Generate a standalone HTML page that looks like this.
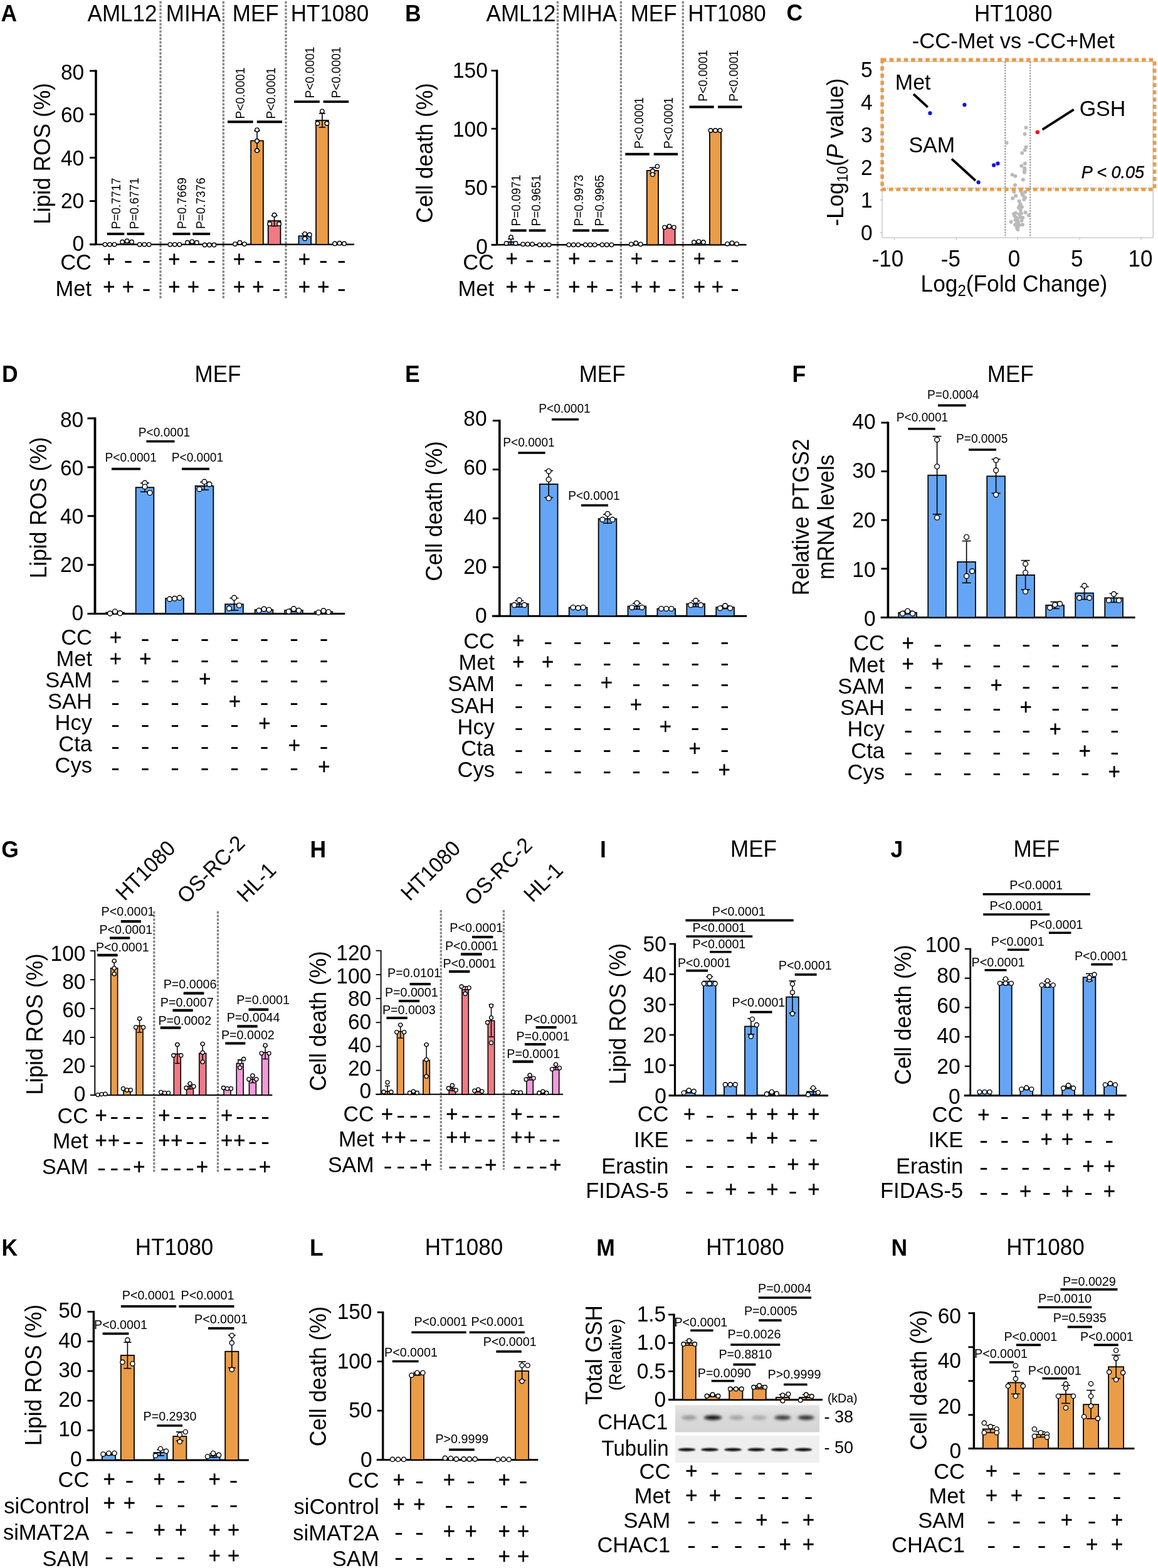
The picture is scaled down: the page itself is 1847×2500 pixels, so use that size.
<!DOCTYPE html>
<html><head><meta charset="utf-8"><title>Figure</title>
<style>html,body{margin:0;padding:0;background:#fff;}svg{display:block;}</style></head>
<body>
<svg width="1847" height="2500" viewBox="0 0 1847 2500" font-family="'Liberation Sans', Arial, Helvetica, sans-serif">
<defs><filter id="b1" x="-20%" y="-100%" width="140%" height="300%"><feGaussianBlur stdDeviation="1.1"/></filter><filter id="b2" x="-30%" y="-150%" width="160%" height="400%"><feGaussianBlur stdDeviation="2.2"/></filter><linearGradient id="gb1" x1="0" y1="0" x2="0" y2="1"><stop offset="0" stop-color="#e4e4e4"/><stop offset="0.4" stop-color="#dadada"/><stop offset="1" stop-color="#d4d4d4"/></linearGradient></defs>
<rect width="1847" height="2500" fill="#fff"/>
<text transform="translate(1.5,34) scale(1,1.04)" font-size="35.5" font-weight="bold">A</text>
<text transform="translate(195,34) scale(1,1.04)" font-size="35" text-anchor="middle">AML12</text>
<text transform="translate(308.5,34) scale(1,1.04)" font-size="35" text-anchor="middle">MIHA</text>
<text transform="translate(407.8,34) scale(1,1.04)" font-size="35" text-anchor="middle">MEF</text>
<text transform="translate(526,34) scale(1,1.04)" font-size="35" text-anchor="middle">HT1080</text>
<line x1="256" y1="2" x2="256" y2="476" stroke="#858585" stroke-width="3.3" stroke-dasharray="3.7 2.1"/>
<line x1="356.3" y1="2" x2="356.3" y2="476" stroke="#858585" stroke-width="3.3" stroke-dasharray="3.7 2.1"/>
<line x1="456" y1="2" x2="456" y2="476" stroke="#858585" stroke-width="3.3" stroke-dasharray="3.7 2.1"/>
<line x1="153" y1="111.56" x2="153" y2="389.8" stroke="#000" stroke-width="3.6"/>
<line x1="143" y1="389.8" x2="153" y2="389.8" stroke="#000" stroke-width="2.88"/>
<line x1="143" y1="320.6" x2="153" y2="320.6" stroke="#000" stroke-width="2.88"/>
<line x1="143" y1="251.4" x2="153" y2="251.4" stroke="#000" stroke-width="2.88"/>
<line x1="143" y1="182.2" x2="153" y2="182.2" stroke="#000" stroke-width="2.88"/>
<line x1="143" y1="113" x2="153" y2="113" stroke="#000" stroke-width="2.88"/>
<text transform="translate(134.2,399.75) scale(1,1.04)" font-size="33.5" text-anchor="end">0</text>
<text transform="translate(134.2,331.65) scale(1,1.04)" font-size="33.5" text-anchor="end">20</text>
<text transform="translate(134.2,263.56) scale(1,1.04)" font-size="33.5" text-anchor="end">40</text>
<text transform="translate(134.2,195.47) scale(1,1.04)" font-size="33.5" text-anchor="end">60</text>
<text transform="translate(134.2,127.37) scale(1,1.04)" font-size="33.5" text-anchor="end">80</text>
<line x1="143" y1="389.8" x2="565" y2="389.8" stroke="#000" stroke-width="2.6"/>
<text transform="translate(80,245) rotate(-90) scale(1,1.04)" font-size="35.3" text-anchor="middle">Lipid ROS (%)</text>
<rect x="165.15" y="389.28" width="19.7" height="0.52" fill="#64A6F5" stroke="#000" stroke-width="1.8"/>
<circle cx="167.5" cy="389.8" r="3.2" fill="#fff" stroke="#000" stroke-width="1.4"/>
<circle cx="175" cy="389.8" r="3.2" fill="#fff" stroke="#000" stroke-width="1.4"/>
<circle cx="182.5" cy="389.8" r="3.2" fill="#fff" stroke="#000" stroke-width="1.4"/>
<rect x="192.75" y="386.34" width="19.7" height="3.46" fill="#EB9C47" stroke="#000" stroke-width="1.8"/>
<line x1="202.6" y1="387.38" x2="202.6" y2="385.3" stroke="#000" stroke-width="1.6"/>
<line x1="197.6" y1="385.3" x2="207.6" y2="385.3" stroke="#000" stroke-width="1.6"/>
<line x1="197.6" y1="387.38" x2="207.6" y2="387.38" stroke="#000" stroke-width="1.6"/>
<circle cx="195.1" cy="385.65" r="3.2" fill="#fff" stroke="#000" stroke-width="1.4"/>
<circle cx="202.6" cy="384.26" r="3.2" fill="#fff" stroke="#000" stroke-width="1.4"/>
<circle cx="210.1" cy="385.65" r="3.2" fill="#fff" stroke="#000" stroke-width="1.4"/>
<rect x="220.35" y="389.45" width="19.7" height="0.35" fill="#F07A84" stroke="#000" stroke-width="1.8"/>
<circle cx="222.7" cy="389.8" r="3.2" fill="#fff" stroke="#000" stroke-width="1.4"/>
<circle cx="230.2" cy="389.8" r="3.2" fill="#fff" stroke="#000" stroke-width="1.4"/>
<circle cx="237.7" cy="389.8" r="3.2" fill="#fff" stroke="#000" stroke-width="1.4"/>
<rect x="268.95" y="389.45" width="19.7" height="0.35" fill="#64A6F5" stroke="#000" stroke-width="1.8"/>
<circle cx="271.3" cy="389.8" r="3.2" fill="#fff" stroke="#000" stroke-width="1.4"/>
<circle cx="278.8" cy="389.8" r="3.2" fill="#fff" stroke="#000" stroke-width="1.4"/>
<circle cx="286.3" cy="389.8" r="3.2" fill="#fff" stroke="#000" stroke-width="1.4"/>
<rect x="296.55" y="387.03" width="19.7" height="2.77" fill="#EB9C47" stroke="#000" stroke-width="1.8"/>
<line x1="306.4" y1="387.72" x2="306.4" y2="386.34" stroke="#000" stroke-width="1.6"/>
<line x1="301.4" y1="386.34" x2="311.4" y2="386.34" stroke="#000" stroke-width="1.6"/>
<line x1="301.4" y1="387.72" x2="311.4" y2="387.72" stroke="#000" stroke-width="1.6"/>
<circle cx="298.9" cy="386.69" r="3.2" fill="#fff" stroke="#000" stroke-width="1.4"/>
<circle cx="306.4" cy="385.3" r="3.2" fill="#fff" stroke="#000" stroke-width="1.4"/>
<circle cx="313.9" cy="386.69" r="3.2" fill="#fff" stroke="#000" stroke-width="1.4"/>
<rect x="324.15" y="389.45" width="19.7" height="0.35" fill="#F07A84" stroke="#000" stroke-width="1.8"/>
<circle cx="326.5" cy="390.49" r="3.2" fill="#fff" stroke="#000" stroke-width="1.4"/>
<circle cx="334" cy="390.49" r="3.2" fill="#fff" stroke="#000" stroke-width="1.4"/>
<circle cx="341.5" cy="390.49" r="3.2" fill="#fff" stroke="#000" stroke-width="1.4"/>
<rect x="372.55" y="388.42" width="19.7" height="1.38" fill="#64A6F5" stroke="#000" stroke-width="1.8"/>
<line x1="382.4" y1="389.45" x2="382.4" y2="387.38" stroke="#000" stroke-width="1.6"/>
<line x1="377.4" y1="387.38" x2="387.4" y2="387.38" stroke="#000" stroke-width="1.6"/>
<line x1="377.4" y1="389.45" x2="387.4" y2="389.45" stroke="#000" stroke-width="1.6"/>
<circle cx="374.9" cy="389.11" r="3.2" fill="#fff" stroke="#000" stroke-width="1.4"/>
<circle cx="382.4" cy="386.69" r="3.2" fill="#fff" stroke="#000" stroke-width="1.4"/>
<circle cx="389.9" cy="389.11" r="3.2" fill="#fff" stroke="#000" stroke-width="1.4"/>
<rect x="400.15" y="224.41" width="19.7" height="165.39" fill="#EB9C47" stroke="#000" stroke-width="1.8"/>
<line x1="410" y1="240.33" x2="410" y2="208.5" stroke="#000" stroke-width="1.6"/>
<line x1="405" y1="208.5" x2="415" y2="208.5" stroke="#000" stroke-width="1.6"/>
<line x1="405" y1="240.33" x2="415" y2="240.33" stroke="#000" stroke-width="1.6"/>
<circle cx="410" cy="207.11" r="3.2" fill="#fff" stroke="#000" stroke-width="1.4"/>
<circle cx="410" cy="224.76" r="3.2" fill="#fff" stroke="#000" stroke-width="1.4"/>
<circle cx="410" cy="239.98" r="3.2" fill="#fff" stroke="#000" stroke-width="1.4"/>
<rect x="427.75" y="352.09" width="19.7" height="37.71" fill="#F07A84" stroke="#000" stroke-width="1.8"/>
<line x1="437.6" y1="360.39" x2="437.6" y2="343.78" stroke="#000" stroke-width="1.6"/>
<line x1="432.6" y1="343.78" x2="442.6" y2="343.78" stroke="#000" stroke-width="1.6"/>
<line x1="432.6" y1="360.39" x2="442.6" y2="360.39" stroke="#000" stroke-width="1.6"/>
<circle cx="437.6" cy="342.74" r="3.2" fill="#fff" stroke="#000" stroke-width="1.4"/>
<circle cx="430.1" cy="356.93" r="3.2" fill="#fff" stroke="#000" stroke-width="1.4"/>
<circle cx="445.1" cy="356.93" r="3.2" fill="#fff" stroke="#000" stroke-width="1.4"/>
<rect x="476.45" y="376.31" width="19.7" height="13.49" fill="#64A6F5" stroke="#000" stroke-width="1.8"/>
<line x1="486.3" y1="379.77" x2="486.3" y2="372.85" stroke="#000" stroke-width="1.6"/>
<line x1="481.3" y1="372.85" x2="491.3" y2="372.85" stroke="#000" stroke-width="1.6"/>
<line x1="481.3" y1="379.77" x2="491.3" y2="379.77" stroke="#000" stroke-width="1.6"/>
<circle cx="486.3" cy="372.85" r="3.2" fill="#fff" stroke="#000" stroke-width="1.4"/>
<circle cx="493.8" cy="374.23" r="3.2" fill="#fff" stroke="#000" stroke-width="1.4"/>
<circle cx="486.3" cy="380.46" r="3.2" fill="#fff" stroke="#000" stroke-width="1.4"/>
<rect x="504.05" y="191.89" width="19.7" height="197.91" fill="#EB9C47" stroke="#000" stroke-width="1.8"/>
<line x1="513.9" y1="202.96" x2="513.9" y2="180.82" stroke="#000" stroke-width="1.6"/>
<line x1="508.9" y1="180.82" x2="518.9" y2="180.82" stroke="#000" stroke-width="1.6"/>
<line x1="508.9" y1="202.96" x2="518.9" y2="202.96" stroke="#000" stroke-width="1.6"/>
<circle cx="506.4" cy="196.73" r="3.2" fill="#fff" stroke="#000" stroke-width="1.4"/>
<circle cx="521.4" cy="196.73" r="3.2" fill="#fff" stroke="#000" stroke-width="1.4"/>
<circle cx="513.9" cy="177.36" r="3.2" fill="#fff" stroke="#000" stroke-width="1.4"/>
<rect x="531.65" y="388.42" width="19.7" height="1.38" fill="#F07A84" stroke="#000" stroke-width="1.8"/>
<line x1="541.5" y1="389.11" x2="541.5" y2="387.72" stroke="#000" stroke-width="1.6"/>
<line x1="536.5" y1="387.72" x2="546.5" y2="387.72" stroke="#000" stroke-width="1.6"/>
<line x1="536.5" y1="389.11" x2="546.5" y2="389.11" stroke="#000" stroke-width="1.6"/>
<circle cx="534" cy="388.42" r="3.2" fill="#fff" stroke="#000" stroke-width="1.4"/>
<circle cx="541.5" cy="387.72" r="3.2" fill="#fff" stroke="#000" stroke-width="1.4"/>
<circle cx="549" cy="388.42" r="3.2" fill="#fff" stroke="#000" stroke-width="1.4"/>
<line x1="170.8" y1="372.9" x2="198.4" y2="372.9" stroke="#000" stroke-width="3.9"/>
<text transform="translate(192.26,365.2) rotate(-90) scale(0.95,1.04)" font-size="20">P=0.7717</text>
<line x1="202.5" y1="372.9" x2="230.2" y2="372.9" stroke="#000" stroke-width="3.9"/>
<text transform="translate(221.16,365.2) rotate(-90) scale(0.95,1.04)" font-size="20">P=0.6771</text>
<line x1="275.4" y1="372.9" x2="303.4" y2="372.9" stroke="#000" stroke-width="3.9"/>
<text transform="translate(297.16,365.1) rotate(-90) scale(0.95,1.04)" font-size="20">P=0.7669</text>
<line x1="307.2" y1="372.9" x2="335.2" y2="372.9" stroke="#000" stroke-width="3.9"/>
<text transform="translate(326.86,365.1) rotate(-90) scale(0.95,1.04)" font-size="20">P=0.7376</text>
<line x1="363" y1="194.3" x2="403.6" y2="194.3" stroke="#000" stroke-width="3.9"/>
<text transform="translate(390.06,189.5) rotate(-90) scale(0.95,1.04)" font-size="20">P&lt;0.0001</text>
<line x1="409.8" y1="194.3" x2="450.1" y2="194.3" stroke="#000" stroke-width="3.9"/>
<text transform="translate(439.46,189.5) rotate(-90) scale(0.95,1.04)" font-size="20">P&lt;0.0001</text>
<line x1="469.1" y1="162.1" x2="509.8" y2="162.1" stroke="#000" stroke-width="3.9"/>
<text transform="translate(500.96,156.5) rotate(-90) scale(0.95,1.04)" font-size="20">P&lt;0.0001</text>
<line x1="515.6" y1="162.1" x2="556.1" y2="162.1" stroke="#000" stroke-width="3.9"/>
<text transform="translate(543.46,156.5) rotate(-90) scale(0.95,1.04)" font-size="20">P&lt;0.0001</text>
<text transform="translate(146,430.2) scale(1,1.04)" font-size="34.5" text-anchor="end">CC</text>
<text transform="translate(174,424.81) scale(1,1.04)" font-size="33" text-anchor="middle" stroke="#000" stroke-width="0.35">+</text>
<text transform="translate(204.5,426.92) scale(1.28,1.12)" font-size="33" text-anchor="middle">-</text>
<text transform="translate(233.5,426.92) scale(1.28,1.12)" font-size="33" text-anchor="middle">-</text>
<text transform="translate(277.8,424.81) scale(1,1.04)" font-size="33" text-anchor="middle" stroke="#000" stroke-width="0.35">+</text>
<text transform="translate(308.3,426.92) scale(1.28,1.12)" font-size="33" text-anchor="middle">-</text>
<text transform="translate(337.3,426.92) scale(1.28,1.12)" font-size="33" text-anchor="middle">-</text>
<text transform="translate(381.4,424.81) scale(1,1.04)" font-size="33" text-anchor="middle" stroke="#000" stroke-width="0.35">+</text>
<text transform="translate(411.9,426.92) scale(1.28,1.12)" font-size="33" text-anchor="middle">-</text>
<text transform="translate(440.9,426.92) scale(1.28,1.12)" font-size="33" text-anchor="middle">-</text>
<text transform="translate(485.3,424.81) scale(1,1.04)" font-size="33" text-anchor="middle" stroke="#000" stroke-width="0.35">+</text>
<text transform="translate(515.8,426.92) scale(1.28,1.12)" font-size="33" text-anchor="middle">-</text>
<text transform="translate(544.8,426.92) scale(1.28,1.12)" font-size="33" text-anchor="middle">-</text>
<text transform="translate(146,472.2) scale(1,1.04)" font-size="34.5" text-anchor="end">Met</text>
<text transform="translate(174,469.41) scale(1,1.04)" font-size="33" text-anchor="middle" stroke="#000" stroke-width="0.35">+</text>
<text transform="translate(204.5,469.41) scale(1,1.04)" font-size="33" text-anchor="middle" stroke="#000" stroke-width="0.35">+</text>
<text transform="translate(233.5,471.52) scale(1.28,1.12)" font-size="33" text-anchor="middle">-</text>
<text transform="translate(277.8,469.41) scale(1,1.04)" font-size="33" text-anchor="middle" stroke="#000" stroke-width="0.35">+</text>
<text transform="translate(308.3,469.41) scale(1,1.04)" font-size="33" text-anchor="middle" stroke="#000" stroke-width="0.35">+</text>
<text transform="translate(337.3,471.52) scale(1.28,1.12)" font-size="33" text-anchor="middle">-</text>
<text transform="translate(381.4,469.41) scale(1,1.04)" font-size="33" text-anchor="middle" stroke="#000" stroke-width="0.35">+</text>
<text transform="translate(411.9,469.41) scale(1,1.04)" font-size="33" text-anchor="middle" stroke="#000" stroke-width="0.35">+</text>
<text transform="translate(440.9,471.52) scale(1.28,1.12)" font-size="33" text-anchor="middle">-</text>
<text transform="translate(485.3,469.41) scale(1,1.04)" font-size="33" text-anchor="middle" stroke="#000" stroke-width="0.35">+</text>
<text transform="translate(515.8,469.41) scale(1,1.04)" font-size="33" text-anchor="middle" stroke="#000" stroke-width="0.35">+</text>
<text transform="translate(544.8,471.52) scale(1.28,1.12)" font-size="33" text-anchor="middle">-</text>
<text transform="translate(646,34) scale(1,1.04)" font-size="35.5" font-weight="bold">B</text>
<text transform="translate(831,34) scale(1,1.04)" font-size="35" text-anchor="middle">AML12</text>
<text transform="translate(940.3,34) scale(1,1.04)" font-size="35" text-anchor="middle">MIHA</text>
<text transform="translate(1042.6,34) scale(1,1.04)" font-size="35" text-anchor="middle">MEF</text>
<text transform="translate(1159.6,34) scale(1,1.04)" font-size="35" text-anchor="middle">HT1080</text>
<line x1="889.5" y1="2" x2="889.5" y2="476" stroke="#858585" stroke-width="3.3" stroke-dasharray="3.7 2.1"/>
<line x1="990.4" y1="2" x2="990.4" y2="476" stroke="#858585" stroke-width="3.3" stroke-dasharray="3.7 2.1"/>
<line x1="1089.3" y1="2" x2="1089.3" y2="476" stroke="#858585" stroke-width="3.3" stroke-dasharray="3.7 2.1"/>
<line x1="792.6" y1="111.29" x2="792.6" y2="390.3" stroke="#000" stroke-width="3.4"/>
<line x1="783.6" y1="390.3" x2="792.6" y2="390.3" stroke="#000" stroke-width="2.72"/>
<line x1="783.6" y1="297.75" x2="792.6" y2="297.75" stroke="#000" stroke-width="2.72"/>
<line x1="783.6" y1="205.2" x2="792.6" y2="205.2" stroke="#000" stroke-width="2.72"/>
<line x1="783.6" y1="112.65" x2="792.6" y2="112.65" stroke="#000" stroke-width="2.72"/>
<text transform="translate(777.8,404.85) scale(1,1.04)" font-size="33.5" text-anchor="end">0</text>
<text transform="translate(777.8,311.37) scale(1,1.04)" font-size="33.5" text-anchor="end">50</text>
<text transform="translate(777.8,217.9) scale(1,1.04)" font-size="33.5" text-anchor="end">100</text>
<text transform="translate(777.8,124.42) scale(1,1.04)" font-size="33.5" text-anchor="end">150</text>
<line x1="784" y1="390.3" x2="1190.5" y2="390.3" stroke="#000" stroke-width="2.6"/>
<text transform="translate(690,244) rotate(-90) scale(1,1.04)" font-size="35.3" text-anchor="middle">Cell death (%)</text>
<rect x="805.9" y="385.67" width="18.2" height="4.63" fill="#64A6F5" stroke="#000" stroke-width="1.8"/>
<line x1="815" y1="390.3" x2="815" y2="381.05" stroke="#000" stroke-width="1.6"/>
<line x1="810" y1="381.05" x2="820" y2="381.05" stroke="#000" stroke-width="1.6"/>
<circle cx="815" cy="378.27" r="3.2" fill="#fff" stroke="#000" stroke-width="1.4"/>
<circle cx="807.5" cy="388.08" r="3.2" fill="#fff" stroke="#000" stroke-width="1.4"/>
<circle cx="822.5" cy="388.08" r="3.2" fill="#fff" stroke="#000" stroke-width="1.4"/>
<rect x="832.5" y="389.56" width="18.2" height="0.74" fill="#EB9C47" stroke="#000" stroke-width="1.8"/>
<circle cx="834.1" cy="389.37" r="3.2" fill="#fff" stroke="#000" stroke-width="1.4"/>
<circle cx="841.6" cy="389.37" r="3.2" fill="#fff" stroke="#000" stroke-width="1.4"/>
<circle cx="849.1" cy="389.37" r="3.2" fill="#fff" stroke="#000" stroke-width="1.4"/>
<rect x="859.1" y="389.93" width="18.2" height="0.37" fill="#F07A84" stroke="#000" stroke-width="1.8"/>
<circle cx="860.7" cy="390.3" r="3.2" fill="#fff" stroke="#000" stroke-width="1.4"/>
<circle cx="868.2" cy="390.3" r="3.2" fill="#fff" stroke="#000" stroke-width="1.4"/>
<circle cx="875.7" cy="390.3" r="3.2" fill="#fff" stroke="#000" stroke-width="1.4"/>
<rect x="905.6" y="389.93" width="18.2" height="0.37" fill="#64A6F5" stroke="#000" stroke-width="1.8"/>
<circle cx="907.2" cy="390.3" r="3.2" fill="#fff" stroke="#000" stroke-width="1.4"/>
<circle cx="914.7" cy="390.3" r="3.2" fill="#fff" stroke="#000" stroke-width="1.4"/>
<circle cx="922.2" cy="390.3" r="3.2" fill="#fff" stroke="#000" stroke-width="1.4"/>
<rect x="932.2" y="389.93" width="18.2" height="0.37" fill="#EB9C47" stroke="#000" stroke-width="1.8"/>
<circle cx="933.8" cy="390.3" r="3.2" fill="#fff" stroke="#000" stroke-width="1.4"/>
<circle cx="941.3" cy="390.3" r="3.2" fill="#fff" stroke="#000" stroke-width="1.4"/>
<circle cx="948.8" cy="390.3" r="3.2" fill="#fff" stroke="#000" stroke-width="1.4"/>
<rect x="958.8" y="389.93" width="18.2" height="0.37" fill="#F07A84" stroke="#000" stroke-width="1.8"/>
<circle cx="960.4" cy="390.3" r="3.2" fill="#fff" stroke="#000" stroke-width="1.4"/>
<circle cx="967.9" cy="390.3" r="3.2" fill="#fff" stroke="#000" stroke-width="1.4"/>
<circle cx="975.4" cy="390.3" r="3.2" fill="#fff" stroke="#000" stroke-width="1.4"/>
<rect x="1005.2" y="388.82" width="18.2" height="1.48" fill="#64A6F5" stroke="#000" stroke-width="1.8"/>
<line x1="1014.3" y1="389.74" x2="1014.3" y2="387.89" stroke="#000" stroke-width="1.6"/>
<line x1="1009.3" y1="387.89" x2="1019.3" y2="387.89" stroke="#000" stroke-width="1.6"/>
<line x1="1009.3" y1="389.74" x2="1019.3" y2="389.74" stroke="#000" stroke-width="1.6"/>
<circle cx="1006.8" cy="389.37" r="3.2" fill="#fff" stroke="#000" stroke-width="1.4"/>
<circle cx="1014.3" cy="387.52" r="3.2" fill="#fff" stroke="#000" stroke-width="1.4"/>
<circle cx="1021.8" cy="389.37" r="3.2" fill="#fff" stroke="#000" stroke-width="1.4"/>
<rect x="1031.8" y="272.02" width="18.2" height="118.28" fill="#EB9C47" stroke="#000" stroke-width="1.8"/>
<line x1="1040.9" y1="276.83" x2="1040.9" y2="267.21" stroke="#000" stroke-width="1.6"/>
<line x1="1035.9" y1="267.21" x2="1045.9" y2="267.21" stroke="#000" stroke-width="1.6"/>
<line x1="1035.9" y1="276.83" x2="1045.9" y2="276.83" stroke="#000" stroke-width="1.6"/>
<circle cx="1048.4" cy="265.36" r="3.2" fill="#fff" stroke="#000" stroke-width="1.4"/>
<circle cx="1040.9" cy="272.76" r="3.2" fill="#fff" stroke="#000" stroke-width="1.4"/>
<circle cx="1040.9" cy="278.31" r="3.2" fill="#fff" stroke="#000" stroke-width="1.4"/>
<rect x="1058.4" y="361.98" width="18.2" height="28.32" fill="#F07A84" stroke="#000" stroke-width="1.8"/>
<line x1="1067.5" y1="363.46" x2="1067.5" y2="360.5" stroke="#000" stroke-width="1.6"/>
<line x1="1062.5" y1="360.5" x2="1072.5" y2="360.5" stroke="#000" stroke-width="1.6"/>
<line x1="1062.5" y1="363.46" x2="1072.5" y2="363.46" stroke="#000" stroke-width="1.6"/>
<circle cx="1060" cy="362.54" r="3.2" fill="#fff" stroke="#000" stroke-width="1.4"/>
<circle cx="1067.5" cy="360.68" r="3.2" fill="#fff" stroke="#000" stroke-width="1.4"/>
<circle cx="1075" cy="362.54" r="3.2" fill="#fff" stroke="#000" stroke-width="1.4"/>
<rect x="1105.3" y="386.6" width="18.2" height="3.7" fill="#64A6F5" stroke="#000" stroke-width="1.8"/>
<line x1="1114.4" y1="387.71" x2="1114.4" y2="385.49" stroke="#000" stroke-width="1.6"/>
<line x1="1109.4" y1="385.49" x2="1119.4" y2="385.49" stroke="#000" stroke-width="1.6"/>
<line x1="1109.4" y1="387.71" x2="1119.4" y2="387.71" stroke="#000" stroke-width="1.6"/>
<circle cx="1106.9" cy="386.23" r="3.2" fill="#fff" stroke="#000" stroke-width="1.4"/>
<circle cx="1114.4" cy="385.12" r="3.2" fill="#fff" stroke="#000" stroke-width="1.4"/>
<circle cx="1121.9" cy="386.23" r="3.2" fill="#fff" stroke="#000" stroke-width="1.4"/>
<rect x="1131.9" y="208.35" width="18.2" height="181.95" fill="#EB9C47" stroke="#000" stroke-width="1.8"/>
<line x1="1141" y1="209.09" x2="1141" y2="207.61" stroke="#000" stroke-width="1.6"/>
<line x1="1136" y1="207.61" x2="1146" y2="207.61" stroke="#000" stroke-width="1.6"/>
<line x1="1136" y1="209.09" x2="1146" y2="209.09" stroke="#000" stroke-width="1.6"/>
<circle cx="1133.5" cy="207.98" r="3.2" fill="#fff" stroke="#000" stroke-width="1.4"/>
<circle cx="1141" cy="207.98" r="3.2" fill="#fff" stroke="#000" stroke-width="1.4"/>
<circle cx="1148.5" cy="207.98" r="3.2" fill="#fff" stroke="#000" stroke-width="1.4"/>
<rect x="1158.5" y="388.45" width="18.2" height="1.85" fill="#F07A84" stroke="#000" stroke-width="1.8"/>
<line x1="1167.6" y1="389.19" x2="1167.6" y2="387.71" stroke="#000" stroke-width="1.6"/>
<line x1="1162.6" y1="387.71" x2="1172.6" y2="387.71" stroke="#000" stroke-width="1.6"/>
<line x1="1162.6" y1="389.19" x2="1172.6" y2="389.19" stroke="#000" stroke-width="1.6"/>
<circle cx="1160.1" cy="388.82" r="3.2" fill="#fff" stroke="#000" stroke-width="1.4"/>
<circle cx="1167.6" cy="387.52" r="3.2" fill="#fff" stroke="#000" stroke-width="1.4"/>
<circle cx="1175.1" cy="388.82" r="3.2" fill="#fff" stroke="#000" stroke-width="1.4"/>
<line x1="814" y1="367.5" x2="839.7" y2="367.5" stroke="#000" stroke-width="4"/>
<text transform="translate(829.86,360.4) rotate(-90) scale(0.95,1.04)" font-size="20">P=0.0971</text>
<line x1="843.7" y1="367.5" x2="870.4" y2="367.5" stroke="#000" stroke-width="4"/>
<text transform="translate(862.26,360.4) rotate(-90) scale(0.95,1.04)" font-size="20">P=0.9651</text>
<line x1="913.3" y1="367.5" x2="940.1" y2="367.5" stroke="#000" stroke-width="4"/>
<text transform="translate(930.26,360.4) rotate(-90) scale(0.95,1.04)" font-size="20">P=0.9973</text>
<line x1="944" y1="367.5" x2="970.8" y2="367.5" stroke="#000" stroke-width="4"/>
<text transform="translate(962.76,360.4) rotate(-90) scale(0.95,1.04)" font-size="20">P=0.9965</text>
<line x1="997.3" y1="245.8" x2="1035.8" y2="245.8" stroke="#000" stroke-width="4"/>
<text transform="translate(1026.16,237) rotate(-90) scale(0.95,1.04)" font-size="20">P&lt;0.0001</text>
<line x1="1042.7" y1="245.8" x2="1081" y2="245.8" stroke="#000" stroke-width="4"/>
<text transform="translate(1072.56,237) rotate(-90) scale(0.95,1.04)" font-size="20">P&lt;0.0001</text>
<line x1="1099.6" y1="170.4" x2="1138.7" y2="170.4" stroke="#000" stroke-width="4"/>
<text transform="translate(1128.16,161.7) rotate(-90) scale(0.95,1.04)" font-size="20">P&lt;0.0001</text>
<line x1="1145" y1="170.4" x2="1183.5" y2="170.4" stroke="#000" stroke-width="4"/>
<text transform="translate(1176.56,161.7) rotate(-90) scale(0.95,1.04)" font-size="20">P&lt;0.0001</text>
<text transform="translate(788,429.5) scale(1,1.04)" font-size="34.5" text-anchor="end">CC</text>
<text transform="translate(816.1,423.81) scale(1,1.04)" font-size="33" text-anchor="middle" stroke="#000" stroke-width="0.35">+</text>
<text transform="translate(844.9,425.92) scale(1.28,1.12)" font-size="33" text-anchor="middle">-</text>
<text transform="translate(872.7,425.92) scale(1.28,1.12)" font-size="33" text-anchor="middle">-</text>
<text transform="translate(915.8,423.81) scale(1,1.04)" font-size="33" text-anchor="middle" stroke="#000" stroke-width="0.35">+</text>
<text transform="translate(944.6,425.92) scale(1.28,1.12)" font-size="33" text-anchor="middle">-</text>
<text transform="translate(972.4,425.92) scale(1.28,1.12)" font-size="33" text-anchor="middle">-</text>
<text transform="translate(1015.4,423.81) scale(1,1.04)" font-size="33" text-anchor="middle" stroke="#000" stroke-width="0.35">+</text>
<text transform="translate(1044.2,425.92) scale(1.28,1.12)" font-size="33" text-anchor="middle">-</text>
<text transform="translate(1072,425.92) scale(1.28,1.12)" font-size="33" text-anchor="middle">-</text>
<text transform="translate(1115.5,423.81) scale(1,1.04)" font-size="33" text-anchor="middle" stroke="#000" stroke-width="0.35">+</text>
<text transform="translate(1144.3,425.92) scale(1.28,1.12)" font-size="33" text-anchor="middle">-</text>
<text transform="translate(1172.1,425.92) scale(1.28,1.12)" font-size="33" text-anchor="middle">-</text>
<text transform="translate(788,471.5) scale(1,1.04)" font-size="34.5" text-anchor="end">Met</text>
<text transform="translate(816.1,469.41) scale(1,1.04)" font-size="33" text-anchor="middle" stroke="#000" stroke-width="0.35">+</text>
<text transform="translate(844.9,469.41) scale(1,1.04)" font-size="33" text-anchor="middle" stroke="#000" stroke-width="0.35">+</text>
<text transform="translate(872.7,471.52) scale(1.28,1.12)" font-size="33" text-anchor="middle">-</text>
<text transform="translate(915.8,469.41) scale(1,1.04)" font-size="33" text-anchor="middle" stroke="#000" stroke-width="0.35">+</text>
<text transform="translate(944.6,469.41) scale(1,1.04)" font-size="33" text-anchor="middle" stroke="#000" stroke-width="0.35">+</text>
<text transform="translate(972.4,471.52) scale(1.28,1.12)" font-size="33" text-anchor="middle">-</text>
<text transform="translate(1015.4,469.41) scale(1,1.04)" font-size="33" text-anchor="middle" stroke="#000" stroke-width="0.35">+</text>
<text transform="translate(1044.2,469.41) scale(1,1.04)" font-size="33" text-anchor="middle" stroke="#000" stroke-width="0.35">+</text>
<text transform="translate(1072,471.52) scale(1.28,1.12)" font-size="33" text-anchor="middle">-</text>
<text transform="translate(1115.5,469.41) scale(1,1.04)" font-size="33" text-anchor="middle" stroke="#000" stroke-width="0.35">+</text>
<text transform="translate(1144.3,469.41) scale(1,1.04)" font-size="33" text-anchor="middle" stroke="#000" stroke-width="0.35">+</text>
<text transform="translate(1172.1,471.52) scale(1.28,1.12)" font-size="33" text-anchor="middle">-</text>
<text transform="translate(1254.5,33.3) scale(1,1.04)" font-size="35.5" font-weight="bold">C</text>
<text transform="translate(1616.3,33.8) scale(1,1.04)" font-size="35" text-anchor="middle">HT1080</text>
<text transform="translate(1616.3,77.2) scale(1,1.04)" font-size="34.5" text-anchor="middle">-CC-Met vs -CC+Met</text>
<rect x="1407" y="98.2" width="432.2" height="280.7" fill="none" stroke="#c4c4c4" stroke-width="1.3"/>
<line x1="1426.6" y1="378.9" x2="1426.6" y2="382.5" stroke="#b0b0b0" stroke-width="1"/>
<line x1="1525.6" y1="378.9" x2="1525.6" y2="382.5" stroke="#b0b0b0" stroke-width="1"/>
<line x1="1623.1" y1="378.9" x2="1623.1" y2="382.5" stroke="#b0b0b0" stroke-width="1"/>
<line x1="1722" y1="378.9" x2="1722" y2="382.5" stroke="#b0b0b0" stroke-width="1"/>
<line x1="1820.1" y1="378.9" x2="1820.1" y2="382.5" stroke="#b0b0b0" stroke-width="1"/>
<line x1="1404" y1="370.8" x2="1407" y2="370.8" stroke="#b0b0b0" stroke-width="1"/>
<line x1="1404" y1="318.9" x2="1407" y2="318.9" stroke="#b0b0b0" stroke-width="1"/>
<line x1="1404" y1="267" x2="1407" y2="267" stroke="#b0b0b0" stroke-width="1"/>
<line x1="1404" y1="215.1" x2="1407" y2="215.1" stroke="#b0b0b0" stroke-width="1"/>
<line x1="1404" y1="163.2" x2="1407" y2="163.2" stroke="#b0b0b0" stroke-width="1"/>
<line x1="1404" y1="111.3" x2="1407" y2="111.3" stroke="#b0b0b0" stroke-width="1"/>
<line x1="1603.2" y1="98.5" x2="1603.2" y2="378.5" stroke="#444" stroke-width="1.1" stroke-dasharray="2.4 1.9"/>
<line x1="1643.1" y1="98.5" x2="1643.1" y2="378.5" stroke="#444" stroke-width="1.1" stroke-dasharray="2.4 1.9"/>
<line x1="1407" y1="300" x2="1839" y2="300" stroke="#777" stroke-width="1.2" stroke-dasharray="2 2"/>
<circle cx="1636.5" cy="203.5" r="3" fill="#bababa"/>
<circle cx="1634.6" cy="213.8" r="3" fill="#bababa"/>
<circle cx="1605.5" cy="227.7" r="3" fill="#bababa"/>
<circle cx="1636.5" cy="234.5" r="3" fill="#bababa"/>
<circle cx="1634.6" cy="239.2" r="3" fill="#bababa"/>
<circle cx="1630.2" cy="244.1" r="3" fill="#bababa"/>
<circle cx="1634.9" cy="260.8" r="3" fill="#bababa"/>
<circle cx="1629.3" cy="264.5" r="3" fill="#bababa"/>
<circle cx="1634.2" cy="268.3" r="3" fill="#bababa"/>
<circle cx="1634.2" cy="271.5" r="3" fill="#bababa"/>
<circle cx="1634" cy="274.8" r="3" fill="#bababa"/>
<circle cx="1614.6" cy="278.4" r="3" fill="#bababa"/>
<circle cx="1619.3" cy="280.7" r="3" fill="#bababa"/>
<circle cx="1631.8" cy="286.6" r="3" fill="#bababa"/>
<circle cx="1619" cy="295.3" r="3" fill="#bababa"/>
<circle cx="1635.1" cy="306.3" r="3" fill="#bababa"/>
<circle cx="1617.3" cy="305.8" r="3" fill="#bababa"/>
<circle cx="1620.1" cy="312.2" r="3" fill="#bababa"/>
<circle cx="1615.2" cy="316.3" r="3" fill="#bababa"/>
<circle cx="1635.1" cy="315.2" r="3" fill="#bababa"/>
<circle cx="1633.2" cy="318" r="3" fill="#bababa"/>
<circle cx="1630.4" cy="309.6" r="3" fill="#bababa"/>
<circle cx="1625.7" cy="320.8" r="3" fill="#bababa"/>
<circle cx="1627.6" cy="325.5" r="3" fill="#bababa"/>
<circle cx="1624.8" cy="331.2" r="3" fill="#bababa"/>
<circle cx="1627.6" cy="335" r="3" fill="#bababa"/>
<circle cx="1620.1" cy="339.6" r="3" fill="#bababa"/>
<circle cx="1625.7" cy="341.5" r="3" fill="#bababa"/>
<circle cx="1635.6" cy="338.7" r="3" fill="#bababa"/>
<circle cx="1640.8" cy="343.2" r="3" fill="#bababa"/>
<circle cx="1631.4" cy="347.1" r="3" fill="#bababa"/>
<circle cx="1621" cy="347.1" r="3" fill="#bababa"/>
<circle cx="1612.6" cy="353.7" r="3" fill="#bababa"/>
<circle cx="1623.8" cy="353.7" r="3" fill="#bababa"/>
<circle cx="1629.5" cy="351.8" r="3" fill="#bababa"/>
<circle cx="1630.9" cy="358.2" r="3" fill="#bababa"/>
<circle cx="1619.2" cy="358.4" r="3" fill="#bababa"/>
<circle cx="1622" cy="363.1" r="3" fill="#bababa"/>
<circle cx="1623.4" cy="365.9" r="3" fill="#bababa"/>
<circle cx="1625.7" cy="358.4" r="3" fill="#bababa"/>
<circle cx="1618.2" cy="344.3" r="3" fill="#bababa"/>
<circle cx="1622.9" cy="349" r="3" fill="#bababa"/>
<circle cx="1628.5" cy="305" r="3" fill="#bababa"/>
<circle cx="1632" cy="312" r="3" fill="#bababa"/>
<circle cx="1626.5" cy="328" r="3" fill="#bababa"/>
<circle cx="1629" cy="340" r="3" fill="#bababa"/>
<circle cx="1621.5" cy="356" r="3" fill="#bababa"/>
<circle cx="1624" cy="361" r="3" fill="#bababa"/>
<circle cx="1619.5" cy="350.5" r="3" fill="#bababa"/>
<circle cx="1627.2" cy="346" r="3" fill="#bababa"/>
<circle cx="1617" cy="341" r="3" fill="#bababa"/>
<circle cx="1630" cy="330" r="3" fill="#bababa"/>
<circle cx="1483.4" cy="180.4" r="3.1" fill="#1010F0"/>
<circle cx="1538.4" cy="167.2" r="3.1" fill="#1010F0"/>
<circle cx="1585.1" cy="263.4" r="3.1" fill="#1010F0"/>
<circle cx="1591.5" cy="260.7" r="3.1" fill="#1010F0"/>
<circle cx="1560.6" cy="290.7" r="3.1" fill="#1010F0"/>
<circle cx="1654.8" cy="210.8" r="3.2" fill="#F01010"/>
<rect x="1407.1" y="95.4" width="434.4" height="206.6" fill="none" stroke="#EB9C47" stroke-width="5.6" stroke-dasharray="6.6 4.9"/>
<text transform="translate(1456.2,142.7) scale(1,1.04)" font-size="34" text-anchor="middle">Met</text>
<text transform="translate(1486.2,243.4) scale(1,1.04)" font-size="34" text-anchor="middle">SAM</text>
<text transform="translate(1758.5,185) scale(1,1.04)" font-size="34" text-anchor="middle">GSH</text>
<line x1="1457" y1="150" x2="1479.8" y2="170.8" stroke="#000" stroke-width="3.8"/>
<line x1="1517.9" y1="253.4" x2="1556" y2="288" stroke="#000" stroke-width="3.8"/>
<line x1="1662.6" y1="206.7" x2="1712.7" y2="174.6" stroke="#000" stroke-width="3.8"/>
<text transform="translate(1774.9,284.2) scale(1,1.04)" font-size="27" text-anchor="middle" font-style="italic" stroke="#000" stroke-width="0.4">P &lt; 0.05</text>
<text transform="translate(1391.7,382.96) scale(1,1.04)" font-size="33.5" text-anchor="end">0</text>
<text transform="translate(1391.7,331.06) scale(1,1.04)" font-size="33.5" text-anchor="end">1</text>
<text transform="translate(1391.7,279.16) scale(1,1.04)" font-size="33.5" text-anchor="end">2</text>
<text transform="translate(1391.7,227.26) scale(1,1.04)" font-size="33.5" text-anchor="end">3</text>
<text transform="translate(1391.7,175.36) scale(1,1.04)" font-size="33.5" text-anchor="end">4</text>
<text transform="translate(1391.7,123.46) scale(1,1.04)" font-size="33.5" text-anchor="end">5</text>
<text transform="translate(1416,424.5) scale(1,1.04)" font-size="35" text-anchor="middle">-10</text>
<text transform="translate(1516.4,424.5) scale(1,1.04)" font-size="35" text-anchor="middle">-5</text>
<text transform="translate(1617.5,424.5) scale(1,1.04)" font-size="35" text-anchor="middle">0</text>
<text transform="translate(1717.8,424.5) scale(1,1.04)" font-size="35" text-anchor="middle">5</text>
<text transform="translate(1818.9,424.5) scale(1,1.04)" font-size="35" text-anchor="middle">10</text>
<text transform="translate(1468.5,464.6) scale(1,1.04)" font-size="35.3">Log<tspan font-size="24" dy="7">2</tspan><tspan dy="-7">(Fold Change)</tspan></text>
<text transform="translate(1345,242.7) rotate(-90) scale(1,1.04)" font-size="35" text-anchor="middle">-Log<tspan font-size="23" dy="7">10</tspan><tspan dy="-7">(</tspan><tspan font-style="italic">P</tspan> value)</text>
<text transform="translate(3,608.7) scale(1,1.04)" font-size="35.5" font-weight="bold">D</text>
<text transform="translate(347.5,608.8) scale(1,1.04)" font-size="35" text-anchor="middle">MEF</text>
<line x1="151.5" y1="665.46" x2="151.5" y2="978.5" stroke="#000" stroke-width="3.8"/>
<line x1="139.5" y1="978.5" x2="151.5" y2="978.5" stroke="#000" stroke-width="3.04"/>
<line x1="139.5" y1="900.62" x2="151.5" y2="900.62" stroke="#000" stroke-width="3.04"/>
<line x1="139.5" y1="822.74" x2="151.5" y2="822.74" stroke="#000" stroke-width="3.04"/>
<line x1="139.5" y1="744.86" x2="151.5" y2="744.86" stroke="#000" stroke-width="3.04"/>
<line x1="139.5" y1="666.98" x2="151.5" y2="666.98" stroke="#000" stroke-width="3.04"/>
<text transform="translate(133.2,989.1) scale(1,1.04)" font-size="33.5" text-anchor="end">0</text>
<text transform="translate(133.2,912) scale(1,1.04)" font-size="33.5" text-anchor="end">20</text>
<text transform="translate(133.2,834.9) scale(1,1.04)" font-size="33.5" text-anchor="end">40</text>
<text transform="translate(133.2,757.8) scale(1,1.04)" font-size="33.5" text-anchor="end">60</text>
<text transform="translate(133.2,680.7) scale(1,1.04)" font-size="33.5" text-anchor="end">80</text>
<line x1="140" y1="978.5" x2="550" y2="978.5" stroke="#000" stroke-width="3"/>
<text transform="translate(73.5,809.5) rotate(-90) scale(1,1.04)" font-size="35.3" text-anchor="middle">Lipid ROS (%)</text>
<rect x="169.15" y="976.55" width="28.7" height="1.95" fill="#64A6F5" stroke="#000" stroke-width="1.8"/>
<line x1="183.5" y1="977.72" x2="183.5" y2="975.38" stroke="#000" stroke-width="1.6"/>
<line x1="176.5" y1="975.38" x2="190.5" y2="975.38" stroke="#000" stroke-width="1.6"/>
<line x1="176.5" y1="977.72" x2="190.5" y2="977.72" stroke="#000" stroke-width="1.6"/>
<circle cx="175.5" cy="978.11" r="3.9" fill="#fff" stroke="#000" stroke-width="1.4"/>
<circle cx="183.5" cy="975" r="3.9" fill="#fff" stroke="#000" stroke-width="1.4"/>
<circle cx="191.5" cy="977.72" r="3.9" fill="#fff" stroke="#000" stroke-width="1.4"/>
<rect x="216.65" y="777.18" width="28.7" height="201.32" fill="#64A6F5" stroke="#000" stroke-width="1.8"/>
<line x1="231" y1="784.19" x2="231" y2="770.17" stroke="#000" stroke-width="1.6"/>
<line x1="224" y1="770.17" x2="238" y2="770.17" stroke="#000" stroke-width="1.6"/>
<line x1="224" y1="784.19" x2="238" y2="784.19" stroke="#000" stroke-width="1.6"/>
<circle cx="231" cy="770.17" r="3.9" fill="#fff" stroke="#000" stroke-width="1.4"/>
<circle cx="231" cy="776.01" r="3.9" fill="#fff" stroke="#000" stroke-width="1.4"/>
<circle cx="239" cy="785.75" r="3.9" fill="#fff" stroke="#000" stroke-width="1.4"/>
<rect x="264.15" y="953.97" width="28.7" height="24.53" fill="#64A6F5" stroke="#000" stroke-width="1.8"/>
<line x1="278.5" y1="955.14" x2="278.5" y2="952.8" stroke="#000" stroke-width="1.6"/>
<line x1="271.5" y1="952.8" x2="285.5" y2="952.8" stroke="#000" stroke-width="1.6"/>
<line x1="271.5" y1="955.14" x2="285.5" y2="955.14" stroke="#000" stroke-width="1.6"/>
<circle cx="270.5" cy="955.14" r="3.9" fill="#fff" stroke="#000" stroke-width="1.4"/>
<circle cx="286.5" cy="953.19" r="3.9" fill="#fff" stroke="#000" stroke-width="1.4"/>
<circle cx="278.5" cy="954.36" r="3.9" fill="#fff" stroke="#000" stroke-width="1.4"/>
<rect x="311.65" y="774.84" width="28.7" height="203.66" fill="#64A6F5" stroke="#000" stroke-width="1.8"/>
<line x1="326" y1="781.07" x2="326" y2="768.61" stroke="#000" stroke-width="1.6"/>
<line x1="319" y1="768.61" x2="333" y2="768.61" stroke="#000" stroke-width="1.6"/>
<line x1="319" y1="781.07" x2="333" y2="781.07" stroke="#000" stroke-width="1.6"/>
<circle cx="326" cy="768.22" r="3.9" fill="#fff" stroke="#000" stroke-width="1.4"/>
<circle cx="318" cy="779.91" r="3.9" fill="#fff" stroke="#000" stroke-width="1.4"/>
<circle cx="334" cy="772.12" r="3.9" fill="#fff" stroke="#000" stroke-width="1.4"/>
<rect x="359.15" y="963.31" width="28.7" height="15.19" fill="#64A6F5" stroke="#000" stroke-width="1.8"/>
<line x1="373.5" y1="973.05" x2="373.5" y2="953.58" stroke="#000" stroke-width="1.6"/>
<line x1="366.5" y1="953.58" x2="380.5" y2="953.58" stroke="#000" stroke-width="1.6"/>
<line x1="366.5" y1="973.05" x2="380.5" y2="973.05" stroke="#000" stroke-width="1.6"/>
<circle cx="373.5" cy="953.19" r="3.9" fill="#fff" stroke="#000" stroke-width="1.4"/>
<circle cx="365.5" cy="969.93" r="3.9" fill="#fff" stroke="#000" stroke-width="1.4"/>
<circle cx="381.5" cy="965.26" r="3.9" fill="#fff" stroke="#000" stroke-width="1.4"/>
<rect x="406.65" y="972.27" width="28.7" height="6.23" fill="#64A6F5" stroke="#000" stroke-width="1.8"/>
<line x1="421" y1="973.83" x2="421" y2="970.71" stroke="#000" stroke-width="1.6"/>
<line x1="414" y1="970.71" x2="428" y2="970.71" stroke="#000" stroke-width="1.6"/>
<line x1="414" y1="973.83" x2="428" y2="973.83" stroke="#000" stroke-width="1.6"/>
<circle cx="413" cy="973.44" r="3.9" fill="#fff" stroke="#000" stroke-width="1.4"/>
<circle cx="421" cy="971.1" r="3.9" fill="#fff" stroke="#000" stroke-width="1.4"/>
<circle cx="429" cy="972.27" r="3.9" fill="#fff" stroke="#000" stroke-width="1.4"/>
<rect x="454.15" y="973.05" width="28.7" height="5.45" fill="#64A6F5" stroke="#000" stroke-width="1.8"/>
<line x1="468.5" y1="975.38" x2="468.5" y2="970.71" stroke="#000" stroke-width="1.6"/>
<line x1="461.5" y1="970.71" x2="475.5" y2="970.71" stroke="#000" stroke-width="1.6"/>
<line x1="461.5" y1="975.38" x2="475.5" y2="975.38" stroke="#000" stroke-width="1.6"/>
<circle cx="460.5" cy="975" r="3.9" fill="#fff" stroke="#000" stroke-width="1.4"/>
<circle cx="468.5" cy="970.71" r="3.9" fill="#fff" stroke="#000" stroke-width="1.4"/>
<circle cx="476.5" cy="973.44" r="3.9" fill="#fff" stroke="#000" stroke-width="1.4"/>
<rect x="501.65" y="975.38" width="28.7" height="3.12" fill="#64A6F5" stroke="#000" stroke-width="1.8"/>
<line x1="516" y1="976.55" x2="516" y2="974.22" stroke="#000" stroke-width="1.6"/>
<line x1="509" y1="974.22" x2="523" y2="974.22" stroke="#000" stroke-width="1.6"/>
<line x1="509" y1="976.55" x2="523" y2="976.55" stroke="#000" stroke-width="1.6"/>
<circle cx="508" cy="976.55" r="3.9" fill="#fff" stroke="#000" stroke-width="1.4"/>
<circle cx="516" cy="973.83" r="3.9" fill="#fff" stroke="#000" stroke-width="1.4"/>
<circle cx="524" cy="975.77" r="3.9" fill="#fff" stroke="#000" stroke-width="1.4"/>
<line x1="178" y1="747.6" x2="224" y2="747.6" stroke="#000" stroke-width="3.6"/>
<text transform="translate(208.7,736.4) scale(0.97,1.04)" font-size="19.7" text-anchor="middle">P&lt;0.0001</text>
<line x1="233.4" y1="703.8" x2="278.5" y2="703.8" stroke="#000" stroke-width="3.6"/>
<text transform="translate(262,696) scale(0.97,1.04)" font-size="19.7" text-anchor="middle">P&lt;0.0001</text>
<line x1="290" y1="747.6" x2="334" y2="747.6" stroke="#000" stroke-width="3.6"/>
<text transform="translate(314.9,736.4) scale(0.97,1.04)" font-size="19.7" text-anchor="middle">P&lt;0.0001</text>
<text transform="translate(147,1027.5) scale(1,1.04)" font-size="34.5" text-anchor="end">CC</text>
<text transform="translate(184.3,1027.81) scale(1,1.04)" font-size="33" text-anchor="middle" stroke="#000" stroke-width="0.35">+</text>
<text transform="translate(231.6,1029.92) scale(1.28,1.12)" font-size="33" text-anchor="middle">-</text>
<text transform="translate(279.1,1029.92) scale(1.28,1.12)" font-size="33" text-anchor="middle">-</text>
<text transform="translate(326.6,1029.92) scale(1.28,1.12)" font-size="33" text-anchor="middle">-</text>
<text transform="translate(374.1,1029.92) scale(1.28,1.12)" font-size="33" text-anchor="middle">-</text>
<text transform="translate(421.6,1029.92) scale(1.28,1.12)" font-size="33" text-anchor="middle">-</text>
<text transform="translate(469.1,1029.92) scale(1.28,1.12)" font-size="33" text-anchor="middle">-</text>
<text transform="translate(516.6,1029.92) scale(1.28,1.12)" font-size="33" text-anchor="middle">-</text>
<text transform="translate(147,1061.55) scale(1,1.04)" font-size="34.5" text-anchor="end">Met</text>
<text transform="translate(184.3,1061.71) scale(1,1.04)" font-size="33" text-anchor="middle" stroke="#000" stroke-width="0.35">+</text>
<text transform="translate(231.8,1061.71) scale(1,1.04)" font-size="33" text-anchor="middle" stroke="#000" stroke-width="0.35">+</text>
<text transform="translate(279.1,1063.82) scale(1.28,1.12)" font-size="33" text-anchor="middle">-</text>
<text transform="translate(326.6,1063.82) scale(1.28,1.12)" font-size="33" text-anchor="middle">-</text>
<text transform="translate(374.1,1063.82) scale(1.28,1.12)" font-size="33" text-anchor="middle">-</text>
<text transform="translate(421.6,1063.82) scale(1.28,1.12)" font-size="33" text-anchor="middle">-</text>
<text transform="translate(469.1,1063.82) scale(1.28,1.12)" font-size="33" text-anchor="middle">-</text>
<text transform="translate(516.6,1063.82) scale(1.28,1.12)" font-size="33" text-anchor="middle">-</text>
<text transform="translate(147,1095.6) scale(1,1.04)" font-size="34.5" text-anchor="end">SAM</text>
<text transform="translate(184.1,1096.32) scale(1.28,1.12)" font-size="33" text-anchor="middle">-</text>
<text transform="translate(231.6,1096.32) scale(1.28,1.12)" font-size="33" text-anchor="middle">-</text>
<text transform="translate(279.1,1096.32) scale(1.28,1.12)" font-size="33" text-anchor="middle">-</text>
<text transform="translate(326.8,1094.21) scale(1,1.04)" font-size="33" text-anchor="middle" stroke="#000" stroke-width="0.35">+</text>
<text transform="translate(374.1,1096.32) scale(1.28,1.12)" font-size="33" text-anchor="middle">-</text>
<text transform="translate(421.6,1096.32) scale(1.28,1.12)" font-size="33" text-anchor="middle">-</text>
<text transform="translate(469.1,1096.32) scale(1.28,1.12)" font-size="33" text-anchor="middle">-</text>
<text transform="translate(516.6,1096.32) scale(1.28,1.12)" font-size="33" text-anchor="middle">-</text>
<text transform="translate(147,1129.65) scale(1,1.04)" font-size="34.5" text-anchor="end">SAH</text>
<text transform="translate(184.1,1131.62) scale(1.28,1.12)" font-size="33" text-anchor="middle">-</text>
<text transform="translate(231.6,1131.62) scale(1.28,1.12)" font-size="33" text-anchor="middle">-</text>
<text transform="translate(279.1,1131.62) scale(1.28,1.12)" font-size="33" text-anchor="middle">-</text>
<text transform="translate(326.6,1131.62) scale(1.28,1.12)" font-size="33" text-anchor="middle">-</text>
<text transform="translate(374.3,1129.51) scale(1,1.04)" font-size="33" text-anchor="middle" stroke="#000" stroke-width="0.35">+</text>
<text transform="translate(421.6,1131.62) scale(1.28,1.12)" font-size="33" text-anchor="middle">-</text>
<text transform="translate(469.1,1131.62) scale(1.28,1.12)" font-size="33" text-anchor="middle">-</text>
<text transform="translate(516.6,1131.62) scale(1.28,1.12)" font-size="33" text-anchor="middle">-</text>
<text transform="translate(147,1163.7) scale(1,1.04)" font-size="34.5" text-anchor="end">Hcy</text>
<text transform="translate(184.1,1167.22) scale(1.28,1.12)" font-size="33" text-anchor="middle">-</text>
<text transform="translate(231.6,1167.22) scale(1.28,1.12)" font-size="33" text-anchor="middle">-</text>
<text transform="translate(279.1,1167.22) scale(1.28,1.12)" font-size="33" text-anchor="middle">-</text>
<text transform="translate(326.6,1167.22) scale(1.28,1.12)" font-size="33" text-anchor="middle">-</text>
<text transform="translate(374.1,1167.22) scale(1.28,1.12)" font-size="33" text-anchor="middle">-</text>
<text transform="translate(421.8,1165.11) scale(1,1.04)" font-size="33" text-anchor="middle" stroke="#000" stroke-width="0.35">+</text>
<text transform="translate(469.1,1167.22) scale(1.28,1.12)" font-size="33" text-anchor="middle">-</text>
<text transform="translate(516.6,1167.22) scale(1.28,1.12)" font-size="33" text-anchor="middle">-</text>
<text transform="translate(147,1197.75) scale(1,1.04)" font-size="34.5" text-anchor="end">Cta</text>
<text transform="translate(184.1,1202.32) scale(1.28,1.12)" font-size="33" text-anchor="middle">-</text>
<text transform="translate(231.6,1202.32) scale(1.28,1.12)" font-size="33" text-anchor="middle">-</text>
<text transform="translate(279.1,1202.32) scale(1.28,1.12)" font-size="33" text-anchor="middle">-</text>
<text transform="translate(326.6,1202.32) scale(1.28,1.12)" font-size="33" text-anchor="middle">-</text>
<text transform="translate(374.1,1202.32) scale(1.28,1.12)" font-size="33" text-anchor="middle">-</text>
<text transform="translate(421.6,1202.32) scale(1.28,1.12)" font-size="33" text-anchor="middle">-</text>
<text transform="translate(469.3,1200.21) scale(1,1.04)" font-size="33" text-anchor="middle" stroke="#000" stroke-width="0.35">+</text>
<text transform="translate(516.6,1202.32) scale(1.28,1.12)" font-size="33" text-anchor="middle">-</text>
<text transform="translate(147,1231.8) scale(1,1.04)" font-size="34.5" text-anchor="end">Cys</text>
<text transform="translate(184.1,1236.32) scale(1.28,1.12)" font-size="33" text-anchor="middle">-</text>
<text transform="translate(231.6,1236.32) scale(1.28,1.12)" font-size="33" text-anchor="middle">-</text>
<text transform="translate(279.1,1236.32) scale(1.28,1.12)" font-size="33" text-anchor="middle">-</text>
<text transform="translate(326.6,1236.32) scale(1.28,1.12)" font-size="33" text-anchor="middle">-</text>
<text transform="translate(374.1,1236.32) scale(1.28,1.12)" font-size="33" text-anchor="middle">-</text>
<text transform="translate(421.6,1236.32) scale(1.28,1.12)" font-size="33" text-anchor="middle">-</text>
<text transform="translate(469.1,1236.32) scale(1.28,1.12)" font-size="33" text-anchor="middle">-</text>
<text transform="translate(516.8,1234.21) scale(1,1.04)" font-size="33" text-anchor="middle" stroke="#000" stroke-width="0.35">+</text>
<text transform="translate(646,608.7) scale(1,1.04)" font-size="35.5" font-weight="bold">E</text>
<text transform="translate(960.6,608.8) scale(1,1.04)" font-size="35" text-anchor="middle">MEF</text>
<line x1="796.8" y1="669.24" x2="796.8" y2="982.2" stroke="#000" stroke-width="3.6"/>
<line x1="785.8" y1="982.2" x2="796.8" y2="982.2" stroke="#000" stroke-width="2.88"/>
<line x1="785.8" y1="904.32" x2="796.8" y2="904.32" stroke="#000" stroke-width="2.88"/>
<line x1="785.8" y1="826.44" x2="796.8" y2="826.44" stroke="#000" stroke-width="2.88"/>
<line x1="785.8" y1="748.56" x2="796.8" y2="748.56" stroke="#000" stroke-width="2.88"/>
<line x1="785.8" y1="670.68" x2="796.8" y2="670.68" stroke="#000" stroke-width="2.88"/>
<text transform="translate(776.6,993.32) scale(1,1.04)" font-size="33.5" text-anchor="end">0</text>
<text transform="translate(776.6,914.66) scale(1,1.04)" font-size="33.5" text-anchor="end">20</text>
<text transform="translate(776.6,836) scale(1,1.04)" font-size="33.5" text-anchor="end">40</text>
<text transform="translate(776.6,757.34) scale(1,1.04)" font-size="33.5" text-anchor="end">60</text>
<text transform="translate(776.6,678.68) scale(1,1.04)" font-size="33.5" text-anchor="end">80</text>
<line x1="785" y1="982.2" x2="1191.2" y2="982.2" stroke="#000" stroke-width="3"/>
<text transform="translate(705,815) rotate(-90) scale(1,1.04)" font-size="35.3" text-anchor="middle">Cell death (%)</text>
<rect x="813.95" y="962.73" width="28.7" height="19.47" fill="#64A6F5" stroke="#000" stroke-width="1.8"/>
<line x1="828.3" y1="967.79" x2="828.3" y2="957.67" stroke="#000" stroke-width="1.6"/>
<line x1="821.3" y1="957.67" x2="835.3" y2="957.67" stroke="#000" stroke-width="1.6"/>
<line x1="821.3" y1="967.79" x2="835.3" y2="967.79" stroke="#000" stroke-width="1.6"/>
<circle cx="828.3" cy="956.89" r="3.9" fill="#fff" stroke="#000" stroke-width="1.4"/>
<circle cx="820.3" cy="964.68" r="3.9" fill="#fff" stroke="#000" stroke-width="1.4"/>
<circle cx="836.3" cy="964.68" r="3.9" fill="#fff" stroke="#000" stroke-width="1.4"/>
<rect x="860.85" y="771.92" width="28.7" height="210.28" fill="#64A6F5" stroke="#000" stroke-width="1.8"/>
<line x1="875.2" y1="793.34" x2="875.2" y2="750.51" stroke="#000" stroke-width="1.6"/>
<line x1="868.2" y1="750.51" x2="882.2" y2="750.51" stroke="#000" stroke-width="1.6"/>
<line x1="868.2" y1="793.34" x2="882.2" y2="793.34" stroke="#000" stroke-width="1.6"/>
<circle cx="875.2" cy="751.29" r="3.9" fill="#fff" stroke="#000" stroke-width="1.4"/>
<circle cx="875.2" cy="764.53" r="3.9" fill="#fff" stroke="#000" stroke-width="1.4"/>
<circle cx="875.2" cy="794.51" r="3.9" fill="#fff" stroke="#000" stroke-width="1.4"/>
<rect x="907.75" y="968.57" width="28.7" height="13.63" fill="#64A6F5" stroke="#000" stroke-width="1.8"/>
<line x1="922.1" y1="970.13" x2="922.1" y2="967.01" stroke="#000" stroke-width="1.6"/>
<line x1="915.1" y1="967.01" x2="929.1" y2="967.01" stroke="#000" stroke-width="1.6"/>
<line x1="915.1" y1="970.13" x2="929.1" y2="970.13" stroke="#000" stroke-width="1.6"/>
<circle cx="914.1" cy="968.57" r="3.9" fill="#fff" stroke="#000" stroke-width="1.4"/>
<circle cx="922.1" cy="969.35" r="3.9" fill="#fff" stroke="#000" stroke-width="1.4"/>
<circle cx="930.1" cy="968.57" r="3.9" fill="#fff" stroke="#000" stroke-width="1.4"/>
<rect x="954.65" y="827.22" width="28.7" height="154.98" fill="#64A6F5" stroke="#000" stroke-width="1.8"/>
<line x1="969" y1="834.23" x2="969" y2="820.21" stroke="#000" stroke-width="1.6"/>
<line x1="962" y1="820.21" x2="976" y2="820.21" stroke="#000" stroke-width="1.6"/>
<line x1="962" y1="834.23" x2="976" y2="834.23" stroke="#000" stroke-width="1.6"/>
<circle cx="969" cy="819.43" r="3.9" fill="#fff" stroke="#000" stroke-width="1.4"/>
<circle cx="961" cy="828.39" r="3.9" fill="#fff" stroke="#000" stroke-width="1.4"/>
<circle cx="977" cy="828.39" r="3.9" fill="#fff" stroke="#000" stroke-width="1.4"/>
<rect x="1001.55" y="966.62" width="28.7" height="15.58" fill="#64A6F5" stroke="#000" stroke-width="1.8"/>
<line x1="1015.9" y1="971.3" x2="1015.9" y2="961.95" stroke="#000" stroke-width="1.6"/>
<line x1="1008.9" y1="961.95" x2="1022.9" y2="961.95" stroke="#000" stroke-width="1.6"/>
<line x1="1008.9" y1="971.3" x2="1022.9" y2="971.3" stroke="#000" stroke-width="1.6"/>
<circle cx="1015.9" cy="961.56" r="3.9" fill="#fff" stroke="#000" stroke-width="1.4"/>
<circle cx="1007.9" cy="968.57" r="3.9" fill="#fff" stroke="#000" stroke-width="1.4"/>
<circle cx="1023.9" cy="968.57" r="3.9" fill="#fff" stroke="#000" stroke-width="1.4"/>
<rect x="1048.45" y="970.52" width="28.7" height="11.68" fill="#64A6F5" stroke="#000" stroke-width="1.8"/>
<line x1="1062.8" y1="971.69" x2="1062.8" y2="969.35" stroke="#000" stroke-width="1.6"/>
<line x1="1055.8" y1="969.35" x2="1069.8" y2="969.35" stroke="#000" stroke-width="1.6"/>
<line x1="1055.8" y1="971.69" x2="1069.8" y2="971.69" stroke="#000" stroke-width="1.6"/>
<circle cx="1054.8" cy="970.52" r="3.9" fill="#fff" stroke="#000" stroke-width="1.4"/>
<circle cx="1062.8" cy="970.52" r="3.9" fill="#fff" stroke="#000" stroke-width="1.4"/>
<circle cx="1070.8" cy="970.52" r="3.9" fill="#fff" stroke="#000" stroke-width="1.4"/>
<rect x="1095.35" y="962.73" width="28.7" height="19.47" fill="#64A6F5" stroke="#000" stroke-width="1.8"/>
<line x1="1109.7" y1="967.4" x2="1109.7" y2="958.06" stroke="#000" stroke-width="1.6"/>
<line x1="1102.7" y1="958.06" x2="1116.7" y2="958.06" stroke="#000" stroke-width="1.6"/>
<line x1="1102.7" y1="967.4" x2="1116.7" y2="967.4" stroke="#000" stroke-width="1.6"/>
<circle cx="1109.7" cy="957.67" r="3.9" fill="#fff" stroke="#000" stroke-width="1.4"/>
<circle cx="1101.7" cy="964.68" r="3.9" fill="#fff" stroke="#000" stroke-width="1.4"/>
<circle cx="1117.7" cy="964.68" r="3.9" fill="#fff" stroke="#000" stroke-width="1.4"/>
<rect x="1142.25" y="968.18" width="28.7" height="14.02" fill="#64A6F5" stroke="#000" stroke-width="1.8"/>
<line x1="1156.6" y1="970.52" x2="1156.6" y2="965.85" stroke="#000" stroke-width="1.6"/>
<line x1="1149.6" y1="965.85" x2="1163.6" y2="965.85" stroke="#000" stroke-width="1.6"/>
<line x1="1149.6" y1="970.52" x2="1163.6" y2="970.52" stroke="#000" stroke-width="1.6"/>
<circle cx="1156.6" cy="965.85" r="3.9" fill="#fff" stroke="#000" stroke-width="1.4"/>
<circle cx="1148.6" cy="969.74" r="3.9" fill="#fff" stroke="#000" stroke-width="1.4"/>
<circle cx="1164.6" cy="969.74" r="3.9" fill="#fff" stroke="#000" stroke-width="1.4"/>
<line x1="826.4" y1="722" x2="869.6" y2="722" stroke="#000" stroke-width="3.6"/>
<text transform="translate(843.5,712) scale(0.97,1.04)" font-size="19.7" text-anchor="middle">P&lt;0.0001</text>
<line x1="880" y1="668.8" x2="923" y2="668.8" stroke="#000" stroke-width="3.6"/>
<text transform="translate(900.5,658.3) scale(0.97,1.04)" font-size="19.7" text-anchor="middle">P&lt;0.0001</text>
<line x1="927" y1="805.8" x2="970" y2="805.8" stroke="#000" stroke-width="3.6"/>
<text transform="translate(947.5,796.5) scale(0.97,1.04)" font-size="19.7" text-anchor="middle">P&lt;0.0001</text>
<text transform="translate(789,1033.8) scale(1,1.04)" font-size="34.5" text-anchor="end">CC</text>
<text transform="translate(826.8,1033.21) scale(1,1.04)" font-size="33" text-anchor="middle" stroke="#000" stroke-width="0.35">+</text>
<text transform="translate(874.4,1035.32) scale(1.28,1.12)" font-size="33" text-anchor="middle">-</text>
<text transform="translate(921.3,1035.32) scale(1.28,1.12)" font-size="33" text-anchor="middle">-</text>
<text transform="translate(968.2,1035.32) scale(1.28,1.12)" font-size="33" text-anchor="middle">-</text>
<text transform="translate(1015.1,1035.32) scale(1.28,1.12)" font-size="33" text-anchor="middle">-</text>
<text transform="translate(1062,1035.32) scale(1.28,1.12)" font-size="33" text-anchor="middle">-</text>
<text transform="translate(1108.9,1035.32) scale(1.28,1.12)" font-size="33" text-anchor="middle">-</text>
<text transform="translate(1155.8,1035.32) scale(1.28,1.12)" font-size="33" text-anchor="middle">-</text>
<text transform="translate(789,1068.05) scale(1,1.04)" font-size="34.5" text-anchor="end">Met</text>
<text transform="translate(826.8,1067.31) scale(1,1.04)" font-size="33" text-anchor="middle" stroke="#000" stroke-width="0.35">+</text>
<text transform="translate(873.7,1067.31) scale(1,1.04)" font-size="33" text-anchor="middle" stroke="#000" stroke-width="0.35">+</text>
<text transform="translate(921.3,1069.42) scale(1.28,1.12)" font-size="33" text-anchor="middle">-</text>
<text transform="translate(968.2,1069.42) scale(1.28,1.12)" font-size="33" text-anchor="middle">-</text>
<text transform="translate(1015.1,1069.42) scale(1.28,1.12)" font-size="33" text-anchor="middle">-</text>
<text transform="translate(1062,1069.42) scale(1.28,1.12)" font-size="33" text-anchor="middle">-</text>
<text transform="translate(1108.9,1069.42) scale(1.28,1.12)" font-size="33" text-anchor="middle">-</text>
<text transform="translate(1155.8,1069.42) scale(1.28,1.12)" font-size="33" text-anchor="middle">-</text>
<text transform="translate(789,1102.3) scale(1,1.04)" font-size="34.5" text-anchor="end">SAM</text>
<text transform="translate(827.5,1102.32) scale(1.28,1.12)" font-size="33" text-anchor="middle">-</text>
<text transform="translate(874.4,1102.32) scale(1.28,1.12)" font-size="33" text-anchor="middle">-</text>
<text transform="translate(921.3,1102.32) scale(1.28,1.12)" font-size="33" text-anchor="middle">-</text>
<text transform="translate(967.5,1100.21) scale(1,1.04)" font-size="33" text-anchor="middle" stroke="#000" stroke-width="0.35">+</text>
<text transform="translate(1015.1,1102.32) scale(1.28,1.12)" font-size="33" text-anchor="middle">-</text>
<text transform="translate(1062,1102.32) scale(1.28,1.12)" font-size="33" text-anchor="middle">-</text>
<text transform="translate(1108.9,1102.32) scale(1.28,1.12)" font-size="33" text-anchor="middle">-</text>
<text transform="translate(1155.8,1102.32) scale(1.28,1.12)" font-size="33" text-anchor="middle">-</text>
<text transform="translate(789,1136.55) scale(1,1.04)" font-size="34.5" text-anchor="end">SAH</text>
<text transform="translate(827.5,1137.22) scale(1.28,1.12)" font-size="33" text-anchor="middle">-</text>
<text transform="translate(874.4,1137.22) scale(1.28,1.12)" font-size="33" text-anchor="middle">-</text>
<text transform="translate(921.3,1137.22) scale(1.28,1.12)" font-size="33" text-anchor="middle">-</text>
<text transform="translate(968.2,1137.22) scale(1.28,1.12)" font-size="33" text-anchor="middle">-</text>
<text transform="translate(1014.4,1135.11) scale(1,1.04)" font-size="33" text-anchor="middle" stroke="#000" stroke-width="0.35">+</text>
<text transform="translate(1062,1137.22) scale(1.28,1.12)" font-size="33" text-anchor="middle">-</text>
<text transform="translate(1108.9,1137.22) scale(1.28,1.12)" font-size="33" text-anchor="middle">-</text>
<text transform="translate(1155.8,1137.22) scale(1.28,1.12)" font-size="33" text-anchor="middle">-</text>
<text transform="translate(789,1170.8) scale(1,1.04)" font-size="34.5" text-anchor="end">Hcy</text>
<text transform="translate(827.5,1172.42) scale(1.28,1.12)" font-size="33" text-anchor="middle">-</text>
<text transform="translate(874.4,1172.42) scale(1.28,1.12)" font-size="33" text-anchor="middle">-</text>
<text transform="translate(921.3,1172.42) scale(1.28,1.12)" font-size="33" text-anchor="middle">-</text>
<text transform="translate(968.2,1172.42) scale(1.28,1.12)" font-size="33" text-anchor="middle">-</text>
<text transform="translate(1015.1,1172.42) scale(1.28,1.12)" font-size="33" text-anchor="middle">-</text>
<text transform="translate(1061.3,1170.31) scale(1,1.04)" font-size="33" text-anchor="middle" stroke="#000" stroke-width="0.35">+</text>
<text transform="translate(1108.9,1172.42) scale(1.28,1.12)" font-size="33" text-anchor="middle">-</text>
<text transform="translate(1155.8,1172.42) scale(1.28,1.12)" font-size="33" text-anchor="middle">-</text>
<text transform="translate(789,1205.05) scale(1,1.04)" font-size="34.5" text-anchor="end">Cta</text>
<text transform="translate(827.5,1207.02) scale(1.28,1.12)" font-size="33" text-anchor="middle">-</text>
<text transform="translate(874.4,1207.02) scale(1.28,1.12)" font-size="33" text-anchor="middle">-</text>
<text transform="translate(921.3,1207.02) scale(1.28,1.12)" font-size="33" text-anchor="middle">-</text>
<text transform="translate(968.2,1207.02) scale(1.28,1.12)" font-size="33" text-anchor="middle">-</text>
<text transform="translate(1015.1,1207.02) scale(1.28,1.12)" font-size="33" text-anchor="middle">-</text>
<text transform="translate(1062,1207.02) scale(1.28,1.12)" font-size="33" text-anchor="middle">-</text>
<text transform="translate(1108.2,1204.91) scale(1,1.04)" font-size="33" text-anchor="middle" stroke="#000" stroke-width="0.35">+</text>
<text transform="translate(1155.8,1207.02) scale(1.28,1.12)" font-size="33" text-anchor="middle">-</text>
<text transform="translate(789,1239.3) scale(1,1.04)" font-size="34.5" text-anchor="end">Cys</text>
<text transform="translate(827.5,1240.62) scale(1.28,1.12)" font-size="33" text-anchor="middle">-</text>
<text transform="translate(874.4,1240.62) scale(1.28,1.12)" font-size="33" text-anchor="middle">-</text>
<text transform="translate(921.3,1240.62) scale(1.28,1.12)" font-size="33" text-anchor="middle">-</text>
<text transform="translate(968.2,1240.62) scale(1.28,1.12)" font-size="33" text-anchor="middle">-</text>
<text transform="translate(1015.1,1240.62) scale(1.28,1.12)" font-size="33" text-anchor="middle">-</text>
<text transform="translate(1062,1240.62) scale(1.28,1.12)" font-size="33" text-anchor="middle">-</text>
<text transform="translate(1108.9,1240.62) scale(1.28,1.12)" font-size="33" text-anchor="middle">-</text>
<text transform="translate(1155.1,1238.51) scale(1,1.04)" font-size="33" text-anchor="middle" stroke="#000" stroke-width="0.35">+</text>
<text transform="translate(1263.5,608.5) scale(1,1.04)" font-size="35.5" font-weight="bold">F</text>
<text transform="translate(1611.7,608.5) scale(1,1.04)" font-size="35" text-anchor="middle">MEF</text>
<line x1="1416.4" y1="672.46" x2="1416.4" y2="984.4" stroke="#000" stroke-width="3.6"/>
<line x1="1405.4" y1="984.4" x2="1416.4" y2="984.4" stroke="#000" stroke-width="2.88"/>
<line x1="1405.4" y1="906.77" x2="1416.4" y2="906.77" stroke="#000" stroke-width="2.88"/>
<line x1="1405.4" y1="829.15" x2="1416.4" y2="829.15" stroke="#000" stroke-width="2.88"/>
<line x1="1405.4" y1="751.52" x2="1416.4" y2="751.52" stroke="#000" stroke-width="2.88"/>
<line x1="1405.4" y1="673.9" x2="1416.4" y2="673.9" stroke="#000" stroke-width="2.88"/>
<text transform="translate(1396.6,998.43) scale(1,1.04)" font-size="33.5" text-anchor="end">0</text>
<text transform="translate(1396.6,919.72) scale(1,1.04)" font-size="33.5" text-anchor="end">10</text>
<text transform="translate(1396.6,841.01) scale(1,1.04)" font-size="33.5" text-anchor="end">20</text>
<text transform="translate(1396.6,762.3) scale(1,1.04)" font-size="33.5" text-anchor="end">30</text>
<text transform="translate(1396.6,683.59) scale(1,1.04)" font-size="33.5" text-anchor="end">40</text>
<line x1="1404.6" y1="984.4" x2="1810.6" y2="984.4" stroke="#000" stroke-width="3"/>
<text transform="translate(1289.6,824.5) rotate(-90) scale(1,1.04)" font-size="34.8" text-anchor="middle">Relative PTGS2</text>
<text transform="translate(1330,824.5) rotate(-90) scale(1,1.04)" font-size="34.8" text-anchor="middle">mRNA levels</text>
<rect x="1433.25" y="976.64" width="28.7" height="7.76" fill="#64A6F5" stroke="#000" stroke-width="1.8"/>
<line x1="1447.6" y1="978.97" x2="1447.6" y2="974.31" stroke="#000" stroke-width="1.6"/>
<line x1="1440.6" y1="974.31" x2="1454.6" y2="974.31" stroke="#000" stroke-width="1.6"/>
<line x1="1440.6" y1="978.97" x2="1454.6" y2="978.97" stroke="#000" stroke-width="1.6"/>
<circle cx="1439.6" cy="978.19" r="3.9" fill="#fff" stroke="#000" stroke-width="1.4"/>
<circle cx="1447.6" cy="974.31" r="3.9" fill="#fff" stroke="#000" stroke-width="1.4"/>
<circle cx="1455.6" cy="978.19" r="3.9" fill="#fff" stroke="#000" stroke-width="1.4"/>
<rect x="1480.25" y="757.74" width="28.7" height="226.66" fill="#64A6F5" stroke="#000" stroke-width="1.8"/>
<line x1="1494.6" y1="819.84" x2="1494.6" y2="695.63" stroke="#000" stroke-width="1.6"/>
<line x1="1487.6" y1="695.63" x2="1501.6" y2="695.63" stroke="#000" stroke-width="1.6"/>
<line x1="1487.6" y1="819.84" x2="1501.6" y2="819.84" stroke="#000" stroke-width="1.6"/>
<circle cx="1494.6" cy="701.07" r="3.9" fill="#fff" stroke="#000" stroke-width="1.4"/>
<circle cx="1494.6" cy="743.76" r="3.9" fill="#fff" stroke="#000" stroke-width="1.4"/>
<circle cx="1494.6" cy="825.27" r="3.9" fill="#fff" stroke="#000" stroke-width="1.4"/>
<rect x="1527.25" y="895.91" width="28.7" height="88.49" fill="#64A6F5" stroke="#000" stroke-width="1.8"/>
<line x1="1541.6" y1="929.29" x2="1541.6" y2="862.53" stroke="#000" stroke-width="1.6"/>
<line x1="1534.6" y1="862.53" x2="1548.6" y2="862.53" stroke="#000" stroke-width="1.6"/>
<line x1="1534.6" y1="929.29" x2="1548.6" y2="929.29" stroke="#000" stroke-width="1.6"/>
<circle cx="1541.6" cy="856.32" r="3.9" fill="#fff" stroke="#000" stroke-width="1.4"/>
<circle cx="1541.6" cy="918.42" r="3.9" fill="#fff" stroke="#000" stroke-width="1.4"/>
<circle cx="1550.6" cy="910.66" r="3.9" fill="#fff" stroke="#000" stroke-width="1.4"/>
<rect x="1574.25" y="759.29" width="28.7" height="225.11" fill="#64A6F5" stroke="#000" stroke-width="1.8"/>
<line x1="1588.6" y1="786.46" x2="1588.6" y2="732.12" stroke="#000" stroke-width="1.6"/>
<line x1="1581.6" y1="732.12" x2="1595.6" y2="732.12" stroke="#000" stroke-width="1.6"/>
<line x1="1581.6" y1="786.46" x2="1595.6" y2="786.46" stroke="#000" stroke-width="1.6"/>
<circle cx="1588.6" cy="733.67" r="3.9" fill="#fff" stroke="#000" stroke-width="1.4"/>
<circle cx="1588.6" cy="749.97" r="3.9" fill="#fff" stroke="#000" stroke-width="1.4"/>
<circle cx="1588.6" cy="788.78" r="3.9" fill="#fff" stroke="#000" stroke-width="1.4"/>
<rect x="1621.25" y="916.87" width="28.7" height="67.53" fill="#64A6F5" stroke="#000" stroke-width="1.8"/>
<line x1="1635.6" y1="940.15" x2="1635.6" y2="893.58" stroke="#000" stroke-width="1.6"/>
<line x1="1628.6" y1="893.58" x2="1642.6" y2="893.58" stroke="#000" stroke-width="1.6"/>
<line x1="1628.6" y1="940.15" x2="1642.6" y2="940.15" stroke="#000" stroke-width="1.6"/>
<circle cx="1635.6" cy="899.01" r="3.9" fill="#fff" stroke="#000" stroke-width="1.4"/>
<circle cx="1635.6" cy="912.99" r="3.9" fill="#fff" stroke="#000" stroke-width="1.4"/>
<circle cx="1635.6" cy="943.26" r="3.9" fill="#fff" stroke="#000" stroke-width="1.4"/>
<rect x="1668.25" y="964.99" width="28.7" height="19.41" fill="#64A6F5" stroke="#000" stroke-width="1.8"/>
<line x1="1682.6" y1="970.43" x2="1682.6" y2="959.56" stroke="#000" stroke-width="1.6"/>
<line x1="1675.6" y1="959.56" x2="1689.6" y2="959.56" stroke="#000" stroke-width="1.6"/>
<line x1="1675.6" y1="970.43" x2="1689.6" y2="970.43" stroke="#000" stroke-width="1.6"/>
<circle cx="1674.6" cy="968.88" r="3.9" fill="#fff" stroke="#000" stroke-width="1.4"/>
<circle cx="1682.6" cy="964.22" r="3.9" fill="#fff" stroke="#000" stroke-width="1.4"/>
<circle cx="1690.6" cy="962.66" r="3.9" fill="#fff" stroke="#000" stroke-width="1.4"/>
<rect x="1715.25" y="945.59" width="28.7" height="38.81" fill="#64A6F5" stroke="#000" stroke-width="1.8"/>
<line x1="1729.6" y1="955.68" x2="1729.6" y2="935.5" stroke="#000" stroke-width="1.6"/>
<line x1="1722.6" y1="935.5" x2="1736.6" y2="935.5" stroke="#000" stroke-width="1.6"/>
<line x1="1722.6" y1="955.68" x2="1736.6" y2="955.68" stroke="#000" stroke-width="1.6"/>
<circle cx="1729.6" cy="933.94" r="3.9" fill="#fff" stroke="#000" stroke-width="1.4"/>
<circle cx="1721.6" cy="953.35" r="3.9" fill="#fff" stroke="#000" stroke-width="1.4"/>
<circle cx="1737.6" cy="953.35" r="3.9" fill="#fff" stroke="#000" stroke-width="1.4"/>
<rect x="1762.25" y="953.35" width="28.7" height="31.05" fill="#64A6F5" stroke="#000" stroke-width="1.8"/>
<line x1="1776.6" y1="960.34" x2="1776.6" y2="946.36" stroke="#000" stroke-width="1.6"/>
<line x1="1769.6" y1="946.36" x2="1783.6" y2="946.36" stroke="#000" stroke-width="1.6"/>
<line x1="1769.6" y1="960.34" x2="1783.6" y2="960.34" stroke="#000" stroke-width="1.6"/>
<circle cx="1776.6" cy="947.14" r="3.9" fill="#fff" stroke="#000" stroke-width="1.4"/>
<circle cx="1768.6" cy="957.23" r="3.9" fill="#fff" stroke="#000" stroke-width="1.4"/>
<circle cx="1784.6" cy="957.23" r="3.9" fill="#fff" stroke="#000" stroke-width="1.4"/>
<line x1="1448.3" y1="683.8" x2="1491.7" y2="683.8" stroke="#000" stroke-width="3.6"/>
<text transform="translate(1471,672) scale(0.97,1.04)" font-size="19.7" text-anchor="middle">P&lt;0.0001</text>
<line x1="1496" y1="646.4" x2="1540.6" y2="646.4" stroke="#000" stroke-width="3.6"/>
<text transform="translate(1520.2,636) scale(0.97,1.04)" font-size="19.7" text-anchor="middle">P=0.0004</text>
<line x1="1545" y1="717" x2="1589" y2="717" stroke="#000" stroke-width="3.6"/>
<text transform="translate(1566.2,706) scale(0.97,1.04)" font-size="19.7" text-anchor="middle">P=0.0005</text>
<text transform="translate(1411,1037.2) scale(1,1.04)" font-size="34.5" text-anchor="end">CC</text>
<text transform="translate(1448.1,1037.31) scale(1,1.04)" font-size="33" text-anchor="middle" stroke="#000" stroke-width="0.35">+</text>
<text transform="translate(1495.8,1039.42) scale(1.28,1.12)" font-size="33" text-anchor="middle">-</text>
<text transform="translate(1542.8,1039.42) scale(1.28,1.12)" font-size="33" text-anchor="middle">-</text>
<text transform="translate(1589.8,1039.42) scale(1.28,1.12)" font-size="33" text-anchor="middle">-</text>
<text transform="translate(1636.8,1039.42) scale(1.28,1.12)" font-size="33" text-anchor="middle">-</text>
<text transform="translate(1683.8,1039.42) scale(1.28,1.12)" font-size="33" text-anchor="middle">-</text>
<text transform="translate(1730.8,1039.42) scale(1.28,1.12)" font-size="33" text-anchor="middle">-</text>
<text transform="translate(1777.8,1039.42) scale(1.28,1.12)" font-size="33" text-anchor="middle">-</text>
<text transform="translate(1411,1071.5) scale(1,1.04)" font-size="34.5" text-anchor="end">Met</text>
<text transform="translate(1448.1,1069.61) scale(1,1.04)" font-size="33" text-anchor="middle" stroke="#000" stroke-width="0.35">+</text>
<text transform="translate(1495.1,1069.61) scale(1,1.04)" font-size="33" text-anchor="middle" stroke="#000" stroke-width="0.35">+</text>
<text transform="translate(1542.8,1071.72) scale(1.28,1.12)" font-size="33" text-anchor="middle">-</text>
<text transform="translate(1589.8,1071.72) scale(1.28,1.12)" font-size="33" text-anchor="middle">-</text>
<text transform="translate(1636.8,1071.72) scale(1.28,1.12)" font-size="33" text-anchor="middle">-</text>
<text transform="translate(1683.8,1071.72) scale(1.28,1.12)" font-size="33" text-anchor="middle">-</text>
<text transform="translate(1730.8,1071.72) scale(1.28,1.12)" font-size="33" text-anchor="middle">-</text>
<text transform="translate(1777.8,1071.72) scale(1.28,1.12)" font-size="33" text-anchor="middle">-</text>
<text transform="translate(1411,1105.8) scale(1,1.04)" font-size="34.5" text-anchor="end">SAM</text>
<text transform="translate(1448.8,1105.72) scale(1.28,1.12)" font-size="33" text-anchor="middle">-</text>
<text transform="translate(1495.8,1105.72) scale(1.28,1.12)" font-size="33" text-anchor="middle">-</text>
<text transform="translate(1542.8,1105.72) scale(1.28,1.12)" font-size="33" text-anchor="middle">-</text>
<text transform="translate(1589.1,1103.61) scale(1,1.04)" font-size="33" text-anchor="middle" stroke="#000" stroke-width="0.35">+</text>
<text transform="translate(1636.8,1105.72) scale(1.28,1.12)" font-size="33" text-anchor="middle">-</text>
<text transform="translate(1683.8,1105.72) scale(1.28,1.12)" font-size="33" text-anchor="middle">-</text>
<text transform="translate(1730.8,1105.72) scale(1.28,1.12)" font-size="33" text-anchor="middle">-</text>
<text transform="translate(1777.8,1105.72) scale(1.28,1.12)" font-size="33" text-anchor="middle">-</text>
<text transform="translate(1411,1140.1) scale(1,1.04)" font-size="34.5" text-anchor="end">SAH</text>
<text transform="translate(1448.8,1141.32) scale(1.28,1.12)" font-size="33" text-anchor="middle">-</text>
<text transform="translate(1495.8,1141.32) scale(1.28,1.12)" font-size="33" text-anchor="middle">-</text>
<text transform="translate(1542.8,1141.32) scale(1.28,1.12)" font-size="33" text-anchor="middle">-</text>
<text transform="translate(1589.8,1141.32) scale(1.28,1.12)" font-size="33" text-anchor="middle">-</text>
<text transform="translate(1636.1,1139.21) scale(1,1.04)" font-size="33" text-anchor="middle" stroke="#000" stroke-width="0.35">+</text>
<text transform="translate(1683.8,1141.32) scale(1.28,1.12)" font-size="33" text-anchor="middle">-</text>
<text transform="translate(1730.8,1141.32) scale(1.28,1.12)" font-size="33" text-anchor="middle">-</text>
<text transform="translate(1777.8,1141.32) scale(1.28,1.12)" font-size="33" text-anchor="middle">-</text>
<text transform="translate(1411,1174.4) scale(1,1.04)" font-size="34.5" text-anchor="end">Hcy</text>
<text transform="translate(1448.8,1176.32) scale(1.28,1.12)" font-size="33" text-anchor="middle">-</text>
<text transform="translate(1495.8,1176.32) scale(1.28,1.12)" font-size="33" text-anchor="middle">-</text>
<text transform="translate(1542.8,1176.32) scale(1.28,1.12)" font-size="33" text-anchor="middle">-</text>
<text transform="translate(1589.8,1176.32) scale(1.28,1.12)" font-size="33" text-anchor="middle">-</text>
<text transform="translate(1636.8,1176.32) scale(1.28,1.12)" font-size="33" text-anchor="middle">-</text>
<text transform="translate(1683.1,1174.21) scale(1,1.04)" font-size="33" text-anchor="middle" stroke="#000" stroke-width="0.35">+</text>
<text transform="translate(1730.8,1176.32) scale(1.28,1.12)" font-size="33" text-anchor="middle">-</text>
<text transform="translate(1777.8,1176.32) scale(1.28,1.12)" font-size="33" text-anchor="middle">-</text>
<text transform="translate(1411,1208.7) scale(1,1.04)" font-size="34.5" text-anchor="end">Cta</text>
<text transform="translate(1448.8,1210.92) scale(1.28,1.12)" font-size="33" text-anchor="middle">-</text>
<text transform="translate(1495.8,1210.92) scale(1.28,1.12)" font-size="33" text-anchor="middle">-</text>
<text transform="translate(1542.8,1210.92) scale(1.28,1.12)" font-size="33" text-anchor="middle">-</text>
<text transform="translate(1589.8,1210.92) scale(1.28,1.12)" font-size="33" text-anchor="middle">-</text>
<text transform="translate(1636.8,1210.92) scale(1.28,1.12)" font-size="33" text-anchor="middle">-</text>
<text transform="translate(1683.8,1210.92) scale(1.28,1.12)" font-size="33" text-anchor="middle">-</text>
<text transform="translate(1730.1,1208.81) scale(1,1.04)" font-size="33" text-anchor="middle" stroke="#000" stroke-width="0.35">+</text>
<text transform="translate(1777.8,1210.92) scale(1.28,1.12)" font-size="33" text-anchor="middle">-</text>
<text transform="translate(1411,1243) scale(1,1.04)" font-size="34.5" text-anchor="end">Cys</text>
<text transform="translate(1448.8,1244.32) scale(1.28,1.12)" font-size="33" text-anchor="middle">-</text>
<text transform="translate(1495.8,1244.32) scale(1.28,1.12)" font-size="33" text-anchor="middle">-</text>
<text transform="translate(1542.8,1244.32) scale(1.28,1.12)" font-size="33" text-anchor="middle">-</text>
<text transform="translate(1589.8,1244.32) scale(1.28,1.12)" font-size="33" text-anchor="middle">-</text>
<text transform="translate(1636.8,1244.32) scale(1.28,1.12)" font-size="33" text-anchor="middle">-</text>
<text transform="translate(1683.8,1244.32) scale(1.28,1.12)" font-size="33" text-anchor="middle">-</text>
<text transform="translate(1730.8,1244.32) scale(1.28,1.12)" font-size="33" text-anchor="middle">-</text>
<text transform="translate(1777.1,1242.21) scale(1,1.04)" font-size="33" text-anchor="middle" stroke="#000" stroke-width="0.35">+</text>
<text transform="translate(2.2,1366.5) scale(1,1.04)" font-size="35.5" font-weight="bold">G</text>
<text transform="translate(231.5,1387.3) rotate(-45) scale(1,1.04)" font-size="33" text-anchor="middle" dy="11.81">HT1080</text>
<text transform="translate(336,1385.7) rotate(-45) scale(1,1.04)" font-size="33" text-anchor="middle" dy="11.81">OS-RC-2</text>
<text transform="translate(408.6,1406.2) rotate(-45) scale(1,1.04)" font-size="33" text-anchor="middle" dy="11.81">HL-1</text>
<line x1="245.8" y1="1453" x2="245.8" y2="1869" stroke="#858585" stroke-width="3.3" stroke-dasharray="3.7 2.1"/>
<line x1="347.5" y1="1453" x2="347.5" y2="1869" stroke="#858585" stroke-width="3.3" stroke-dasharray="3.7 2.1"/>
<line x1="151.3" y1="1515.1" x2="151.3" y2="1746" stroke="#000" stroke-width="1.9"/>
<line x1="143.8" y1="1746" x2="151.3" y2="1746" stroke="#000" stroke-width="1.8"/>
<line x1="143.8" y1="1700" x2="151.3" y2="1700" stroke="#000" stroke-width="1.8"/>
<line x1="143.8" y1="1654" x2="151.3" y2="1654" stroke="#000" stroke-width="1.8"/>
<line x1="143.8" y1="1608" x2="151.3" y2="1608" stroke="#000" stroke-width="1.8"/>
<line x1="143.8" y1="1562" x2="151.3" y2="1562" stroke="#000" stroke-width="1.8"/>
<line x1="143.8" y1="1516" x2="151.3" y2="1516" stroke="#000" stroke-width="1.8"/>
<text transform="translate(136.4,1756.19) scale(1,1.04)" font-size="33.5" text-anchor="end">0</text>
<text transform="translate(136.4,1711.34) scale(1,1.04)" font-size="33.5" text-anchor="end">20</text>
<text transform="translate(136.4,1666.49) scale(1,1.04)" font-size="33.5" text-anchor="end">40</text>
<text transform="translate(136.4,1621.64) scale(1,1.04)" font-size="33.5" text-anchor="end">60</text>
<text transform="translate(136.4,1576.79) scale(1,1.04)" font-size="33.5" text-anchor="end">80</text>
<text transform="translate(136.4,1531.94) scale(1,1.04)" font-size="33.5" text-anchor="end">100</text>
<line x1="145" y1="1746" x2="434.3" y2="1746" stroke="#000" stroke-width="2"/>
<text transform="translate(67.5,1633) rotate(-90) scale(1,1.04)" font-size="35.3" text-anchor="middle">Lipid ROS (%)</text>
<rect x="156.55" y="1744.85" width="10.9" height="1.15" fill="#EB9C47" stroke="#000" stroke-width="1.6"/>
<line x1="162" y1="1745.54" x2="162" y2="1744.16" stroke="#000" stroke-width="1.5"/>
<line x1="158" y1="1744.16" x2="166" y2="1744.16" stroke="#000" stroke-width="1.5"/>
<line x1="158" y1="1745.54" x2="166" y2="1745.54" stroke="#000" stroke-width="1.5"/>
<circle cx="156" cy="1745.54" r="3" fill="#fff" stroke="#000" stroke-width="1.3"/>
<circle cx="162" cy="1744.62" r="3" fill="#fff" stroke="#000" stroke-width="1.3"/>
<circle cx="168" cy="1744.16" r="3" fill="#fff" stroke="#000" stroke-width="1.3"/>
<rect x="176.75" y="1543.6" width="10.9" height="202.4" fill="#EB9C47" stroke="#000" stroke-width="1.6"/>
<line x1="182.2" y1="1553.95" x2="182.2" y2="1533.25" stroke="#000" stroke-width="1.5"/>
<line x1="178.2" y1="1533.25" x2="186.2" y2="1533.25" stroke="#000" stroke-width="1.5"/>
<line x1="178.2" y1="1553.95" x2="186.2" y2="1553.95" stroke="#000" stroke-width="1.5"/>
<circle cx="182.2" cy="1532.1" r="3" fill="#fff" stroke="#000" stroke-width="1.3"/>
<circle cx="182.2" cy="1543.6" r="3" fill="#fff" stroke="#000" stroke-width="1.3"/>
<circle cx="182.2" cy="1552.8" r="3" fill="#fff" stroke="#000" stroke-width="1.3"/>
<rect x="196.95" y="1737.95" width="10.9" height="8.05" fill="#EB9C47" stroke="#000" stroke-width="1.6"/>
<line x1="202.4" y1="1740.25" x2="202.4" y2="1735.65" stroke="#000" stroke-width="1.5"/>
<line x1="198.4" y1="1735.65" x2="206.4" y2="1735.65" stroke="#000" stroke-width="1.5"/>
<line x1="198.4" y1="1740.25" x2="206.4" y2="1740.25" stroke="#000" stroke-width="1.5"/>
<circle cx="196.4" cy="1735.65" r="3" fill="#fff" stroke="#000" stroke-width="1.3"/>
<circle cx="202.4" cy="1737.95" r="3" fill="#fff" stroke="#000" stroke-width="1.3"/>
<circle cx="208.4" cy="1737.95" r="3" fill="#fff" stroke="#000" stroke-width="1.3"/>
<rect x="217.15" y="1635.6" width="10.9" height="110.4" fill="#EB9C47" stroke="#000" stroke-width="1.6"/>
<line x1="222.6" y1="1645.95" x2="222.6" y2="1625.25" stroke="#000" stroke-width="1.5"/>
<line x1="218.6" y1="1625.25" x2="226.6" y2="1625.25" stroke="#000" stroke-width="1.5"/>
<line x1="218.6" y1="1645.95" x2="226.6" y2="1645.95" stroke="#000" stroke-width="1.5"/>
<circle cx="222.6" cy="1624.1" r="3" fill="#fff" stroke="#000" stroke-width="1.3"/>
<circle cx="216.6" cy="1637.9" r="3" fill="#fff" stroke="#000" stroke-width="1.3"/>
<circle cx="228.6" cy="1637.9" r="3" fill="#fff" stroke="#000" stroke-width="1.3"/>
<rect x="257.15" y="1742.55" width="10.9" height="3.45" fill="#F07A84" stroke="#000" stroke-width="1.6"/>
<line x1="262.6" y1="1743.7" x2="262.6" y2="1741.4" stroke="#000" stroke-width="1.5"/>
<line x1="258.6" y1="1741.4" x2="266.6" y2="1741.4" stroke="#000" stroke-width="1.5"/>
<line x1="258.6" y1="1743.7" x2="266.6" y2="1743.7" stroke="#000" stroke-width="1.5"/>
<circle cx="256.6" cy="1741.4" r="3" fill="#fff" stroke="#000" stroke-width="1.3"/>
<circle cx="262.6" cy="1742.55" r="3" fill="#fff" stroke="#000" stroke-width="1.3"/>
<circle cx="268.6" cy="1742.55" r="3" fill="#fff" stroke="#000" stroke-width="1.3"/>
<rect x="277.35" y="1680.45" width="10.9" height="65.55" fill="#F07A84" stroke="#000" stroke-width="1.6"/>
<line x1="282.8" y1="1695.4" x2="282.8" y2="1665.5" stroke="#000" stroke-width="1.5"/>
<line x1="278.8" y1="1665.5" x2="286.8" y2="1665.5" stroke="#000" stroke-width="1.5"/>
<line x1="278.8" y1="1695.4" x2="286.8" y2="1695.4" stroke="#000" stroke-width="1.5"/>
<circle cx="282.8" cy="1665.5" r="3" fill="#fff" stroke="#000" stroke-width="1.3"/>
<circle cx="276.8" cy="1682.75" r="3" fill="#fff" stroke="#000" stroke-width="1.3"/>
<circle cx="288.8" cy="1682.75" r="3" fill="#fff" stroke="#000" stroke-width="1.3"/>
<rect x="297.55" y="1732.2" width="10.9" height="13.8" fill="#F07A84" stroke="#000" stroke-width="1.6"/>
<line x1="303" y1="1736.34" x2="303" y2="1728.06" stroke="#000" stroke-width="1.5"/>
<line x1="299" y1="1728.06" x2="307" y2="1728.06" stroke="#000" stroke-width="1.5"/>
<line x1="299" y1="1736.34" x2="307" y2="1736.34" stroke="#000" stroke-width="1.5"/>
<circle cx="303" cy="1727.6" r="3" fill="#fff" stroke="#000" stroke-width="1.3"/>
<circle cx="297" cy="1734.5" r="3" fill="#fff" stroke="#000" stroke-width="1.3"/>
<circle cx="309" cy="1732.2" r="3" fill="#fff" stroke="#000" stroke-width="1.3"/>
<rect x="317.75" y="1679.3" width="10.9" height="66.7" fill="#F07A84" stroke="#000" stroke-width="1.6"/>
<line x1="323.2" y1="1694.25" x2="323.2" y2="1664.35" stroke="#000" stroke-width="1.5"/>
<line x1="319.2" y1="1664.35" x2="327.2" y2="1664.35" stroke="#000" stroke-width="1.5"/>
<line x1="319.2" y1="1694.25" x2="327.2" y2="1694.25" stroke="#000" stroke-width="1.5"/>
<circle cx="323.2" cy="1664.35" r="3" fill="#fff" stroke="#000" stroke-width="1.3"/>
<circle cx="323.2" cy="1678.15" r="3" fill="#fff" stroke="#000" stroke-width="1.3"/>
<circle cx="323.2" cy="1693.1" r="3" fill="#fff" stroke="#000" stroke-width="1.3"/>
<rect x="357.05" y="1735.65" width="10.9" height="10.35" fill="#F29CD8" stroke="#000" stroke-width="1.6"/>
<line x1="362.5" y1="1736.8" x2="362.5" y2="1734.5" stroke="#000" stroke-width="1.5"/>
<line x1="358.5" y1="1734.5" x2="366.5" y2="1734.5" stroke="#000" stroke-width="1.5"/>
<line x1="358.5" y1="1736.8" x2="366.5" y2="1736.8" stroke="#000" stroke-width="1.5"/>
<circle cx="356.5" cy="1734.5" r="3" fill="#fff" stroke="#000" stroke-width="1.3"/>
<circle cx="362.5" cy="1735.65" r="3" fill="#fff" stroke="#000" stroke-width="1.3"/>
<circle cx="368.5" cy="1735.65" r="3" fill="#fff" stroke="#000" stroke-width="1.3"/>
<rect x="377.25" y="1695.4" width="10.9" height="50.6" fill="#F29CD8" stroke="#000" stroke-width="1.6"/>
<line x1="382.7" y1="1701.15" x2="382.7" y2="1689.65" stroke="#000" stroke-width="1.5"/>
<line x1="378.7" y1="1689.65" x2="386.7" y2="1689.65" stroke="#000" stroke-width="1.5"/>
<line x1="378.7" y1="1701.15" x2="386.7" y2="1701.15" stroke="#000" stroke-width="1.5"/>
<circle cx="388.7" cy="1688.5" r="3" fill="#fff" stroke="#000" stroke-width="1.3"/>
<circle cx="382.7" cy="1693.1" r="3" fill="#fff" stroke="#000" stroke-width="1.3"/>
<circle cx="382.7" cy="1702.3" r="3" fill="#fff" stroke="#000" stroke-width="1.3"/>
<rect x="397.45" y="1720.7" width="10.9" height="25.3" fill="#F29CD8" stroke="#000" stroke-width="1.6"/>
<line x1="402.9" y1="1726.45" x2="402.9" y2="1714.95" stroke="#000" stroke-width="1.5"/>
<line x1="398.9" y1="1714.95" x2="406.9" y2="1714.95" stroke="#000" stroke-width="1.5"/>
<line x1="398.9" y1="1726.45" x2="406.9" y2="1726.45" stroke="#000" stroke-width="1.5"/>
<circle cx="402.9" cy="1714.95" r="3" fill="#fff" stroke="#000" stroke-width="1.3"/>
<circle cx="396.9" cy="1720.7" r="3" fill="#fff" stroke="#000" stroke-width="1.3"/>
<circle cx="408.9" cy="1720.7" r="3" fill="#fff" stroke="#000" stroke-width="1.3"/>
<rect x="417.65" y="1678.15" width="10.9" height="67.85" fill="#F29CD8" stroke="#000" stroke-width="1.6"/>
<line x1="423.1" y1="1688.5" x2="423.1" y2="1667.8" stroke="#000" stroke-width="1.5"/>
<line x1="419.1" y1="1667.8" x2="427.1" y2="1667.8" stroke="#000" stroke-width="1.5"/>
<line x1="419.1" y1="1688.5" x2="427.1" y2="1688.5" stroke="#000" stroke-width="1.5"/>
<circle cx="423.1" cy="1666.65" r="3" fill="#fff" stroke="#000" stroke-width="1.3"/>
<circle cx="417.1" cy="1679.3" r="3" fill="#fff" stroke="#000" stroke-width="1.3"/>
<circle cx="429.1" cy="1679.3" r="3" fill="#fff" stroke="#000" stroke-width="1.3"/>
<line x1="155.3" y1="1522.8" x2="187.7" y2="1522.8" stroke="#000" stroke-width="4.2"/>
<text transform="translate(195.3,1517.3) scale(1,1.04)" font-size="19.7" text-anchor="middle">P&lt;0.0001</text>
<line x1="175" y1="1495.5" x2="207.3" y2="1495.5" stroke="#000" stroke-width="4.2"/>
<text transform="translate(200.8,1488.6) scale(1,1.04)" font-size="19.7" text-anchor="middle">P&lt;0.0001</text>
<line x1="192.8" y1="1469.2" x2="224.9" y2="1469.2" stroke="#000" stroke-width="4.2"/>
<text transform="translate(204,1460) scale(1,1.04)" font-size="19.7" text-anchor="middle">P&lt;0.0001</text>
<line x1="255.7" y1="1638.7" x2="288.4" y2="1638.7" stroke="#000" stroke-width="4.2"/>
<text transform="translate(294.8,1633.6) scale(1,1.04)" font-size="19.7" text-anchor="middle">P=0.0002</text>
<line x1="275.4" y1="1610.9" x2="307.8" y2="1610.9" stroke="#000" stroke-width="4.2"/>
<text transform="translate(298.2,1604.8) scale(1,1.04)" font-size="19.7" text-anchor="middle">P=0.0007</text>
<line x1="292.7" y1="1583.6" x2="325.4" y2="1583.6" stroke="#000" stroke-width="4.2"/>
<text transform="translate(303.1,1575.7) scale(1,1.04)" font-size="19.7" text-anchor="middle">P=0.0006</text>
<line x1="359.3" y1="1663.5" x2="391.3" y2="1663.5" stroke="#000" stroke-width="4.2"/>
<text transform="translate(395.4,1656.5) scale(1,1.04)" font-size="19.7" text-anchor="middle">P=0.0002</text>
<line x1="378.3" y1="1636.3" x2="410.7" y2="1636.3" stroke="#000" stroke-width="4.2"/>
<text transform="translate(404.1,1628.7) scale(1,1.04)" font-size="19.7" text-anchor="middle">P=0.0044</text>
<line x1="396.5" y1="1609.6" x2="428.3" y2="1609.6" stroke="#000" stroke-width="4.2"/>
<text transform="translate(419.6,1601) scale(1,1.04)" font-size="19.7" text-anchor="middle">P=0.0001</text>
<text transform="translate(140.7,1791) scale(1,1.04)" font-size="34" text-anchor="end">CC</text>
<text transform="translate(161.2,1790.21) scale(1,1.04)" font-size="33" text-anchor="middle" stroke="#000" stroke-width="0.35">+</text>
<text transform="translate(182.2,1792.32) scale(1.28,1.12)" font-size="33" text-anchor="middle">-</text>
<text transform="translate(202.4,1792.32) scale(1.28,1.12)" font-size="33" text-anchor="middle">-</text>
<text transform="translate(222.6,1792.32) scale(1.28,1.12)" font-size="33" text-anchor="middle">-</text>
<text transform="translate(261.8,1790.21) scale(1,1.04)" font-size="33" text-anchor="middle" stroke="#000" stroke-width="0.35">+</text>
<text transform="translate(282.8,1792.32) scale(1.28,1.12)" font-size="33" text-anchor="middle">-</text>
<text transform="translate(303,1792.32) scale(1.28,1.12)" font-size="33" text-anchor="middle">-</text>
<text transform="translate(323.2,1792.32) scale(1.28,1.12)" font-size="33" text-anchor="middle">-</text>
<text transform="translate(361.7,1790.21) scale(1,1.04)" font-size="33" text-anchor="middle" stroke="#000" stroke-width="0.35">+</text>
<text transform="translate(382.7,1792.32) scale(1.28,1.12)" font-size="33" text-anchor="middle">-</text>
<text transform="translate(402.9,1792.32) scale(1.28,1.12)" font-size="33" text-anchor="middle">-</text>
<text transform="translate(423.1,1792.32) scale(1.28,1.12)" font-size="33" text-anchor="middle">-</text>
<text transform="translate(140.7,1830.6) scale(1,1.04)" font-size="34" text-anchor="end">Met</text>
<text transform="translate(161.2,1829.51) scale(1,1.04)" font-size="33" text-anchor="middle" stroke="#000" stroke-width="0.35">+</text>
<text transform="translate(181.4,1829.51) scale(1,1.04)" font-size="33" text-anchor="middle" stroke="#000" stroke-width="0.35">+</text>
<text transform="translate(202.4,1831.62) scale(1.28,1.12)" font-size="33" text-anchor="middle">-</text>
<text transform="translate(222.6,1831.62) scale(1.28,1.12)" font-size="33" text-anchor="middle">-</text>
<text transform="translate(261.8,1829.51) scale(1,1.04)" font-size="33" text-anchor="middle" stroke="#000" stroke-width="0.35">+</text>
<text transform="translate(282,1829.51) scale(1,1.04)" font-size="33" text-anchor="middle" stroke="#000" stroke-width="0.35">+</text>
<text transform="translate(303,1831.62) scale(1.28,1.12)" font-size="33" text-anchor="middle">-</text>
<text transform="translate(323.2,1831.62) scale(1.28,1.12)" font-size="33" text-anchor="middle">-</text>
<text transform="translate(361.7,1829.51) scale(1,1.04)" font-size="33" text-anchor="middle" stroke="#000" stroke-width="0.35">+</text>
<text transform="translate(381.9,1829.51) scale(1,1.04)" font-size="33" text-anchor="middle" stroke="#000" stroke-width="0.35">+</text>
<text transform="translate(402.9,1831.62) scale(1.28,1.12)" font-size="33" text-anchor="middle">-</text>
<text transform="translate(423.1,1831.62) scale(1.28,1.12)" font-size="33" text-anchor="middle">-</text>
<text transform="translate(140.7,1871.5) scale(1,1.04)" font-size="34" text-anchor="end">SAM</text>
<text transform="translate(162,1874.02) scale(1.28,1.12)" font-size="33" text-anchor="middle">-</text>
<text transform="translate(182.2,1874.02) scale(1.28,1.12)" font-size="33" text-anchor="middle">-</text>
<text transform="translate(202.4,1874.02) scale(1.28,1.12)" font-size="33" text-anchor="middle">-</text>
<text transform="translate(221.8,1871.91) scale(1,1.04)" font-size="33" text-anchor="middle" stroke="#000" stroke-width="0.35">+</text>
<text transform="translate(262.6,1874.02) scale(1.28,1.12)" font-size="33" text-anchor="middle">-</text>
<text transform="translate(282.8,1874.02) scale(1.28,1.12)" font-size="33" text-anchor="middle">-</text>
<text transform="translate(303,1874.02) scale(1.28,1.12)" font-size="33" text-anchor="middle">-</text>
<text transform="translate(322.4,1871.91) scale(1,1.04)" font-size="33" text-anchor="middle" stroke="#000" stroke-width="0.35">+</text>
<text transform="translate(362.5,1874.02) scale(1.28,1.12)" font-size="33" text-anchor="middle">-</text>
<text transform="translate(382.7,1874.02) scale(1.28,1.12)" font-size="33" text-anchor="middle">-</text>
<text transform="translate(402.9,1874.02) scale(1.28,1.12)" font-size="33" text-anchor="middle">-</text>
<text transform="translate(422.3,1871.91) scale(1,1.04)" font-size="33" text-anchor="middle" stroke="#000" stroke-width="0.35">+</text>
<text transform="translate(494.5,1367) scale(1,1.04)" font-size="35.5" font-weight="bold">H</text>
<text transform="translate(686.2,1387.5) rotate(-45) scale(1,1.04)" font-size="33" text-anchor="middle" dy="11.81">HT1080</text>
<text transform="translate(794.3,1389) rotate(-45) scale(1,1.04)" font-size="33" text-anchor="middle" dy="11.81">OS-RC-2</text>
<text transform="translate(866,1406) rotate(-45) scale(1,1.04)" font-size="33" text-anchor="middle" dy="11.81">HL-1</text>
<line x1="703.3" y1="1451" x2="703.3" y2="1865" stroke="#858585" stroke-width="3.3" stroke-dasharray="3.7 2.1"/>
<line x1="803.4" y1="1451" x2="803.4" y2="1865" stroke="#858585" stroke-width="3.3" stroke-dasharray="3.7 2.1"/>
<line x1="607.6" y1="1514.82" x2="607.6" y2="1744.8" stroke="#000" stroke-width="1.8"/>
<line x1="599.6" y1="1744.8" x2="607.6" y2="1744.8" stroke="#000" stroke-width="1.8"/>
<line x1="599.6" y1="1706.62" x2="607.6" y2="1706.62" stroke="#000" stroke-width="1.8"/>
<line x1="599.6" y1="1668.44" x2="607.6" y2="1668.44" stroke="#000" stroke-width="1.8"/>
<line x1="599.6" y1="1630.26" x2="607.6" y2="1630.26" stroke="#000" stroke-width="1.8"/>
<line x1="599.6" y1="1592.08" x2="607.6" y2="1592.08" stroke="#000" stroke-width="1.8"/>
<line x1="599.6" y1="1553.9" x2="607.6" y2="1553.9" stroke="#000" stroke-width="1.8"/>
<line x1="599.6" y1="1515.72" x2="607.6" y2="1515.72" stroke="#000" stroke-width="1.8"/>
<text transform="translate(592.2,1751.42) scale(1,1.04)" font-size="33.5" text-anchor="end">0</text>
<text transform="translate(592.2,1714.66) scale(1,1.04)" font-size="33.5" text-anchor="end">20</text>
<text transform="translate(592.2,1677.89) scale(1,1.04)" font-size="33.5" text-anchor="end">40</text>
<text transform="translate(592.2,1641.12) scale(1,1.04)" font-size="33.5" text-anchor="end">60</text>
<text transform="translate(592.2,1604.35) scale(1,1.04)" font-size="33.5" text-anchor="end">80</text>
<text transform="translate(592.2,1567.59) scale(1,1.04)" font-size="33.5" text-anchor="end">100</text>
<text transform="translate(592.2,1530.82) scale(1,1.04)" font-size="33.5" text-anchor="end">120</text>
<line x1="599.4" y1="1744.8" x2="898.2" y2="1744.8" stroke="#000" stroke-width="2"/>
<text transform="translate(520,1628) rotate(-90) scale(1,1.04)" font-size="35.3" text-anchor="middle">Cell death (%)</text>
<rect x="612.8" y="1740.03" width="10.4" height="4.77" fill="#EB9C47" stroke="#000" stroke-width="1.6"/>
<line x1="618" y1="1744.8" x2="618" y2="1731.44" stroke="#000" stroke-width="1.5"/>
<line x1="614" y1="1731.44" x2="622" y2="1731.44" stroke="#000" stroke-width="1.5"/>
<circle cx="618" cy="1725.71" r="3" fill="#fff" stroke="#000" stroke-width="1.3"/>
<circle cx="612" cy="1740.98" r="3" fill="#fff" stroke="#000" stroke-width="1.3"/>
<circle cx="624" cy="1740.98" r="3" fill="#fff" stroke="#000" stroke-width="1.3"/>
<rect x="633.5" y="1644.58" width="10.4" height="100.22" fill="#EB9C47" stroke="#000" stroke-width="1.6"/>
<line x1="638.7" y1="1655.08" x2="638.7" y2="1634.08" stroke="#000" stroke-width="1.5"/>
<line x1="634.7" y1="1634.08" x2="642.7" y2="1634.08" stroke="#000" stroke-width="1.5"/>
<line x1="634.7" y1="1655.08" x2="642.7" y2="1655.08" stroke="#000" stroke-width="1.5"/>
<circle cx="638.7" cy="1634.08" r="3" fill="#fff" stroke="#000" stroke-width="1.3"/>
<circle cx="632.7" cy="1645.53" r="3" fill="#fff" stroke="#000" stroke-width="1.3"/>
<circle cx="644.7" cy="1645.53" r="3" fill="#fff" stroke="#000" stroke-width="1.3"/>
<rect x="654.2" y="1741.94" width="10.4" height="2.86" fill="#EB9C47" stroke="#000" stroke-width="1.6"/>
<line x1="659.4" y1="1743.85" x2="659.4" y2="1740.03" stroke="#000" stroke-width="1.5"/>
<line x1="655.4" y1="1740.03" x2="663.4" y2="1740.03" stroke="#000" stroke-width="1.5"/>
<line x1="655.4" y1="1743.85" x2="663.4" y2="1743.85" stroke="#000" stroke-width="1.5"/>
<circle cx="659.4" cy="1740.03" r="3" fill="#fff" stroke="#000" stroke-width="1.3"/>
<circle cx="653.4" cy="1742.51" r="3" fill="#fff" stroke="#000" stroke-width="1.3"/>
<circle cx="665.4" cy="1742.51" r="3" fill="#fff" stroke="#000" stroke-width="1.3"/>
<rect x="674.9" y="1690.39" width="10.4" height="54.41" fill="#EB9C47" stroke="#000" stroke-width="1.6"/>
<line x1="680.1" y1="1715.21" x2="680.1" y2="1665.58" stroke="#000" stroke-width="1.5"/>
<line x1="676.1" y1="1665.58" x2="684.1" y2="1665.58" stroke="#000" stroke-width="1.5"/>
<line x1="676.1" y1="1715.21" x2="684.1" y2="1715.21" stroke="#000" stroke-width="1.5"/>
<circle cx="680.1" cy="1665.58" r="3" fill="#fff" stroke="#000" stroke-width="1.3"/>
<circle cx="680.1" cy="1689.44" r="3" fill="#fff" stroke="#000" stroke-width="1.3"/>
<circle cx="680.1" cy="1716.16" r="3" fill="#fff" stroke="#000" stroke-width="1.3"/>
<rect x="716.2" y="1735.25" width="10.4" height="9.55" fill="#F07A84" stroke="#000" stroke-width="1.6"/>
<line x1="721.4" y1="1739.07" x2="721.4" y2="1731.44" stroke="#000" stroke-width="1.5"/>
<line x1="717.4" y1="1731.44" x2="725.4" y2="1731.44" stroke="#000" stroke-width="1.5"/>
<line x1="717.4" y1="1739.07" x2="725.4" y2="1739.07" stroke="#000" stroke-width="1.5"/>
<circle cx="721.4" cy="1730.48" r="3" fill="#fff" stroke="#000" stroke-width="1.3"/>
<circle cx="715.4" cy="1735.25" r="3" fill="#fff" stroke="#000" stroke-width="1.3"/>
<circle cx="727.4" cy="1738.12" r="3" fill="#fff" stroke="#000" stroke-width="1.3"/>
<rect x="736.9" y="1577.76" width="10.4" height="167.04" fill="#F07A84" stroke="#000" stroke-width="1.6"/>
<line x1="742.1" y1="1582.53" x2="742.1" y2="1572.99" stroke="#000" stroke-width="1.5"/>
<line x1="738.1" y1="1572.99" x2="746.1" y2="1572.99" stroke="#000" stroke-width="1.5"/>
<line x1="738.1" y1="1582.53" x2="746.1" y2="1582.53" stroke="#000" stroke-width="1.5"/>
<circle cx="736.1" cy="1572.99" r="3" fill="#fff" stroke="#000" stroke-width="1.3"/>
<circle cx="748.1" cy="1574.9" r="3" fill="#fff" stroke="#000" stroke-width="1.3"/>
<circle cx="742.1" cy="1584.44" r="3" fill="#fff" stroke="#000" stroke-width="1.3"/>
<rect x="757.6" y="1739.07" width="10.4" height="5.73" fill="#F07A84" stroke="#000" stroke-width="1.6"/>
<line x1="762.8" y1="1740.98" x2="762.8" y2="1737.16" stroke="#000" stroke-width="1.5"/>
<line x1="758.8" y1="1737.16" x2="766.8" y2="1737.16" stroke="#000" stroke-width="1.5"/>
<line x1="758.8" y1="1740.98" x2="766.8" y2="1740.98" stroke="#000" stroke-width="1.5"/>
<circle cx="762.8" cy="1737.16" r="3" fill="#fff" stroke="#000" stroke-width="1.3"/>
<circle cx="756.8" cy="1739.07" r="3" fill="#fff" stroke="#000" stroke-width="1.3"/>
<circle cx="768.8" cy="1740.03" r="3" fill="#fff" stroke="#000" stroke-width="1.3"/>
<rect x="778.3" y="1627.4" width="10.4" height="117.4" fill="#F07A84" stroke="#000" stroke-width="1.6"/>
<line x1="783.5" y1="1653.17" x2="783.5" y2="1601.62" stroke="#000" stroke-width="1.5"/>
<line x1="779.5" y1="1601.62" x2="787.5" y2="1601.62" stroke="#000" stroke-width="1.5"/>
<line x1="779.5" y1="1653.17" x2="787.5" y2="1653.17" stroke="#000" stroke-width="1.5"/>
<circle cx="783.5" cy="1603.53" r="3" fill="#fff" stroke="#000" stroke-width="1.3"/>
<circle cx="783.5" cy="1622.62" r="3" fill="#fff" stroke="#000" stroke-width="1.3"/>
<circle cx="777.5" cy="1630.26" r="3" fill="#fff" stroke="#000" stroke-width="1.3"/>
<circle cx="783.5" cy="1662.71" r="3" fill="#fff" stroke="#000" stroke-width="1.3"/>
<rect x="819.2" y="1741.94" width="10.4" height="2.86" fill="#F29CD8" stroke="#000" stroke-width="1.6"/>
<line x1="824.4" y1="1742.89" x2="824.4" y2="1740.98" stroke="#000" stroke-width="1.5"/>
<line x1="820.4" y1="1740.98" x2="828.4" y2="1740.98" stroke="#000" stroke-width="1.5"/>
<line x1="820.4" y1="1742.89" x2="828.4" y2="1742.89" stroke="#000" stroke-width="1.5"/>
<circle cx="818.4" cy="1740.98" r="3" fill="#fff" stroke="#000" stroke-width="1.3"/>
<circle cx="824.4" cy="1741.94" r="3" fill="#fff" stroke="#000" stroke-width="1.3"/>
<circle cx="830.4" cy="1741.94" r="3" fill="#fff" stroke="#000" stroke-width="1.3"/>
<rect x="839.9" y="1718.07" width="10.4" height="26.73" fill="#F29CD8" stroke="#000" stroke-width="1.6"/>
<line x1="845.1" y1="1721.89" x2="845.1" y2="1714.26" stroke="#000" stroke-width="1.5"/>
<line x1="841.1" y1="1714.26" x2="849.1" y2="1714.26" stroke="#000" stroke-width="1.5"/>
<line x1="841.1" y1="1721.89" x2="849.1" y2="1721.89" stroke="#000" stroke-width="1.5"/>
<circle cx="845.1" cy="1714.26" r="3" fill="#fff" stroke="#000" stroke-width="1.3"/>
<circle cx="851.1" cy="1719.03" r="3" fill="#fff" stroke="#000" stroke-width="1.3"/>
<circle cx="839.1" cy="1720.94" r="3" fill="#fff" stroke="#000" stroke-width="1.3"/>
<rect x="860.6" y="1741.94" width="10.4" height="2.86" fill="#F29CD8" stroke="#000" stroke-width="1.6"/>
<line x1="865.8" y1="1743.46" x2="865.8" y2="1740.41" stroke="#000" stroke-width="1.5"/>
<line x1="861.8" y1="1740.41" x2="869.8" y2="1740.41" stroke="#000" stroke-width="1.5"/>
<line x1="861.8" y1="1743.46" x2="869.8" y2="1743.46" stroke="#000" stroke-width="1.5"/>
<circle cx="865.8" cy="1740.03" r="3" fill="#fff" stroke="#000" stroke-width="1.3"/>
<circle cx="859.8" cy="1742.51" r="3" fill="#fff" stroke="#000" stroke-width="1.3"/>
<circle cx="871.8" cy="1742.51" r="3" fill="#fff" stroke="#000" stroke-width="1.3"/>
<rect x="881.3" y="1701.85" width="10.4" height="42.95" fill="#F29CD8" stroke="#000" stroke-width="1.6"/>
<line x1="886.5" y1="1705.67" x2="886.5" y2="1698.03" stroke="#000" stroke-width="1.5"/>
<line x1="882.5" y1="1698.03" x2="890.5" y2="1698.03" stroke="#000" stroke-width="1.5"/>
<line x1="882.5" y1="1705.67" x2="890.5" y2="1705.67" stroke="#000" stroke-width="1.5"/>
<circle cx="886.5" cy="1697.08" r="3" fill="#fff" stroke="#000" stroke-width="1.3"/>
<circle cx="892.5" cy="1702.8" r="3" fill="#fff" stroke="#000" stroke-width="1.3"/>
<circle cx="880.5" cy="1704.71" r="3" fill="#fff" stroke="#000" stroke-width="1.3"/>
<line x1="616.5" y1="1623" x2="649.8" y2="1623" stroke="#000" stroke-width="4.2"/>
<text transform="translate(652.3,1617.3) scale(1,1.04)" font-size="19.7" text-anchor="middle">P=0.0003</text>
<line x1="635.9" y1="1596" x2="669.1" y2="1596" stroke="#000" stroke-width="4.2"/>
<text transform="translate(656.3,1588.8) scale(1,1.04)" font-size="19.7" text-anchor="middle">P=0.0001</text>
<line x1="653.5" y1="1569" x2="687" y2="1569" stroke="#000" stroke-width="4.2"/>
<text transform="translate(660.5,1557.6) scale(1,1.04)" font-size="19.7" text-anchor="middle">P=0.0101</text>
<line x1="716" y1="1549" x2="749.4" y2="1549" stroke="#000" stroke-width="4.2"/>
<text transform="translate(748.8,1543.3) scale(1,1.04)" font-size="19.7" text-anchor="middle">P&lt;0.0001</text>
<line x1="735" y1="1521.4" x2="768.7" y2="1521.4" stroke="#000" stroke-width="4.2"/>
<text transform="translate(752.4,1514.9) scale(1,1.04)" font-size="19.7" text-anchor="middle">P&lt;0.0001</text>
<line x1="753" y1="1494" x2="786.4" y2="1494" stroke="#000" stroke-width="4.2"/>
<text transform="translate(759.7,1486.4) scale(1,1.04)" font-size="19.7" text-anchor="middle">P&lt;0.0001</text>
<line x1="817.7" y1="1692.7" x2="850.6" y2="1692.7" stroke="#000" stroke-width="4.2"/>
<text transform="translate(850.7,1687) scale(1,1.04)" font-size="19.7" text-anchor="middle">P=0.0001</text>
<line x1="837" y1="1665" x2="870.6" y2="1665" stroke="#000" stroke-width="4.2"/>
<text transform="translate(866,1659) scale(1,1.04)" font-size="19.7" text-anchor="middle">P=0.0001</text>
<line x1="854.6" y1="1638" x2="887.6" y2="1638" stroke="#000" stroke-width="4.2"/>
<text transform="translate(879.2,1631.5) scale(1,1.04)" font-size="19.7" text-anchor="middle">P&lt;0.0001</text>
<text transform="translate(596.6,1788) scale(1,1.04)" font-size="34" text-anchor="end">CC</text>
<text transform="translate(617.5,1787.51) scale(1,1.04)" font-size="33" text-anchor="middle" stroke="#000" stroke-width="0.35">+</text>
<text transform="translate(639.2,1789.62) scale(1.28,1.12)" font-size="33" text-anchor="middle">-</text>
<text transform="translate(659.9,1789.62) scale(1.28,1.12)" font-size="33" text-anchor="middle">-</text>
<text transform="translate(680.6,1789.62) scale(1.28,1.12)" font-size="33" text-anchor="middle">-</text>
<text transform="translate(720.9,1787.51) scale(1,1.04)" font-size="33" text-anchor="middle" stroke="#000" stroke-width="0.35">+</text>
<text transform="translate(742.6,1789.62) scale(1.28,1.12)" font-size="33" text-anchor="middle">-</text>
<text transform="translate(763.3,1789.62) scale(1.28,1.12)" font-size="33" text-anchor="middle">-</text>
<text transform="translate(784,1789.62) scale(1.28,1.12)" font-size="33" text-anchor="middle">-</text>
<text transform="translate(823.9,1787.51) scale(1,1.04)" font-size="33" text-anchor="middle" stroke="#000" stroke-width="0.35">+</text>
<text transform="translate(845.6,1789.62) scale(1.28,1.12)" font-size="33" text-anchor="middle">-</text>
<text transform="translate(866.3,1789.62) scale(1.28,1.12)" font-size="33" text-anchor="middle">-</text>
<text transform="translate(887,1789.62) scale(1.28,1.12)" font-size="33" text-anchor="middle">-</text>
<text transform="translate(596.6,1827.8) scale(1,1.04)" font-size="34" text-anchor="end">Met</text>
<text transform="translate(617.5,1825.41) scale(1,1.04)" font-size="33" text-anchor="middle" stroke="#000" stroke-width="0.35">+</text>
<text transform="translate(638.2,1825.41) scale(1,1.04)" font-size="33" text-anchor="middle" stroke="#000" stroke-width="0.35">+</text>
<text transform="translate(659.9,1827.52) scale(1.28,1.12)" font-size="33" text-anchor="middle">-</text>
<text transform="translate(680.6,1827.52) scale(1.28,1.12)" font-size="33" text-anchor="middle">-</text>
<text transform="translate(720.9,1825.41) scale(1,1.04)" font-size="33" text-anchor="middle" stroke="#000" stroke-width="0.35">+</text>
<text transform="translate(741.6,1825.41) scale(1,1.04)" font-size="33" text-anchor="middle" stroke="#000" stroke-width="0.35">+</text>
<text transform="translate(763.3,1827.52) scale(1.28,1.12)" font-size="33" text-anchor="middle">-</text>
<text transform="translate(784,1827.52) scale(1.28,1.12)" font-size="33" text-anchor="middle">-</text>
<text transform="translate(823.9,1825.41) scale(1,1.04)" font-size="33" text-anchor="middle" stroke="#000" stroke-width="0.35">+</text>
<text transform="translate(844.6,1825.41) scale(1,1.04)" font-size="33" text-anchor="middle" stroke="#000" stroke-width="0.35">+</text>
<text transform="translate(866.3,1827.52) scale(1.28,1.12)" font-size="33" text-anchor="middle">-</text>
<text transform="translate(887,1827.52) scale(1.28,1.12)" font-size="33" text-anchor="middle">-</text>
<text transform="translate(596.6,1869) scale(1,1.04)" font-size="34" text-anchor="end">SAM</text>
<text transform="translate(618.5,1871.32) scale(1.28,1.12)" font-size="33" text-anchor="middle">-</text>
<text transform="translate(639.2,1871.32) scale(1.28,1.12)" font-size="33" text-anchor="middle">-</text>
<text transform="translate(659.9,1871.32) scale(1.28,1.12)" font-size="33" text-anchor="middle">-</text>
<text transform="translate(679.6,1869.21) scale(1,1.04)" font-size="33" text-anchor="middle" stroke="#000" stroke-width="0.35">+</text>
<text transform="translate(721.9,1871.32) scale(1.28,1.12)" font-size="33" text-anchor="middle">-</text>
<text transform="translate(742.6,1871.32) scale(1.28,1.12)" font-size="33" text-anchor="middle">-</text>
<text transform="translate(763.3,1871.32) scale(1.28,1.12)" font-size="33" text-anchor="middle">-</text>
<text transform="translate(783,1869.21) scale(1,1.04)" font-size="33" text-anchor="middle" stroke="#000" stroke-width="0.35">+</text>
<text transform="translate(824.9,1871.32) scale(1.28,1.12)" font-size="33" text-anchor="middle">-</text>
<text transform="translate(845.6,1871.32) scale(1.28,1.12)" font-size="33" text-anchor="middle">-</text>
<text transform="translate(866.3,1871.32) scale(1.28,1.12)" font-size="33" text-anchor="middle">-</text>
<text transform="translate(886,1869.21) scale(1,1.04)" font-size="33" text-anchor="middle" stroke="#000" stroke-width="0.35">+</text>
<text transform="translate(957,1366.5) scale(1,1.04)" font-size="35.5" font-weight="bold">I</text>
<text transform="translate(1202,1366) scale(1,1.04)" font-size="35" text-anchor="middle">MEF</text>
<line x1="1076.5" y1="1503.72" x2="1076.5" y2="1746.7" stroke="#000" stroke-width="3.2"/>
<line x1="1067.5" y1="1746.7" x2="1076.5" y2="1746.7" stroke="#000" stroke-width="2.56"/>
<line x1="1067.5" y1="1698.36" x2="1076.5" y2="1698.36" stroke="#000" stroke-width="2.56"/>
<line x1="1067.5" y1="1650.02" x2="1076.5" y2="1650.02" stroke="#000" stroke-width="2.56"/>
<line x1="1067.5" y1="1601.68" x2="1076.5" y2="1601.68" stroke="#000" stroke-width="2.56"/>
<line x1="1067.5" y1="1553.34" x2="1076.5" y2="1553.34" stroke="#000" stroke-width="2.56"/>
<line x1="1067.5" y1="1505" x2="1076.5" y2="1505" stroke="#000" stroke-width="2.56"/>
<text transform="translate(1062.8,1758.86) scale(1,1.04)" font-size="33.5" text-anchor="end">0</text>
<text transform="translate(1062.8,1710.52) scale(1,1.04)" font-size="33.5" text-anchor="end">10</text>
<text transform="translate(1062.8,1662.18) scale(1,1.04)" font-size="33.5" text-anchor="end">20</text>
<text transform="translate(1062.8,1613.84) scale(1,1.04)" font-size="33.5" text-anchor="end">30</text>
<text transform="translate(1062.8,1565.5) scale(1,1.04)" font-size="33.5" text-anchor="end">40</text>
<text transform="translate(1062.8,1517.16) scale(1,1.04)" font-size="33.5" text-anchor="end">50</text>
<line x1="1066.5" y1="1746.7" x2="1321.1" y2="1746.7" stroke="#000" stroke-width="3"/>
<text transform="translate(998,1616.4) rotate(-90) scale(1,1.04)" font-size="35.3" text-anchor="middle">Lipid ROS (%)</text>
<rect x="1088.85" y="1740.42" width="19.7" height="6.28" fill="#64A6F5" stroke="#000" stroke-width="1.8"/>
<line x1="1098.7" y1="1742.35" x2="1098.7" y2="1738.48" stroke="#000" stroke-width="1.6"/>
<line x1="1093.2" y1="1738.48" x2="1104.2" y2="1738.48" stroke="#000" stroke-width="1.6"/>
<line x1="1093.2" y1="1742.35" x2="1104.2" y2="1742.35" stroke="#000" stroke-width="1.6"/>
<circle cx="1090.7" cy="1742.35" r="3.5" fill="#fff" stroke="#000" stroke-width="1.4"/>
<circle cx="1098.7" cy="1738.48" r="3.5" fill="#fff" stroke="#000" stroke-width="1.4"/>
<circle cx="1106.7" cy="1739.93" r="3.5" fill="#fff" stroke="#000" stroke-width="1.4"/>
<rect x="1121.9" y="1564.46" width="19.7" height="182.24" fill="#64A6F5" stroke="#000" stroke-width="1.8"/>
<line x1="1131.75" y1="1571.71" x2="1131.75" y2="1557.21" stroke="#000" stroke-width="1.6"/>
<line x1="1126.25" y1="1557.21" x2="1137.25" y2="1557.21" stroke="#000" stroke-width="1.6"/>
<line x1="1126.25" y1="1571.71" x2="1137.25" y2="1571.71" stroke="#000" stroke-width="1.6"/>
<circle cx="1131.75" cy="1557.21" r="3.5" fill="#fff" stroke="#000" stroke-width="1.4"/>
<circle cx="1122.75" cy="1568.33" r="3.5" fill="#fff" stroke="#000" stroke-width="1.4"/>
<circle cx="1131.75" cy="1568.33" r="3.5" fill="#fff" stroke="#000" stroke-width="1.4"/>
<circle cx="1140.75" cy="1568.33" r="3.5" fill="#fff" stroke="#000" stroke-width="1.4"/>
<rect x="1154.95" y="1729.3" width="19.7" height="17.4" fill="#64A6F5" stroke="#000" stroke-width="1.8"/>
<line x1="1164.8" y1="1730.26" x2="1164.8" y2="1728.33" stroke="#000" stroke-width="1.6"/>
<line x1="1159.3" y1="1728.33" x2="1170.3" y2="1728.33" stroke="#000" stroke-width="1.6"/>
<line x1="1159.3" y1="1730.26" x2="1170.3" y2="1730.26" stroke="#000" stroke-width="1.6"/>
<circle cx="1156.8" cy="1729.3" r="3.5" fill="#fff" stroke="#000" stroke-width="1.4"/>
<circle cx="1164.8" cy="1729.3" r="3.5" fill="#fff" stroke="#000" stroke-width="1.4"/>
<circle cx="1172.8" cy="1729.3" r="3.5" fill="#fff" stroke="#000" stroke-width="1.4"/>
<rect x="1188" y="1636.48" width="19.7" height="110.22" fill="#64A6F5" stroke="#000" stroke-width="1.8"/>
<line x1="1197.85" y1="1649.05" x2="1197.85" y2="1623.92" stroke="#000" stroke-width="1.6"/>
<line x1="1192.35" y1="1623.92" x2="1203.35" y2="1623.92" stroke="#000" stroke-width="1.6"/>
<line x1="1192.35" y1="1649.05" x2="1203.35" y2="1649.05" stroke="#000" stroke-width="1.6"/>
<circle cx="1199.85" cy="1624.88" r="3.5" fill="#fff" stroke="#000" stroke-width="1.4"/>
<circle cx="1206.85" cy="1634.07" r="3.5" fill="#fff" stroke="#000" stroke-width="1.4"/>
<circle cx="1197.85" cy="1652.44" r="3.5" fill="#fff" stroke="#000" stroke-width="1.4"/>
<rect x="1221.05" y="1742.83" width="19.7" height="3.87" fill="#64A6F5" stroke="#000" stroke-width="1.8"/>
<line x1="1230.9" y1="1744.77" x2="1230.9" y2="1740.9" stroke="#000" stroke-width="1.6"/>
<line x1="1225.4" y1="1740.9" x2="1236.4" y2="1740.9" stroke="#000" stroke-width="1.6"/>
<line x1="1225.4" y1="1744.77" x2="1236.4" y2="1744.77" stroke="#000" stroke-width="1.6"/>
<circle cx="1222.9" cy="1744.28" r="3.5" fill="#fff" stroke="#000" stroke-width="1.4"/>
<circle cx="1230.9" cy="1740.9" r="3.5" fill="#fff" stroke="#000" stroke-width="1.4"/>
<circle cx="1238.9" cy="1743.8" r="3.5" fill="#fff" stroke="#000" stroke-width="1.4"/>
<rect x="1254.1" y="1589.6" width="19.7" height="157.11" fill="#64A6F5" stroke="#000" stroke-width="1.8"/>
<line x1="1263.95" y1="1615.22" x2="1263.95" y2="1563.97" stroke="#000" stroke-width="1.6"/>
<line x1="1258.45" y1="1563.97" x2="1269.45" y2="1563.97" stroke="#000" stroke-width="1.6"/>
<line x1="1258.45" y1="1615.22" x2="1269.45" y2="1615.22" stroke="#000" stroke-width="1.6"/>
<circle cx="1263.95" cy="1568.81" r="3.5" fill="#fff" stroke="#000" stroke-width="1.4"/>
<circle cx="1263.95" cy="1582.34" r="3.5" fill="#fff" stroke="#000" stroke-width="1.4"/>
<circle cx="1263.95" cy="1616.18" r="3.5" fill="#fff" stroke="#000" stroke-width="1.4"/>
<rect x="1287.15" y="1740.42" width="19.7" height="6.28" fill="#64A6F5" stroke="#000" stroke-width="1.8"/>
<line x1="1297" y1="1745.25" x2="1297" y2="1735.58" stroke="#000" stroke-width="1.6"/>
<line x1="1291.5" y1="1735.58" x2="1302.5" y2="1735.58" stroke="#000" stroke-width="1.6"/>
<line x1="1291.5" y1="1745.25" x2="1302.5" y2="1745.25" stroke="#000" stroke-width="1.6"/>
<circle cx="1297" cy="1734.62" r="3.5" fill="#fff" stroke="#000" stroke-width="1.4"/>
<circle cx="1305" cy="1741.87" r="3.5" fill="#fff" stroke="#000" stroke-width="1.4"/>
<circle cx="1289" cy="1745.25" r="3.5" fill="#fff" stroke="#000" stroke-width="1.4"/>
<line x1="1094.4" y1="1547.6" x2="1129" y2="1547.6" stroke="#000" stroke-width="3.6"/>
<text transform="translate(1123.4,1542) scale(1,1.04)" font-size="19.7" text-anchor="middle">P&lt;0.0001</text>
<line x1="1132" y1="1517.7" x2="1166.7" y2="1517.7" stroke="#000" stroke-width="3.6"/>
<text transform="translate(1146.9,1512) scale(1,1.04)" font-size="19.7" text-anchor="middle">P&lt;0.0001</text>
<line x1="1094.4" y1="1493" x2="1200.2" y2="1493" stroke="#000" stroke-width="3.6"/>
<text transform="translate(1146.9,1486.4) scale(1,1.04)" font-size="19.7" text-anchor="middle">P&lt;0.0001</text>
<line x1="1093.5" y1="1467.4" x2="1265.7" y2="1467.4" stroke="#000" stroke-width="3.6"/>
<text transform="translate(1178.2,1460.3) scale(1,1.04)" font-size="19.7" text-anchor="middle">P&lt;0.0001</text>
<line x1="1196" y1="1613.6" x2="1231.5" y2="1613.6" stroke="#000" stroke-width="3.6"/>
<text transform="translate(1209.9,1604.5) scale(1,1.04)" font-size="19.7" text-anchor="middle">P&lt;0.0001</text>
<line x1="1267.7" y1="1553.9" x2="1302.6" y2="1553.9" stroke="#000" stroke-width="3.6"/>
<text transform="translate(1284.2,1546.2) scale(1,1.04)" font-size="19.7" text-anchor="middle">P&lt;0.0001</text>
<text transform="translate(1066.5,1788) scale(1,1.04)" font-size="34.5" text-anchor="end">CC</text>
<text transform="translate(1099.7,1787.51) scale(1,1.04)" font-size="33" text-anchor="middle" stroke="#000" stroke-width="0.35">+</text>
<text transform="translate(1132.25,1789.62) scale(1.28,1.12)" font-size="33" text-anchor="middle">-</text>
<text transform="translate(1165.3,1789.62) scale(1.28,1.12)" font-size="33" text-anchor="middle">-</text>
<text transform="translate(1198.85,1787.51) scale(1,1.04)" font-size="33" text-anchor="middle" stroke="#000" stroke-width="0.35">+</text>
<text transform="translate(1231.9,1787.51) scale(1,1.04)" font-size="33" text-anchor="middle" stroke="#000" stroke-width="0.35">+</text>
<text transform="translate(1264.95,1787.51) scale(1,1.04)" font-size="33" text-anchor="middle" stroke="#000" stroke-width="0.35">+</text>
<text transform="translate(1298,1787.51) scale(1,1.04)" font-size="33" text-anchor="middle" stroke="#000" stroke-width="0.35">+</text>
<text transform="translate(1066.5,1829.3) scale(1,1.04)" font-size="34.5" text-anchor="end">IKE</text>
<text transform="translate(1099.2,1827.72) scale(1.28,1.12)" font-size="33" text-anchor="middle">-</text>
<text transform="translate(1132.25,1827.72) scale(1.28,1.12)" font-size="33" text-anchor="middle">-</text>
<text transform="translate(1165.3,1827.72) scale(1.28,1.12)" font-size="33" text-anchor="middle">-</text>
<text transform="translate(1198.85,1825.61) scale(1,1.04)" font-size="33" text-anchor="middle" stroke="#000" stroke-width="0.35">+</text>
<text transform="translate(1231.9,1825.61) scale(1,1.04)" font-size="33" text-anchor="middle" stroke="#000" stroke-width="0.35">+</text>
<text transform="translate(1264.45,1827.72) scale(1.28,1.12)" font-size="33" text-anchor="middle">-</text>
<text transform="translate(1297.5,1827.72) scale(1.28,1.12)" font-size="33" text-anchor="middle">-</text>
<text transform="translate(1066.5,1870.5) scale(1,1.04)" font-size="34.5" text-anchor="end">Erastin</text>
<text transform="translate(1099.2,1870.32) scale(1.28,1.12)" font-size="33" text-anchor="middle">-</text>
<text transform="translate(1132.25,1870.32) scale(1.28,1.12)" font-size="33" text-anchor="middle">-</text>
<text transform="translate(1165.3,1870.32) scale(1.28,1.12)" font-size="33" text-anchor="middle">-</text>
<text transform="translate(1198.35,1870.32) scale(1.28,1.12)" font-size="33" text-anchor="middle">-</text>
<text transform="translate(1231.4,1870.32) scale(1.28,1.12)" font-size="33" text-anchor="middle">-</text>
<text transform="translate(1264.95,1868.21) scale(1,1.04)" font-size="33" text-anchor="middle" stroke="#000" stroke-width="0.35">+</text>
<text transform="translate(1298,1868.21) scale(1,1.04)" font-size="33" text-anchor="middle" stroke="#000" stroke-width="0.35">+</text>
<text transform="translate(1066.5,1910.3) scale(1,1.04)" font-size="34.5" text-anchor="end">FIDAS-5</text>
<text transform="translate(1099.2,1910.52) scale(1.28,1.12)" font-size="33" text-anchor="middle">-</text>
<text transform="translate(1132.25,1910.52) scale(1.28,1.12)" font-size="33" text-anchor="middle">-</text>
<text transform="translate(1165.8,1908.41) scale(1,1.04)" font-size="33" text-anchor="middle" stroke="#000" stroke-width="0.35">+</text>
<text transform="translate(1198.35,1910.52) scale(1.28,1.12)" font-size="33" text-anchor="middle">-</text>
<text transform="translate(1231.9,1908.41) scale(1,1.04)" font-size="33" text-anchor="middle" stroke="#000" stroke-width="0.35">+</text>
<text transform="translate(1264.45,1910.52) scale(1.28,1.12)" font-size="33" text-anchor="middle">-</text>
<text transform="translate(1298,1908.41) scale(1,1.04)" font-size="33" text-anchor="middle" stroke="#000" stroke-width="0.35">+</text>
<text transform="translate(1420.5,1367) scale(1,1.04)" font-size="35.5" font-weight="bold">J</text>
<text transform="translate(1653.4,1366) scale(1,1.04)" font-size="35" text-anchor="middle">MEF</text>
<line x1="1547.7" y1="1511.78" x2="1547.7" y2="1746.7" stroke="#000" stroke-width="2.8"/>
<line x1="1538.7" y1="1746.7" x2="1547.7" y2="1746.7" stroke="#000" stroke-width="2.24"/>
<line x1="1538.7" y1="1699.94" x2="1547.7" y2="1699.94" stroke="#000" stroke-width="2.24"/>
<line x1="1538.7" y1="1653.18" x2="1547.7" y2="1653.18" stroke="#000" stroke-width="2.24"/>
<line x1="1538.7" y1="1606.42" x2="1547.7" y2="1606.42" stroke="#000" stroke-width="2.24"/>
<line x1="1538.7" y1="1559.66" x2="1547.7" y2="1559.66" stroke="#000" stroke-width="2.24"/>
<line x1="1538.7" y1="1512.9" x2="1547.7" y2="1512.9" stroke="#000" stroke-width="2.24"/>
<text transform="translate(1531.6,1760.37) scale(1,1.04)" font-size="33.5" text-anchor="end">0</text>
<text transform="translate(1531.6,1711.93) scale(1,1.04)" font-size="33.5" text-anchor="end">20</text>
<text transform="translate(1531.6,1663.48) scale(1,1.04)" font-size="33.5" text-anchor="end">40</text>
<text transform="translate(1531.6,1615.04) scale(1,1.04)" font-size="33.5" text-anchor="end">60</text>
<text transform="translate(1531.6,1566.6) scale(1,1.04)" font-size="33.5" text-anchor="end">80</text>
<text transform="translate(1531.6,1518.15) scale(1,1.04)" font-size="33.5" text-anchor="end">100</text>
<line x1="1537.7" y1="1746.7" x2="1796.6" y2="1746.7" stroke="#000" stroke-width="3"/>
<text transform="translate(1453,1618) rotate(-90) scale(1,1.04)" font-size="35.3" text-anchor="middle">Cell death (%)</text>
<rect x="1560.65" y="1741.09" width="19.7" height="5.61" fill="#64A6F5" stroke="#000" stroke-width="1.8"/>
<line x1="1570.5" y1="1741.79" x2="1570.5" y2="1740.39" stroke="#000" stroke-width="1.6"/>
<line x1="1565" y1="1740.39" x2="1576" y2="1740.39" stroke="#000" stroke-width="1.6"/>
<line x1="1565" y1="1741.79" x2="1576" y2="1741.79" stroke="#000" stroke-width="1.6"/>
<circle cx="1562.5" cy="1741.09" r="3.5" fill="#fff" stroke="#000" stroke-width="1.4"/>
<circle cx="1570.5" cy="1741.09" r="3.5" fill="#fff" stroke="#000" stroke-width="1.4"/>
<circle cx="1578.5" cy="1741.09" r="3.5" fill="#fff" stroke="#000" stroke-width="1.4"/>
<rect x="1594.05" y="1565.97" width="19.7" height="180.73" fill="#64A6F5" stroke="#000" stroke-width="1.8"/>
<line x1="1603.9" y1="1570.18" x2="1603.9" y2="1561.76" stroke="#000" stroke-width="1.6"/>
<line x1="1598.4" y1="1561.76" x2="1609.4" y2="1561.76" stroke="#000" stroke-width="1.6"/>
<line x1="1598.4" y1="1570.18" x2="1609.4" y2="1570.18" stroke="#000" stroke-width="1.6"/>
<circle cx="1603.9" cy="1560.83" r="3.5" fill="#fff" stroke="#000" stroke-width="1.4"/>
<circle cx="1594.9" cy="1567.84" r="3.5" fill="#fff" stroke="#000" stroke-width="1.4"/>
<circle cx="1603.9" cy="1567.84" r="3.5" fill="#fff" stroke="#000" stroke-width="1.4"/>
<circle cx="1612.9" cy="1567.84" r="3.5" fill="#fff" stroke="#000" stroke-width="1.4"/>
<rect x="1627.45" y="1735.95" width="19.7" height="10.75" fill="#64A6F5" stroke="#000" stroke-width="1.8"/>
<line x1="1637.3" y1="1737.35" x2="1637.3" y2="1734.54" stroke="#000" stroke-width="1.6"/>
<line x1="1631.8" y1="1734.54" x2="1642.8" y2="1734.54" stroke="#000" stroke-width="1.6"/>
<line x1="1631.8" y1="1737.35" x2="1642.8" y2="1737.35" stroke="#000" stroke-width="1.6"/>
<circle cx="1637.3" cy="1734.31" r="3.5" fill="#fff" stroke="#000" stroke-width="1.4"/>
<circle cx="1629.3" cy="1736.65" r="3.5" fill="#fff" stroke="#000" stroke-width="1.4"/>
<circle cx="1645.3" cy="1736.65" r="3.5" fill="#fff" stroke="#000" stroke-width="1.4"/>
<rect x="1660.85" y="1569.48" width="19.7" height="177.22" fill="#64A6F5" stroke="#000" stroke-width="1.8"/>
<line x1="1670.7" y1="1574.16" x2="1670.7" y2="1564.8" stroke="#000" stroke-width="1.6"/>
<line x1="1665.2" y1="1564.8" x2="1676.2" y2="1564.8" stroke="#000" stroke-width="1.6"/>
<line x1="1665.2" y1="1574.16" x2="1676.2" y2="1574.16" stroke="#000" stroke-width="1.6"/>
<circle cx="1670.7" cy="1563.87" r="3.5" fill="#fff" stroke="#000" stroke-width="1.4"/>
<circle cx="1661.7" cy="1570.65" r="3.5" fill="#fff" stroke="#000" stroke-width="1.4"/>
<circle cx="1670.7" cy="1570.65" r="3.5" fill="#fff" stroke="#000" stroke-width="1.4"/>
<circle cx="1679.7" cy="1570.65" r="3.5" fill="#fff" stroke="#000" stroke-width="1.4"/>
<rect x="1694.25" y="1733.37" width="19.7" height="13.33" fill="#64A6F5" stroke="#000" stroke-width="1.8"/>
<line x1="1704.1" y1="1735.71" x2="1704.1" y2="1731.04" stroke="#000" stroke-width="1.6"/>
<line x1="1698.6" y1="1731.04" x2="1709.6" y2="1731.04" stroke="#000" stroke-width="1.6"/>
<line x1="1698.6" y1="1735.71" x2="1709.6" y2="1735.71" stroke="#000" stroke-width="1.6"/>
<circle cx="1704.1" cy="1730.57" r="3.5" fill="#fff" stroke="#000" stroke-width="1.4"/>
<circle cx="1696.1" cy="1735.01" r="3.5" fill="#fff" stroke="#000" stroke-width="1.4"/>
<circle cx="1712.1" cy="1735.01" r="3.5" fill="#fff" stroke="#000" stroke-width="1.4"/>
<rect x="1727.65" y="1558.26" width="19.7" height="188.44" fill="#64A6F5" stroke="#000" stroke-width="1.8"/>
<line x1="1737.5" y1="1564.1" x2="1737.5" y2="1552.41" stroke="#000" stroke-width="1.6"/>
<line x1="1732" y1="1552.41" x2="1743" y2="1552.41" stroke="#000" stroke-width="1.6"/>
<line x1="1732" y1="1564.1" x2="1743" y2="1564.1" stroke="#000" stroke-width="1.6"/>
<circle cx="1745.5" cy="1553.82" r="3.5" fill="#fff" stroke="#000" stroke-width="1.4"/>
<circle cx="1737.5" cy="1562" r="3.5" fill="#fff" stroke="#000" stroke-width="1.4"/>
<circle cx="1737.5" cy="1558.49" r="3.5" fill="#fff" stroke="#000" stroke-width="1.4"/>
<rect x="1761.05" y="1729.16" width="19.7" height="17.54" fill="#64A6F5" stroke="#000" stroke-width="1.8"/>
<line x1="1770.9" y1="1730.57" x2="1770.9" y2="1727.76" stroke="#000" stroke-width="1.6"/>
<line x1="1765.4" y1="1727.76" x2="1776.4" y2="1727.76" stroke="#000" stroke-width="1.6"/>
<line x1="1765.4" y1="1730.57" x2="1776.4" y2="1730.57" stroke="#000" stroke-width="1.6"/>
<circle cx="1770.9" cy="1727.53" r="3.5" fill="#fff" stroke="#000" stroke-width="1.4"/>
<circle cx="1762.9" cy="1729.63" r="3.5" fill="#fff" stroke="#000" stroke-width="1.4"/>
<circle cx="1778.9" cy="1729.63" r="3.5" fill="#fff" stroke="#000" stroke-width="1.4"/>
<line x1="1570.5" y1="1546.7" x2="1605.5" y2="1546.7" stroke="#000" stroke-width="3.6"/>
<text transform="translate(1592,1541.3) scale(1,1.04)" font-size="19.7" text-anchor="middle">P&lt;0.0001</text>
<line x1="1606.9" y1="1514.3" x2="1641.6" y2="1514.3" stroke="#000" stroke-width="3.6"/>
<text transform="translate(1623.2,1508.3) scale(1,1.04)" font-size="19.7" text-anchor="middle">P&lt;0.0001</text>
<line x1="1672.9" y1="1487.3" x2="1708.4" y2="1487.3" stroke="#000" stroke-width="3.6"/>
<text transform="translate(1684.9,1480.7) scale(1,1.04)" font-size="19.7" text-anchor="middle">P&lt;0.0001</text>
<line x1="1568.2" y1="1458" x2="1674.3" y2="1458" stroke="#000" stroke-width="3.6"/>
<text transform="translate(1621,1451.4) scale(1,1.04)" font-size="19.7" text-anchor="middle">P&lt;0.0001</text>
<line x1="1567.6" y1="1425.8" x2="1738.9" y2="1425.8" stroke="#000" stroke-width="3.6"/>
<text transform="translate(1652.6,1418.2) scale(1,1.04)" font-size="19.7" text-anchor="middle">P&lt;0.0001</text>
<line x1="1740.3" y1="1537.6" x2="1774.7" y2="1537.6" stroke="#000" stroke-width="3.6"/>
<text transform="translate(1756.3,1531.1) scale(1,1.04)" font-size="19.7" text-anchor="middle">P&lt;0.0001</text>
<text transform="translate(1536.3,1789.4) scale(1,1.04)" font-size="34.5" text-anchor="end">CC</text>
<text transform="translate(1568.9,1789.41) scale(1,1.04)" font-size="33" text-anchor="middle" stroke="#000" stroke-width="0.35">+</text>
<text transform="translate(1602.4,1791.52) scale(1.28,1.12)" font-size="33" text-anchor="middle">-</text>
<text transform="translate(1635.8,1791.52) scale(1.28,1.12)" font-size="33" text-anchor="middle">-</text>
<text transform="translate(1669.1,1789.41) scale(1,1.04)" font-size="33" text-anchor="middle" stroke="#000" stroke-width="0.35">+</text>
<text transform="translate(1702.5,1789.41) scale(1,1.04)" font-size="33" text-anchor="middle" stroke="#000" stroke-width="0.35">+</text>
<text transform="translate(1735.9,1789.41) scale(1,1.04)" font-size="33" text-anchor="middle" stroke="#000" stroke-width="0.35">+</text>
<text transform="translate(1769.3,1789.41) scale(1,1.04)" font-size="33" text-anchor="middle" stroke="#000" stroke-width="0.35">+</text>
<text transform="translate(1536.3,1829.3) scale(1,1.04)" font-size="34.5" text-anchor="end">IKE</text>
<text transform="translate(1569,1830.32) scale(1.28,1.12)" font-size="33" text-anchor="middle">-</text>
<text transform="translate(1602.4,1830.32) scale(1.28,1.12)" font-size="33" text-anchor="middle">-</text>
<text transform="translate(1635.8,1830.32) scale(1.28,1.12)" font-size="33" text-anchor="middle">-</text>
<text transform="translate(1669.1,1828.21) scale(1,1.04)" font-size="33" text-anchor="middle" stroke="#000" stroke-width="0.35">+</text>
<text transform="translate(1702.5,1828.21) scale(1,1.04)" font-size="33" text-anchor="middle" stroke="#000" stroke-width="0.35">+</text>
<text transform="translate(1736,1830.32) scale(1.28,1.12)" font-size="33" text-anchor="middle">-</text>
<text transform="translate(1769.4,1830.32) scale(1.28,1.12)" font-size="33" text-anchor="middle">-</text>
<text transform="translate(1536.3,1871) scale(1,1.04)" font-size="34.5" text-anchor="end">Erastin</text>
<text transform="translate(1569,1873.12) scale(1.28,1.12)" font-size="33" text-anchor="middle">-</text>
<text transform="translate(1602.4,1873.12) scale(1.28,1.12)" font-size="33" text-anchor="middle">-</text>
<text transform="translate(1635.8,1873.12) scale(1.28,1.12)" font-size="33" text-anchor="middle">-</text>
<text transform="translate(1669.2,1873.12) scale(1.28,1.12)" font-size="33" text-anchor="middle">-</text>
<text transform="translate(1702.6,1873.12) scale(1.28,1.12)" font-size="33" text-anchor="middle">-</text>
<text transform="translate(1735.9,1871.01) scale(1,1.04)" font-size="33" text-anchor="middle" stroke="#000" stroke-width="0.35">+</text>
<text transform="translate(1769.3,1871.01) scale(1,1.04)" font-size="33" text-anchor="middle" stroke="#000" stroke-width="0.35">+</text>
<text transform="translate(1536.3,1910.3) scale(1,1.04)" font-size="34.5" text-anchor="end">FIDAS-5</text>
<text transform="translate(1569,1913.32) scale(1.28,1.12)" font-size="33" text-anchor="middle">-</text>
<text transform="translate(1602.4,1913.32) scale(1.28,1.12)" font-size="33" text-anchor="middle">-</text>
<text transform="translate(1635.7,1911.21) scale(1,1.04)" font-size="33" text-anchor="middle" stroke="#000" stroke-width="0.35">+</text>
<text transform="translate(1669.2,1913.32) scale(1.28,1.12)" font-size="33" text-anchor="middle">-</text>
<text transform="translate(1702.5,1911.21) scale(1,1.04)" font-size="33" text-anchor="middle" stroke="#000" stroke-width="0.35">+</text>
<text transform="translate(1736,1913.32) scale(1.28,1.12)" font-size="33" text-anchor="middle">-</text>
<text transform="translate(1769.3,1911.21) scale(1,1.04)" font-size="33" text-anchor="middle" stroke="#000" stroke-width="0.35">+</text>
<text transform="translate(2.6,2001.8) scale(1,1.04)" font-size="35.5" font-weight="bold">K</text>
<text transform="translate(278.1,2001.2) scale(1,1.04)" font-size="35" text-anchor="middle">HT1080</text>
<line x1="149.4" y1="2090.04" x2="149.4" y2="2327.9" stroke="#000" stroke-width="3.4"/>
<line x1="139.4" y1="2327.9" x2="149.4" y2="2327.9" stroke="#000" stroke-width="2.72"/>
<line x1="139.4" y1="2280.6" x2="149.4" y2="2280.6" stroke="#000" stroke-width="2.72"/>
<line x1="139.4" y1="2233.3" x2="149.4" y2="2233.3" stroke="#000" stroke-width="2.72"/>
<line x1="139.4" y1="2186" x2="149.4" y2="2186" stroke="#000" stroke-width="2.72"/>
<line x1="139.4" y1="2138.7" x2="149.4" y2="2138.7" stroke="#000" stroke-width="2.72"/>
<line x1="139.4" y1="2091.4" x2="149.4" y2="2091.4" stroke="#000" stroke-width="2.72"/>
<text transform="translate(130.5,2337.76) scale(1,1.04)" font-size="33.5" text-anchor="end">0</text>
<text transform="translate(130.5,2290.46) scale(1,1.04)" font-size="33.5" text-anchor="end">10</text>
<text transform="translate(130.5,2243.16) scale(1,1.04)" font-size="33.5" text-anchor="end">20</text>
<text transform="translate(130.5,2195.86) scale(1,1.04)" font-size="33.5" text-anchor="end">30</text>
<text transform="translate(130.5,2148.56) scale(1,1.04)" font-size="33.5" text-anchor="end">40</text>
<text transform="translate(130.5,2101.26) scale(1,1.04)" font-size="33.5" text-anchor="end">50</text>
<line x1="138" y1="2327.9" x2="396.9" y2="2327.9" stroke="#000" stroke-width="3"/>
<text transform="translate(65.5,2192.6) rotate(-90) scale(1,1.04)" font-size="35.3" text-anchor="middle">Lipid ROS (%)</text>
<rect x="162.9" y="2318.44" width="21.2" height="9.46" fill="#64A6F5" stroke="#000" stroke-width="1.8"/>
<line x1="173.5" y1="2319.86" x2="173.5" y2="2317.02" stroke="#000" stroke-width="1.6"/>
<line x1="167.5" y1="2317.02" x2="179.5" y2="2317.02" stroke="#000" stroke-width="1.6"/>
<line x1="167.5" y1="2319.86" x2="179.5" y2="2319.86" stroke="#000" stroke-width="1.6"/>
<circle cx="164.5" cy="2318.44" r="3.6" fill="#fff" stroke="#000" stroke-width="1.4"/>
<circle cx="173.5" cy="2317.02" r="3.6" fill="#fff" stroke="#000" stroke-width="1.4"/>
<circle cx="182.5" cy="2317.02" r="3.6" fill="#fff" stroke="#000" stroke-width="1.4"/>
<rect x="192.8" y="2160.93" width="21.2" height="166.97" fill="#EB9C47" stroke="#000" stroke-width="1.8"/>
<line x1="203.4" y1="2181.74" x2="203.4" y2="2140.12" stroke="#000" stroke-width="1.6"/>
<line x1="197.4" y1="2140.12" x2="209.4" y2="2140.12" stroke="#000" stroke-width="1.6"/>
<line x1="197.4" y1="2181.74" x2="209.4" y2="2181.74" stroke="#000" stroke-width="1.6"/>
<circle cx="203.4" cy="2136.34" r="3.6" fill="#fff" stroke="#000" stroke-width="1.4"/>
<circle cx="195.4" cy="2171.81" r="3.6" fill="#fff" stroke="#000" stroke-width="1.4"/>
<circle cx="211.4" cy="2174.18" r="3.6" fill="#fff" stroke="#000" stroke-width="1.4"/>
<rect x="245.4" y="2316.08" width="21.2" height="11.82" fill="#64A6F5" stroke="#000" stroke-width="1.8"/>
<line x1="256" y1="2320.81" x2="256" y2="2311.35" stroke="#000" stroke-width="1.6"/>
<line x1="250" y1="2311.35" x2="262" y2="2311.35" stroke="#000" stroke-width="1.6"/>
<line x1="250" y1="2320.81" x2="262" y2="2320.81" stroke="#000" stroke-width="1.6"/>
<circle cx="256" cy="2309.93" r="3.6" fill="#fff" stroke="#000" stroke-width="1.4"/>
<circle cx="265" cy="2313.71" r="3.6" fill="#fff" stroke="#000" stroke-width="1.4"/>
<circle cx="248" cy="2320.81" r="3.6" fill="#fff" stroke="#000" stroke-width="1.4"/>
<rect x="276.2" y="2290.06" width="21.2" height="37.84" fill="#EB9C47" stroke="#000" stroke-width="1.8"/>
<line x1="286.8" y1="2297.16" x2="286.8" y2="2282.97" stroke="#000" stroke-width="1.6"/>
<line x1="280.8" y1="2282.97" x2="292.8" y2="2282.97" stroke="#000" stroke-width="1.6"/>
<line x1="280.8" y1="2297.16" x2="292.8" y2="2297.16" stroke="#000" stroke-width="1.6"/>
<circle cx="295.8" cy="2282.97" r="3.6" fill="#fff" stroke="#000" stroke-width="1.4"/>
<circle cx="286.8" cy="2287.7" r="3.6" fill="#fff" stroke="#000" stroke-width="1.4"/>
<circle cx="286.8" cy="2298.57" r="3.6" fill="#fff" stroke="#000" stroke-width="1.4"/>
<rect x="329.4" y="2320.81" width="21.2" height="7.09" fill="#64A6F5" stroke="#000" stroke-width="1.8"/>
<line x1="340" y1="2323.64" x2="340" y2="2317.97" stroke="#000" stroke-width="1.6"/>
<line x1="334" y1="2317.97" x2="346" y2="2317.97" stroke="#000" stroke-width="1.6"/>
<line x1="334" y1="2323.64" x2="346" y2="2323.64" stroke="#000" stroke-width="1.6"/>
<circle cx="340" cy="2317.02" r="3.6" fill="#fff" stroke="#000" stroke-width="1.4"/>
<circle cx="349" cy="2319.86" r="3.6" fill="#fff" stroke="#000" stroke-width="1.4"/>
<circle cx="331" cy="2322.22" r="3.6" fill="#fff" stroke="#000" stroke-width="1.4"/>
<rect x="359.2" y="2154.78" width="21.2" height="173.12" fill="#EB9C47" stroke="#000" stroke-width="1.8"/>
<line x1="369.8" y1="2180.8" x2="369.8" y2="2128.77" stroke="#000" stroke-width="1.6"/>
<line x1="363.8" y1="2128.77" x2="375.8" y2="2128.77" stroke="#000" stroke-width="1.6"/>
<line x1="363.8" y1="2180.8" x2="375.8" y2="2180.8" stroke="#000" stroke-width="1.6"/>
<circle cx="369.8" cy="2129.24" r="3.6" fill="#fff" stroke="#000" stroke-width="1.4"/>
<circle cx="369.8" cy="2141.07" r="3.6" fill="#fff" stroke="#000" stroke-width="1.4"/>
<circle cx="369.8" cy="2183.64" r="3.6" fill="#fff" stroke="#000" stroke-width="1.4"/>
<line x1="163.6" y1="2126.4" x2="205.4" y2="2126.4" stroke="#000" stroke-width="3.6"/>
<text transform="translate(192.5,2119.3) scale(1,1.04)" font-size="19.7" text-anchor="middle">P&lt;0.0001</text>
<line x1="192.9" y1="2082.9" x2="281.1" y2="2082.9" stroke="#000" stroke-width="3.6"/>
<text transform="translate(237.2,2071.8) scale(1,1.04)" font-size="19.7" text-anchor="middle">P&lt;0.0001</text>
<line x1="285.4" y1="2082.9" x2="373.5" y2="2082.9" stroke="#000" stroke-width="3.6"/>
<text transform="translate(331,2071.8) scale(1,1.04)" font-size="19.7" text-anchor="middle">P&lt;0.0001</text>
<line x1="332" y1="2117.9" x2="373.5" y2="2117.9" stroke="#000" stroke-width="3.6"/>
<text transform="translate(352.5,2110) scale(1,1.04)" font-size="19.7" text-anchor="middle">P&lt;0.0001</text>
<line x1="250.4" y1="2273" x2="291" y2="2273" stroke="#000" stroke-width="3.6"/>
<text transform="translate(271,2265.3) scale(1,1.04)" font-size="19.7" text-anchor="middle">P=0.2930</text>
<text transform="translate(142.3,2370.8) scale(1,1.04)" font-size="34.5" text-anchor="end">CC</text>
<text transform="translate(174.1,2370.11) scale(1,1.04)" font-size="33" text-anchor="middle" stroke="#000" stroke-width="0.35">+</text>
<text transform="translate(206.5,2372.22) scale(1.28,1.12)" font-size="33" text-anchor="middle">-</text>
<text transform="translate(254.1,2370.11) scale(1,1.04)" font-size="33" text-anchor="middle" stroke="#000" stroke-width="0.35">+</text>
<text transform="translate(288.7,2372.22) scale(1.28,1.12)" font-size="33" text-anchor="middle">-</text>
<text transform="translate(342.2,2370.11) scale(1,1.04)" font-size="33" text-anchor="middle" stroke="#000" stroke-width="0.35">+</text>
<text transform="translate(372.6,2372.22) scale(1.28,1.12)" font-size="33" text-anchor="middle">-</text>
<text transform="translate(142.3,2412.8) scale(1,1.04)" font-size="34.5" text-anchor="end">siControl</text>
<text transform="translate(174.1,2408.41) scale(1,1.04)" font-size="33" text-anchor="middle" stroke="#000" stroke-width="0.35">+</text>
<text transform="translate(206.5,2408.41) scale(1,1.04)" font-size="33" text-anchor="middle" stroke="#000" stroke-width="0.35">+</text>
<text transform="translate(254.1,2410.52) scale(1.28,1.12)" font-size="33" text-anchor="middle">-</text>
<text transform="translate(288.7,2410.52) scale(1.28,1.12)" font-size="33" text-anchor="middle">-</text>
<text transform="translate(342.2,2410.52) scale(1.28,1.12)" font-size="33" text-anchor="middle">-</text>
<text transform="translate(372.6,2410.52) scale(1.28,1.12)" font-size="33" text-anchor="middle">-</text>
<text transform="translate(142.3,2454.7) scale(1,1.04)" font-size="34.5" text-anchor="end">siMAT2A</text>
<text transform="translate(174.1,2452.92) scale(1.28,1.12)" font-size="33" text-anchor="middle">-</text>
<text transform="translate(206.5,2452.92) scale(1.28,1.12)" font-size="33" text-anchor="middle">-</text>
<text transform="translate(254.1,2450.81) scale(1,1.04)" font-size="33" text-anchor="middle" stroke="#000" stroke-width="0.35">+</text>
<text transform="translate(288.7,2450.81) scale(1,1.04)" font-size="33" text-anchor="middle" stroke="#000" stroke-width="0.35">+</text>
<text transform="translate(342.2,2450.81) scale(1,1.04)" font-size="33" text-anchor="middle" stroke="#000" stroke-width="0.35">+</text>
<text transform="translate(372.6,2450.81) scale(1,1.04)" font-size="33" text-anchor="middle" stroke="#000" stroke-width="0.35">+</text>
<text transform="translate(142.3,2496.5) scale(1,1.04)" font-size="34.5" text-anchor="end">SAM</text>
<text transform="translate(174.1,2494.02) scale(1.28,1.12)" font-size="33" text-anchor="middle">-</text>
<text transform="translate(206.5,2494.02) scale(1.28,1.12)" font-size="33" text-anchor="middle">-</text>
<text transform="translate(254.1,2494.02) scale(1.28,1.12)" font-size="33" text-anchor="middle">-</text>
<text transform="translate(288.7,2494.02) scale(1.28,1.12)" font-size="33" text-anchor="middle">-</text>
<text transform="translate(342.2,2491.91) scale(1,1.04)" font-size="33" text-anchor="middle" stroke="#000" stroke-width="0.35">+</text>
<text transform="translate(372.6,2491.91) scale(1,1.04)" font-size="33" text-anchor="middle" stroke="#000" stroke-width="0.35">+</text>
<text transform="translate(494,2001.8) scale(1,1.04)" font-size="35.5" font-weight="bold">L</text>
<text transform="translate(740,2001.2) scale(1,1.04)" font-size="35" text-anchor="middle">HT1080</text>
<line x1="610.7" y1="2090.93" x2="610.7" y2="2327.6" stroke="#000" stroke-width="3.4"/>
<line x1="601.7" y1="2327.6" x2="610.7" y2="2327.6" stroke="#000" stroke-width="2.72"/>
<line x1="601.7" y1="2249.16" x2="610.7" y2="2249.16" stroke="#000" stroke-width="2.72"/>
<line x1="601.7" y1="2170.73" x2="610.7" y2="2170.73" stroke="#000" stroke-width="2.72"/>
<line x1="601.7" y1="2092.3" x2="610.7" y2="2092.3" stroke="#000" stroke-width="2.72"/>
<text transform="translate(593.5,2338.76) scale(1,1.04)" font-size="33.5" text-anchor="end">0</text>
<text transform="translate(593.5,2260.33) scale(1,1.04)" font-size="33.5" text-anchor="end">50</text>
<text transform="translate(593.5,2181.89) scale(1,1.04)" font-size="33.5" text-anchor="end">100</text>
<text transform="translate(593.5,2103.46) scale(1,1.04)" font-size="33.5" text-anchor="end">150</text>
<line x1="600.8" y1="2327.6" x2="858.3" y2="2327.6" stroke="#000" stroke-width="3"/>
<text transform="translate(520,2194.5) rotate(-90) scale(1,1.04)" font-size="35.3" text-anchor="middle">Cell death (%)</text>
<rect x="624.4" y="2327.13" width="21.2" height="0.47" fill="#64A6F5" stroke="#000" stroke-width="1.8"/>
<circle cx="626" cy="2326.82" r="3.6" fill="#fff" stroke="#000" stroke-width="1.4"/>
<circle cx="635" cy="2326.82" r="3.6" fill="#fff" stroke="#000" stroke-width="1.4"/>
<circle cx="644" cy="2326.82" r="3.6" fill="#fff" stroke="#000" stroke-width="1.4"/>
<rect x="654.8" y="2190.34" width="21.2" height="137.26" fill="#EB9C47" stroke="#000" stroke-width="1.8"/>
<line x1="665.4" y1="2192.69" x2="665.4" y2="2187.99" stroke="#000" stroke-width="1.6"/>
<line x1="659.4" y1="2187.99" x2="671.4" y2="2187.99" stroke="#000" stroke-width="1.6"/>
<line x1="659.4" y1="2192.69" x2="671.4" y2="2192.69" stroke="#000" stroke-width="1.6"/>
<circle cx="665.4" cy="2188.77" r="3.6" fill="#fff" stroke="#000" stroke-width="1.4"/>
<circle cx="674.4" cy="2188.77" r="3.6" fill="#fff" stroke="#000" stroke-width="1.4"/>
<circle cx="656.4" cy="2192.69" r="3.6" fill="#fff" stroke="#000" stroke-width="1.4"/>
<rect x="708.3" y="2326.03" width="21.2" height="1.57" fill="#64A6F5" stroke="#000" stroke-width="1.8"/>
<line x1="718.9" y1="2326.82" x2="718.9" y2="2325.25" stroke="#000" stroke-width="1.6"/>
<line x1="712.9" y1="2325.25" x2="724.9" y2="2325.25" stroke="#000" stroke-width="1.6"/>
<line x1="712.9" y1="2326.82" x2="724.9" y2="2326.82" stroke="#000" stroke-width="1.6"/>
<circle cx="709.9" cy="2324.78" r="3.6" fill="#fff" stroke="#000" stroke-width="1.4"/>
<circle cx="718.9" cy="2325.25" r="3.6" fill="#fff" stroke="#000" stroke-width="1.4"/>
<circle cx="727.9" cy="2326.35" r="3.6" fill="#fff" stroke="#000" stroke-width="1.4"/>
<rect x="738.1" y="2326.66" width="21.2" height="0.94" fill="#EB9C47" stroke="#000" stroke-width="1.8"/>
<circle cx="739.7" cy="2326.35" r="3.6" fill="#fff" stroke="#000" stroke-width="1.4"/>
<circle cx="748.7" cy="2326.35" r="3.6" fill="#fff" stroke="#000" stroke-width="1.4"/>
<circle cx="757.7" cy="2326.35" r="3.6" fill="#fff" stroke="#000" stroke-width="1.4"/>
<rect x="792.2" y="2326.97" width="21.2" height="0.63" fill="#64A6F5" stroke="#000" stroke-width="1.8"/>
<circle cx="793.8" cy="2326.97" r="3.6" fill="#fff" stroke="#000" stroke-width="1.4"/>
<circle cx="802.8" cy="2326.66" r="3.6" fill="#fff" stroke="#000" stroke-width="1.4"/>
<circle cx="811.8" cy="2326.97" r="3.6" fill="#fff" stroke="#000" stroke-width="1.4"/>
<rect x="822" y="2185.95" width="21.2" height="141.65" fill="#EB9C47" stroke="#000" stroke-width="1.8"/>
<line x1="832.6" y1="2200.85" x2="832.6" y2="2171.04" stroke="#000" stroke-width="1.6"/>
<line x1="826.6" y1="2171.04" x2="838.6" y2="2171.04" stroke="#000" stroke-width="1.6"/>
<line x1="826.6" y1="2200.85" x2="838.6" y2="2200.85" stroke="#000" stroke-width="1.6"/>
<circle cx="832.6" cy="2177" r="3.6" fill="#fff" stroke="#000" stroke-width="1.4"/>
<circle cx="841.6" cy="2177" r="3.6" fill="#fff" stroke="#000" stroke-width="1.4"/>
<circle cx="832.6" cy="2202.1" r="3.6" fill="#fff" stroke="#000" stroke-width="1.4"/>
<line x1="625.8" y1="2170.5" x2="667.6" y2="2170.5" stroke="#000" stroke-width="3.6"/>
<text transform="translate(655.5,2163.4) scale(1,1.04)" font-size="19.7" text-anchor="middle">P&lt;0.0001</text>
<line x1="656.3" y1="2124.2" x2="743.6" y2="2124.2" stroke="#000" stroke-width="3.6"/>
<text transform="translate(702.9,2113.6) scale(1,1.04)" font-size="19.7" text-anchor="middle">P&lt;0.0001</text>
<line x1="748.7" y1="2124.2" x2="836.9" y2="2124.2" stroke="#000" stroke-width="3.6"/>
<text transform="translate(793.9,2113.6) scale(1,1.04)" font-size="19.7" text-anchor="middle">P&lt;0.0001</text>
<line x1="791.4" y1="2154.9" x2="831.8" y2="2154.9" stroke="#000" stroke-width="3.6"/>
<text transform="translate(813.2,2146.3) scale(1,1.04)" font-size="19.7" text-anchor="middle">P&lt;0.0001</text>
<line x1="716" y1="2311.4" x2="756.7" y2="2311.4" stroke="#000" stroke-width="3.6"/>
<text transform="translate(736.9,2301.4) scale(1,1.04)" font-size="19.7" text-anchor="middle">P&gt;0.9999</text>
<text transform="translate(604.6,2371.5) scale(1,1.04)" font-size="34.5" text-anchor="end">CC</text>
<text transform="translate(636.1,2371.21) scale(1,1.04)" font-size="33" text-anchor="middle" stroke="#000" stroke-width="0.35">+</text>
<text transform="translate(669,2373.32) scale(1.28,1.12)" font-size="33" text-anchor="middle">-</text>
<text transform="translate(716.3,2371.21) scale(1,1.04)" font-size="33" text-anchor="middle" stroke="#000" stroke-width="0.35">+</text>
<text transform="translate(751.1,2373.32) scale(1.28,1.12)" font-size="33" text-anchor="middle">-</text>
<text transform="translate(804.1,2371.21) scale(1,1.04)" font-size="33" text-anchor="middle" stroke="#000" stroke-width="0.35">+</text>
<text transform="translate(834.6,2373.32) scale(1.28,1.12)" font-size="33" text-anchor="middle">-</text>
<text transform="translate(604.6,2413.6) scale(1,1.04)" font-size="34.5" text-anchor="end">siControl</text>
<text transform="translate(636.1,2410.21) scale(1,1.04)" font-size="33" text-anchor="middle" stroke="#000" stroke-width="0.35">+</text>
<text transform="translate(669,2410.21) scale(1,1.04)" font-size="33" text-anchor="middle" stroke="#000" stroke-width="0.35">+</text>
<text transform="translate(716.3,2412.32) scale(1.28,1.12)" font-size="33" text-anchor="middle">-</text>
<text transform="translate(751.1,2412.32) scale(1.28,1.12)" font-size="33" text-anchor="middle">-</text>
<text transform="translate(804.1,2412.32) scale(1.28,1.12)" font-size="33" text-anchor="middle">-</text>
<text transform="translate(834.6,2412.32) scale(1.28,1.12)" font-size="33" text-anchor="middle">-</text>
<text transform="translate(604.6,2455.5) scale(1,1.04)" font-size="34.5" text-anchor="end">siMAT2A</text>
<text transform="translate(636.1,2455.02) scale(1.28,1.12)" font-size="33" text-anchor="middle">-</text>
<text transform="translate(669,2455.02) scale(1.28,1.12)" font-size="33" text-anchor="middle">-</text>
<text transform="translate(716.3,2452.91) scale(1,1.04)" font-size="33" text-anchor="middle" stroke="#000" stroke-width="0.35">+</text>
<text transform="translate(751.1,2452.91) scale(1,1.04)" font-size="33" text-anchor="middle" stroke="#000" stroke-width="0.35">+</text>
<text transform="translate(804.1,2452.91) scale(1,1.04)" font-size="33" text-anchor="middle" stroke="#000" stroke-width="0.35">+</text>
<text transform="translate(834.6,2452.91) scale(1,1.04)" font-size="33" text-anchor="middle" stroke="#000" stroke-width="0.35">+</text>
<text transform="translate(604.6,2497) scale(1,1.04)" font-size="34.5" text-anchor="end">SAM</text>
<text transform="translate(636.1,2494.72) scale(1.28,1.12)" font-size="33" text-anchor="middle">-</text>
<text transform="translate(669,2494.72) scale(1.28,1.12)" font-size="33" text-anchor="middle">-</text>
<text transform="translate(716.3,2494.72) scale(1.28,1.12)" font-size="33" text-anchor="middle">-</text>
<text transform="translate(751.1,2494.72) scale(1.28,1.12)" font-size="33" text-anchor="middle">-</text>
<text transform="translate(804.1,2492.61) scale(1,1.04)" font-size="33" text-anchor="middle" stroke="#000" stroke-width="0.35">+</text>
<text transform="translate(834.6,2492.61) scale(1,1.04)" font-size="33" text-anchor="middle" stroke="#000" stroke-width="0.35">+</text>
<text transform="translate(951.2,2001.5) scale(1,1.04)" font-size="35.5" font-weight="bold">M</text>
<text transform="translate(1188.5,2001.2) scale(1,1.04)" font-size="35" text-anchor="middle">HT1080</text>
<line x1="1075" y1="2094.63" x2="1075" y2="2231.7" stroke="#000" stroke-width="3.4"/>
<line x1="1066" y1="2231.7" x2="1075" y2="2231.7" stroke="#000" stroke-width="2.72"/>
<line x1="1066" y1="2186.46" x2="1075" y2="2186.46" stroke="#000" stroke-width="2.72"/>
<line x1="1066" y1="2141.23" x2="1075" y2="2141.23" stroke="#000" stroke-width="2.72"/>
<line x1="1066" y1="2095.99" x2="1075" y2="2095.99" stroke="#000" stroke-width="2.72"/>
<text transform="translate(1062.2,2242.86) scale(1,1.04)" font-size="33.5" text-anchor="end">0</text>
<text transform="translate(1062.2,2197.63) scale(1,1.04)" font-size="33.5" text-anchor="end">0.5</text>
<text transform="translate(1062.2,2152.39) scale(1,1.04)" font-size="33.5" text-anchor="end">1.0</text>
<text transform="translate(1062.2,2107.16) scale(1,1.04)" font-size="33.5" text-anchor="end">1.5</text>
<line x1="1066.5" y1="2231.7" x2="1312" y2="2231.7" stroke="#000" stroke-width="3"/>
<text transform="translate(959.8,2160.5) rotate(-90) scale(1,1.04)" font-size="34.8" text-anchor="middle">Total GSH</text>
<text transform="translate(991,2160) rotate(-90) scale(1,1.04)" font-size="26.8" text-anchor="middle">(Relative)</text>
<rect x="1088.6" y="2141.23" width="21.2" height="90.47" fill="#EB9C47" stroke="#000" stroke-width="1.8"/>
<line x1="1099.2" y1="2144.85" x2="1099.2" y2="2137.61" stroke="#000" stroke-width="1.6"/>
<line x1="1093.2" y1="2137.61" x2="1105.2" y2="2137.61" stroke="#000" stroke-width="1.6"/>
<line x1="1093.2" y1="2144.85" x2="1105.2" y2="2144.85" stroke="#000" stroke-width="1.6"/>
<circle cx="1099.2" cy="2137.61" r="3.3" fill="#fff" stroke="#000" stroke-width="1.4"/>
<circle cx="1090.2" cy="2143.04" r="3.3" fill="#fff" stroke="#000" stroke-width="1.4"/>
<circle cx="1108.2" cy="2143.04" r="3.3" fill="#fff" stroke="#000" stroke-width="1.4"/>
<rect x="1125.9" y="2225.37" width="21.2" height="6.33" fill="#EB9C47" stroke="#000" stroke-width="1.8"/>
<line x1="1136.5" y1="2226.72" x2="1136.5" y2="2224.01" stroke="#000" stroke-width="1.6"/>
<line x1="1130.5" y1="2224.01" x2="1142.5" y2="2224.01" stroke="#000" stroke-width="1.6"/>
<line x1="1130.5" y1="2226.72" x2="1142.5" y2="2226.72" stroke="#000" stroke-width="1.6"/>
<circle cx="1136.5" cy="2223.56" r="3.3" fill="#fff" stroke="#000" stroke-width="1.4"/>
<circle cx="1127.5" cy="2225.82" r="3.3" fill="#fff" stroke="#000" stroke-width="1.4"/>
<circle cx="1145.5" cy="2225.82" r="3.3" fill="#fff" stroke="#000" stroke-width="1.4"/>
<rect x="1163.2" y="2214.51" width="21.2" height="17.19" fill="#EB9C47" stroke="#000" stroke-width="1.8"/>
<line x1="1173.8" y1="2215.42" x2="1173.8" y2="2213.61" stroke="#000" stroke-width="1.6"/>
<line x1="1167.8" y1="2213.61" x2="1179.8" y2="2213.61" stroke="#000" stroke-width="1.6"/>
<line x1="1167.8" y1="2215.42" x2="1179.8" y2="2215.42" stroke="#000" stroke-width="1.6"/>
<circle cx="1164.8" cy="2214.51" r="3.3" fill="#fff" stroke="#000" stroke-width="1.4"/>
<circle cx="1173.8" cy="2214.51" r="3.3" fill="#fff" stroke="#000" stroke-width="1.4"/>
<circle cx="1182.8" cy="2214.51" r="3.3" fill="#fff" stroke="#000" stroke-width="1.4"/>
<rect x="1200.5" y="2211.8" width="21.2" height="19.9" fill="#EB9C47" stroke="#000" stroke-width="1.8"/>
<line x1="1211.1" y1="2214.51" x2="1211.1" y2="2209.08" stroke="#000" stroke-width="1.6"/>
<line x1="1205.1" y1="2209.08" x2="1217.1" y2="2209.08" stroke="#000" stroke-width="1.6"/>
<line x1="1205.1" y1="2214.51" x2="1217.1" y2="2214.51" stroke="#000" stroke-width="1.6"/>
<circle cx="1211.1" cy="2209.08" r="3.3" fill="#fff" stroke="#000" stroke-width="1.4"/>
<circle cx="1202.1" cy="2211.8" r="3.3" fill="#fff" stroke="#000" stroke-width="1.4"/>
<circle cx="1220.1" cy="2211.8" r="3.3" fill="#fff" stroke="#000" stroke-width="1.4"/>
<rect x="1237.8" y="2228.08" width="21.2" height="3.62" fill="#EB9C47" stroke="#000" stroke-width="1.8"/>
<line x1="1248.4" y1="2231.7" x2="1248.4" y2="2223.56" stroke="#000" stroke-width="1.6"/>
<line x1="1242.4" y1="2223.56" x2="1254.4" y2="2223.56" stroke="#000" stroke-width="1.6"/>
<circle cx="1248.4" cy="2224.46" r="3.3" fill="#fff" stroke="#000" stroke-width="1.4"/>
<circle cx="1257.4" cy="2222.65" r="3.3" fill="#fff" stroke="#000" stroke-width="1.4"/>
<circle cx="1248.4" cy="2233.51" r="3.3" fill="#fff" stroke="#000" stroke-width="1.4"/>
<rect x="1275.1" y="2228.08" width="21.2" height="3.62" fill="#EB9C47" stroke="#000" stroke-width="1.8"/>
<line x1="1285.7" y1="2231.7" x2="1285.7" y2="2223.56" stroke="#000" stroke-width="1.6"/>
<line x1="1279.7" y1="2223.56" x2="1291.7" y2="2223.56" stroke="#000" stroke-width="1.6"/>
<circle cx="1285.7" cy="2223.56" r="3.3" fill="#fff" stroke="#000" stroke-width="1.4"/>
<circle cx="1294.7" cy="2226.27" r="3.3" fill="#fff" stroke="#000" stroke-width="1.4"/>
<circle cx="1276.7" cy="2232.6" r="3.3" fill="#fff" stroke="#000" stroke-width="1.4"/>
<line x1="1101.2" y1="2121.3" x2="1137.6" y2="2121.3" stroke="#000" stroke-width="3.6"/>
<text transform="translate(1117.9,2114.5) scale(1,1.04)" font-size="19.7" text-anchor="middle">P&lt;0.0001</text>
<line x1="1134.8" y1="2201.8" x2="1171.2" y2="2201.8" stroke="#000" stroke-width="3.6"/>
<text transform="translate(1155.2,2196) scale(1,1.04)" font-size="19.7" text-anchor="middle">P=0.0090</text>
<line x1="1169.5" y1="2175.6" x2="1205.4" y2="2175.6" stroke="#000" stroke-width="3.6"/>
<text transform="translate(1188.8,2166.3) scale(1,1.04)" font-size="19.7" text-anchor="middle">P=0.8810</text>
<line x1="1165.2" y1="2144" x2="1244.3" y2="2144" stroke="#000" stroke-width="3.6"/>
<text transform="translate(1203,2134.1) scale(1,1.04)" font-size="19.7" text-anchor="middle">P=0.0026</text>
<line x1="1210.2" y1="2105.1" x2="1246.6" y2="2105.1" stroke="#000" stroke-width="3.6"/>
<text transform="translate(1229.4,2097.1) scale(1,1.04)" font-size="19.7" text-anchor="middle">P=0.0005</text>
<line x1="1209.6" y1="2069" x2="1294.1" y2="2069" stroke="#000" stroke-width="3.6"/>
<text transform="translate(1251.5,2061) scale(1,1.04)" font-size="19.7" text-anchor="middle">P=0.0004</text>
<line x1="1250" y1="2207.5" x2="1287.6" y2="2207.5" stroke="#000" stroke-width="3.6"/>
<text transform="translate(1267,2197.6) scale(1,1.04)" font-size="19.7" text-anchor="middle">P&gt;0.9999</text>
<text transform="translate(1343.7,2236) scale(1,1.04)" font-size="19.5" text-anchor="middle">(kDa)</text>
<rect x="1077" y="2240.3" width="230" height="43.2" fill="url(#gb1)"/>
<ellipse cx="1099" cy="2260.3" rx="12" ry="3.6" fill="#9a9a9a" filter="url(#b2)"/>
<ellipse cx="1137" cy="2260.3" rx="14" ry="3.6" fill="#111" filter="url(#b2)"/>
<ellipse cx="1174.8" cy="2260.3" rx="12" ry="3.6" fill="#a4a4a4" filter="url(#b2)"/>
<ellipse cx="1211" cy="2260.3" rx="12" ry="3.6" fill="#ababab" filter="url(#b2)"/>
<ellipse cx="1248.4" cy="2260.3" rx="13" ry="3.6" fill="#3a3a3a" filter="url(#b2)"/>
<ellipse cx="1285.5" cy="2260.3" rx="13" ry="3.6" fill="#333" filter="url(#b2)"/>
<rect x="1077" y="2288.8" width="230" height="43.2" fill="#efefef"/>
<ellipse cx="1095.4" cy="2311.2" rx="13.8" ry="2.5" fill="#080808" filter="url(#b1)"/>
<ellipse cx="1132" cy="2311.2" rx="13.8" ry="2.5" fill="#080808" filter="url(#b1)"/>
<ellipse cx="1169" cy="2311.2" rx="13.8" ry="2.5" fill="#080808" filter="url(#b1)"/>
<ellipse cx="1206.2" cy="2311.2" rx="13.8" ry="2.5" fill="#080808" filter="url(#b1)"/>
<ellipse cx="1243.6" cy="2311.2" rx="13.8" ry="2.5" fill="#080808" filter="url(#b1)"/>
<ellipse cx="1281.3" cy="2311.2" rx="13.8" ry="2.5" fill="#080808" filter="url(#b1)"/>
<text transform="translate(1314.5,2267.5) scale(1,1.04)" font-size="27">- 38</text>
<text transform="translate(1314.5,2317) scale(1,1.04)" font-size="27">- 50</text>
<text transform="translate(1065,2278.6) scale(1,1.04)" font-size="33" text-anchor="end">CHAC1</text>
<text transform="translate(1066.5,2320.7) scale(1,1.04)" font-size="33" text-anchor="end">Tubulin</text>
<text transform="translate(1069.3,2358) scale(1,1.04)" font-size="34.5" text-anchor="end">CC</text>
<text transform="translate(1103,2357.31) scale(1,1.04)" font-size="33" text-anchor="middle" stroke="#000" stroke-width="0.35">+</text>
<text transform="translate(1140.3,2359.42) scale(1.28,1.12)" font-size="33" text-anchor="middle">-</text>
<text transform="translate(1177.6,2359.42) scale(1.28,1.12)" font-size="33" text-anchor="middle">-</text>
<text transform="translate(1214.9,2359.42) scale(1.28,1.12)" font-size="33" text-anchor="middle">-</text>
<text transform="translate(1252.2,2359.42) scale(1.28,1.12)" font-size="33" text-anchor="middle">-</text>
<text transform="translate(1289.5,2359.42) scale(1.28,1.12)" font-size="33" text-anchor="middle">-</text>
<text transform="translate(1069.3,2396.9) scale(1,1.04)" font-size="34.5" text-anchor="end">Met</text>
<text transform="translate(1103,2396.31) scale(1,1.04)" font-size="33" text-anchor="middle" stroke="#000" stroke-width="0.35">+</text>
<text transform="translate(1140.3,2396.31) scale(1,1.04)" font-size="33" text-anchor="middle" stroke="#000" stroke-width="0.35">+</text>
<text transform="translate(1177.6,2398.42) scale(1.28,1.12)" font-size="33" text-anchor="middle">-</text>
<text transform="translate(1214.9,2398.42) scale(1.28,1.12)" font-size="33" text-anchor="middle">-</text>
<text transform="translate(1252.2,2398.42) scale(1.28,1.12)" font-size="33" text-anchor="middle">-</text>
<text transform="translate(1289.5,2398.42) scale(1.28,1.12)" font-size="33" text-anchor="middle">-</text>
<text transform="translate(1069.3,2436.2) scale(1,1.04)" font-size="34.5" text-anchor="end">SAM</text>
<text transform="translate(1103,2437.32) scale(1.28,1.12)" font-size="33" text-anchor="middle">-</text>
<text transform="translate(1140.3,2437.32) scale(1.28,1.12)" font-size="33" text-anchor="middle">-</text>
<text transform="translate(1177.6,2437.32) scale(1.28,1.12)" font-size="33" text-anchor="middle">-</text>
<text transform="translate(1214.9,2435.21) scale(1,1.04)" font-size="33" text-anchor="middle" stroke="#000" stroke-width="0.35">+</text>
<text transform="translate(1252.2,2437.32) scale(1.28,1.12)" font-size="33" text-anchor="middle">-</text>
<text transform="translate(1289.5,2435.21) scale(1,1.04)" font-size="33" text-anchor="middle" stroke="#000" stroke-width="0.35">+</text>
<text transform="translate(1069.3,2475.2) scale(1,1.04)" font-size="34.5" text-anchor="end">CHAC1</text>
<text transform="translate(1103,2476.32) scale(1.28,1.12)" font-size="33" text-anchor="middle">-</text>
<text transform="translate(1140.3,2476.32) scale(1.28,1.12)" font-size="33" text-anchor="middle">-</text>
<text transform="translate(1177.6,2476.32) scale(1.28,1.12)" font-size="33" text-anchor="middle">-</text>
<text transform="translate(1214.9,2476.32) scale(1.28,1.12)" font-size="33" text-anchor="middle">-</text>
<text transform="translate(1252.2,2474.21) scale(1,1.04)" font-size="33" text-anchor="middle" stroke="#000" stroke-width="0.35">+</text>
<text transform="translate(1289.5,2474.21) scale(1,1.04)" font-size="33" text-anchor="middle" stroke="#000" stroke-width="0.35">+</text>
<text transform="translate(1421.5,2001.5) scale(1,1.04)" font-size="35.5" font-weight="bold">N</text>
<text transform="translate(1667.5,2001.2) scale(1,1.04)" font-size="35" text-anchor="middle">HT1080</text>
<line x1="1553.4" y1="2092.3" x2="1553.4" y2="2309.4" stroke="#000" stroke-width="3.4"/>
<line x1="1544.4" y1="2093.7" x2="1553.4" y2="2093.7" stroke="#000" stroke-width="2.8"/>
<line x1="1544.4" y1="2147.8" x2="1553.4" y2="2147.8" stroke="#000" stroke-width="2.8"/>
<line x1="1544.4" y1="2201.8" x2="1553.4" y2="2201.8" stroke="#000" stroke-width="2.8"/>
<line x1="1544.4" y1="2255.9" x2="1553.4" y2="2255.9" stroke="#000" stroke-width="2.8"/>
<line x1="1544.4" y1="2309.4" x2="1553.4" y2="2309.4" stroke="#000" stroke-width="2.8"/>
<text transform="translate(1533,2110.16) scale(1,1.04)" font-size="33.5" text-anchor="end">60</text>
<text transform="translate(1533,2181.16) scale(1,1.04)" font-size="33.5" text-anchor="end">40</text>
<text transform="translate(1533,2253.86) scale(1,1.04)" font-size="33.5" text-anchor="end">20</text>
<text transform="translate(1533,2324.96) scale(1,1.04)" font-size="33.5" text-anchor="end">0</text>
<line x1="1545.4" y1="2309.4" x2="1809.4" y2="2309.4" stroke="#000" stroke-width="3"/>
<text transform="translate(1478,2200.4) rotate(-90) scale(1,1.04)" font-size="35.3" text-anchor="middle">Cell death (%)</text>
<rect x="1567.8" y="2278.48" width="24" height="30.92" fill="#EB9C47" stroke="#000" stroke-width="1.8"/>
<line x1="1579.8" y1="2284.24" x2="1579.8" y2="2272.73" stroke="#000" stroke-width="1.6"/>
<line x1="1572.8" y1="2272.73" x2="1586.8" y2="2272.73" stroke="#000" stroke-width="1.6"/>
<line x1="1572.8" y1="2284.24" x2="1586.8" y2="2284.24" stroke="#000" stroke-width="1.6"/>
<circle cx="1569.8" cy="2268.78" r="3.6" fill="#fff" stroke="#000" stroke-width="1.4"/>
<circle cx="1579.8" cy="2274.53" r="3.6" fill="#fff" stroke="#000" stroke-width="1.4"/>
<circle cx="1589.8" cy="2278.48" r="3.6" fill="#fff" stroke="#000" stroke-width="1.4"/>
<circle cx="1569.8" cy="2284.24" r="3.6" fill="#fff" stroke="#000" stroke-width="1.4"/>
<circle cx="1589.8" cy="2284.24" r="3.6" fill="#fff" stroke="#000" stroke-width="1.4"/>
<rect x="1607.86" y="2204.43" width="24" height="104.97" fill="#EB9C47" stroke="#000" stroke-width="1.8"/>
<line x1="1619.86" y1="2222.4" x2="1619.86" y2="2186.45" stroke="#000" stroke-width="1.6"/>
<line x1="1612.86" y1="2186.45" x2="1626.86" y2="2186.45" stroke="#000" stroke-width="1.6"/>
<line x1="1612.86" y1="2222.4" x2="1626.86" y2="2222.4" stroke="#000" stroke-width="1.6"/>
<circle cx="1619.86" cy="2177.46" r="3.6" fill="#fff" stroke="#000" stroke-width="1.4"/>
<circle cx="1619.86" cy="2198.31" r="3.6" fill="#fff" stroke="#000" stroke-width="1.4"/>
<circle cx="1607.86" cy="2209.82" r="3.6" fill="#fff" stroke="#000" stroke-width="1.4"/>
<circle cx="1631.86" cy="2209.82" r="3.6" fill="#fff" stroke="#000" stroke-width="1.4"/>
<circle cx="1619.86" cy="2226" r="3.6" fill="#fff" stroke="#000" stroke-width="1.4"/>
<rect x="1647.92" y="2287.11" width="24" height="22.29" fill="#EB9C47" stroke="#000" stroke-width="1.8"/>
<line x1="1659.92" y1="2291.43" x2="1659.92" y2="2282.8" stroke="#000" stroke-width="1.6"/>
<line x1="1652.92" y1="2282.8" x2="1666.92" y2="2282.8" stroke="#000" stroke-width="1.6"/>
<line x1="1652.92" y1="2291.43" x2="1666.92" y2="2291.43" stroke="#000" stroke-width="1.6"/>
<circle cx="1649.92" cy="2278.48" r="3.6" fill="#fff" stroke="#000" stroke-width="1.4"/>
<circle cx="1659.92" cy="2284.24" r="3.6" fill="#fff" stroke="#000" stroke-width="1.4"/>
<circle cx="1669.92" cy="2286.75" r="3.6" fill="#fff" stroke="#000" stroke-width="1.4"/>
<circle cx="1649.92" cy="2289.99" r="3.6" fill="#fff" stroke="#000" stroke-width="1.4"/>
<circle cx="1669.92" cy="2291.43" r="3.6" fill="#fff" stroke="#000" stroke-width="1.4"/>
<rect x="1687.98" y="2223.12" width="24" height="86.28" fill="#EB9C47" stroke="#000" stroke-width="1.8"/>
<line x1="1699.98" y1="2237.5" x2="1699.98" y2="2208.74" stroke="#000" stroke-width="1.6"/>
<line x1="1692.98" y1="2208.74" x2="1706.98" y2="2208.74" stroke="#000" stroke-width="1.6"/>
<line x1="1692.98" y1="2237.5" x2="1706.98" y2="2237.5" stroke="#000" stroke-width="1.6"/>
<circle cx="1699.98" cy="2206.58" r="3.6" fill="#fff" stroke="#000" stroke-width="1.4"/>
<circle cx="1699.98" cy="2213.05" r="3.6" fill="#fff" stroke="#000" stroke-width="1.4"/>
<circle cx="1687.98" cy="2226" r="3.6" fill="#fff" stroke="#000" stroke-width="1.4"/>
<circle cx="1711.98" cy="2226" r="3.6" fill="#fff" stroke="#000" stroke-width="1.4"/>
<circle cx="1699.98" cy="2244.69" r="3.6" fill="#fff" stroke="#000" stroke-width="1.4"/>
<rect x="1728.04" y="2239.3" width="24" height="70.1" fill="#EB9C47" stroke="#000" stroke-width="1.8"/>
<line x1="1740.04" y1="2261.95" x2="1740.04" y2="2216.65" stroke="#000" stroke-width="1.6"/>
<line x1="1733.04" y1="2216.65" x2="1747.04" y2="2216.65" stroke="#000" stroke-width="1.6"/>
<line x1="1733.04" y1="2261.95" x2="1747.04" y2="2261.95" stroke="#000" stroke-width="1.6"/>
<circle cx="1740.04" cy="2206.22" r="3.6" fill="#fff" stroke="#000" stroke-width="1.4"/>
<circle cx="1740.04" cy="2226" r="3.6" fill="#fff" stroke="#000" stroke-width="1.4"/>
<circle cx="1740.04" cy="2241.81" r="3.6" fill="#fff" stroke="#000" stroke-width="1.4"/>
<circle cx="1729.04" cy="2258.71" r="3.6" fill="#fff" stroke="#000" stroke-width="1.4"/>
<circle cx="1751.04" cy="2261.59" r="3.6" fill="#fff" stroke="#000" stroke-width="1.4"/>
<rect x="1768.1" y="2179.26" width="24" height="130.14" fill="#EB9C47" stroke="#000" stroke-width="1.8"/>
<line x1="1780.1" y1="2197.95" x2="1780.1" y2="2160.57" stroke="#000" stroke-width="1.6"/>
<line x1="1773.1" y1="2160.57" x2="1787.1" y2="2160.57" stroke="#000" stroke-width="1.6"/>
<line x1="1773.1" y1="2197.95" x2="1787.1" y2="2197.95" stroke="#000" stroke-width="1.6"/>
<circle cx="1780.1" cy="2153.02" r="3.6" fill="#fff" stroke="#000" stroke-width="1.4"/>
<circle cx="1780.1" cy="2165.6" r="3.6" fill="#fff" stroke="#000" stroke-width="1.4"/>
<circle cx="1769.1" cy="2187.53" r="3.6" fill="#fff" stroke="#000" stroke-width="1.4"/>
<circle cx="1791.1" cy="2188.61" r="3.6" fill="#fff" stroke="#000" stroke-width="1.4"/>
<circle cx="1780.1" cy="2199.75" r="3.6" fill="#fff" stroke="#000" stroke-width="1.4"/>
<line x1="1578.1" y1="2172" x2="1616.8" y2="2172" stroke="#000" stroke-width="3.6"/>
<text transform="translate(1596.5,2165.4) scale(1,1.04)" font-size="19.7" text-anchor="middle">P&lt;0.0001</text>
<line x1="1620.8" y1="2144.4" x2="1660" y2="2144.4" stroke="#000" stroke-width="3.6"/>
<text transform="translate(1643.8,2137.8) scale(1,1.04)" font-size="19.7" text-anchor="middle">P&lt;0.0001</text>
<line x1="1662.4" y1="2197.8" x2="1701.9" y2="2197.8" stroke="#000" stroke-width="3.6"/>
<text transform="translate(1682.2,2191.9) scale(1,1.04)" font-size="19.7" text-anchor="middle">P&lt;0.0001</text>
<line x1="1702.7" y1="2115.6" x2="1742" y2="2115.6" stroke="#000" stroke-width="3.6"/>
<text transform="translate(1722.2,2108) scale(1,1.04)" font-size="19.7" text-anchor="middle">P=0.5935</text>
<line x1="1655" y1="2084.3" x2="1741.2" y2="2084.3" stroke="#000" stroke-width="3.6"/>
<text transform="translate(1698.5,2077.2) scale(1,1.04)" font-size="19.7" text-anchor="middle">P=0.0010</text>
<line x1="1691.4" y1="2055.9" x2="1782.4" y2="2055.9" stroke="#000" stroke-width="3.6"/>
<text transform="translate(1737.3,2049.6) scale(1,1.04)" font-size="19.7" text-anchor="middle">P=0.0029</text>
<line x1="1744.6" y1="2144.4" x2="1783.8" y2="2144.4" stroke="#000" stroke-width="3.6"/>
<text transform="translate(1765.4,2137.8) scale(1,1.04)" font-size="19.7" text-anchor="middle">P&lt;0.0001</text>
<text transform="translate(1539,2358) scale(1,1.04)" font-size="34.5" text-anchor="end">CC</text>
<text transform="translate(1581.3,2357.01) scale(1,1.04)" font-size="33" text-anchor="middle" stroke="#000" stroke-width="0.35">+</text>
<text transform="translate(1621.36,2359.12) scale(1.28,1.12)" font-size="33" text-anchor="middle">-</text>
<text transform="translate(1661.42,2359.12) scale(1.28,1.12)" font-size="33" text-anchor="middle">-</text>
<text transform="translate(1701.48,2359.12) scale(1.28,1.12)" font-size="33" text-anchor="middle">-</text>
<text transform="translate(1741.54,2359.12) scale(1.28,1.12)" font-size="33" text-anchor="middle">-</text>
<text transform="translate(1781.6,2359.12) scale(1.28,1.12)" font-size="33" text-anchor="middle">-</text>
<text transform="translate(1539,2397.1) scale(1,1.04)" font-size="34.5" text-anchor="end">Met</text>
<text transform="translate(1581.3,2396.01) scale(1,1.04)" font-size="33" text-anchor="middle" stroke="#000" stroke-width="0.35">+</text>
<text transform="translate(1621.36,2396.01) scale(1,1.04)" font-size="33" text-anchor="middle" stroke="#000" stroke-width="0.35">+</text>
<text transform="translate(1661.42,2398.12) scale(1.28,1.12)" font-size="33" text-anchor="middle">-</text>
<text transform="translate(1701.48,2398.12) scale(1.28,1.12)" font-size="33" text-anchor="middle">-</text>
<text transform="translate(1741.54,2398.12) scale(1.28,1.12)" font-size="33" text-anchor="middle">-</text>
<text transform="translate(1781.6,2398.12) scale(1.28,1.12)" font-size="33" text-anchor="middle">-</text>
<text transform="translate(1539,2436.2) scale(1,1.04)" font-size="34.5" text-anchor="end">SAM</text>
<text transform="translate(1581.3,2437.32) scale(1.28,1.12)" font-size="33" text-anchor="middle">-</text>
<text transform="translate(1621.36,2437.32) scale(1.28,1.12)" font-size="33" text-anchor="middle">-</text>
<text transform="translate(1661.42,2437.32) scale(1.28,1.12)" font-size="33" text-anchor="middle">-</text>
<text transform="translate(1701.48,2435.21) scale(1,1.04)" font-size="33" text-anchor="middle" stroke="#000" stroke-width="0.35">+</text>
<text transform="translate(1741.54,2437.32) scale(1.28,1.12)" font-size="33" text-anchor="middle">-</text>
<text transform="translate(1781.6,2435.21) scale(1,1.04)" font-size="33" text-anchor="middle" stroke="#000" stroke-width="0.35">+</text>
<text transform="translate(1539,2475.2) scale(1,1.04)" font-size="34.5" text-anchor="end">CHAC1</text>
<text transform="translate(1581.3,2476.22) scale(1.28,1.12)" font-size="33" text-anchor="middle">-</text>
<text transform="translate(1621.36,2476.22) scale(1.28,1.12)" font-size="33" text-anchor="middle">-</text>
<text transform="translate(1661.42,2476.22) scale(1.28,1.12)" font-size="33" text-anchor="middle">-</text>
<text transform="translate(1701.48,2476.22) scale(1.28,1.12)" font-size="33" text-anchor="middle">-</text>
<text transform="translate(1741.54,2474.11) scale(1,1.04)" font-size="33" text-anchor="middle" stroke="#000" stroke-width="0.35">+</text>
<text transform="translate(1781.6,2474.11) scale(1,1.04)" font-size="33" text-anchor="middle" stroke="#000" stroke-width="0.35">+</text>
</svg>
</body></html>
